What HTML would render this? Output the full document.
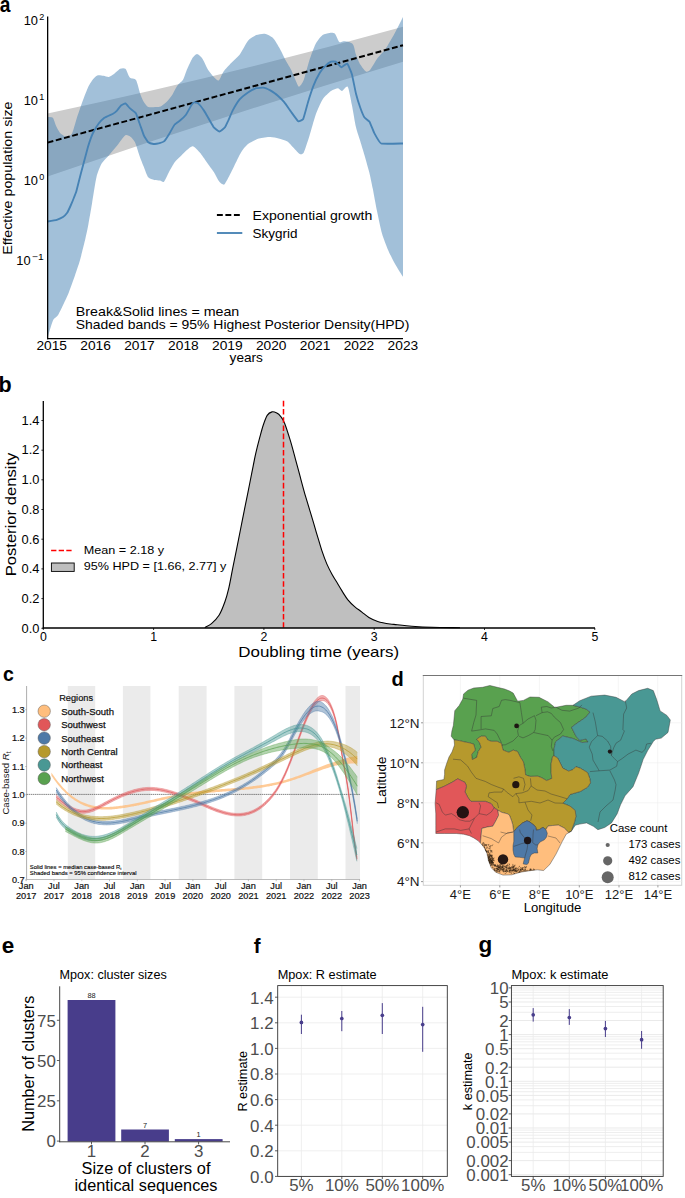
<!DOCTYPE html>
<html><head><meta charset="utf-8"><style>
html,body{margin:0;padding:0;background:#fff;}
svg{display:block;}
text{font-family:"Liberation Sans",sans-serif;}
</style></head><body>
<svg width="685" height="1198" viewBox="0 0 685 1198">
<rect width="685" height="1198" fill="#fff"/>
<g>
<path d="M47.6,113.4 Q225.25,76.1 403,26.8 L403,61.7 Q225.25,115.3 47.6,176.5 Z" fill="#cccccc"/>
<path d="M47.5,116.9 C48.1,117.0 51.8,116.7 52.8,117.8 C53.8,118.9 55.4,124.7 56.3,126.5 C57.2,128.3 59.4,132.4 60.6,133.6 C61.8,134.8 65.5,137.0 66.8,137.0 C68.1,137.0 70.9,135.6 72.0,133.6 C73.1,131.6 75.3,123.0 76.4,119.5 C77.5,116.0 80.4,107.5 81.7,103.8 C83.0,100.1 86.5,90.9 87.8,88.0 C89.1,85.1 91.9,80.8 93.0,79.3 C94.1,77.8 96.2,75.8 97.4,75.4 C98.6,75.0 102.2,75.6 103.5,75.8 C104.8,76.0 107.6,77.2 108.8,77.0 C110.0,76.8 112.7,75.0 114.0,74.0 C115.3,73.0 118.9,69.4 120.2,68.8 C121.5,68.2 124.3,67.8 125.4,68.8 C126.5,69.8 128.6,76.2 129.8,77.5 C131.0,78.8 134.8,78.2 136.0,80.1 C137.2,82.0 139.4,91.6 140.3,94.2 C141.2,96.8 142.9,100.5 143.8,102.0 C144.7,103.5 146.8,106.4 148.2,107.0 C149.6,107.6 154.5,107.1 156.0,107.0 C157.5,106.9 159.5,107.0 160.7,106.4 C161.9,105.8 165.0,103.5 166.3,102.2 C167.6,100.9 170.7,97.2 172.0,95.2 C173.3,93.2 176.2,87.2 177.5,85.4 C178.8,83.6 181.9,81.7 183.0,79.8 C184.1,77.9 186.2,71.1 187.3,68.7 C188.4,66.3 190.9,60.6 192.0,58.9 C193.1,57.2 195.8,54.1 197.0,54.1 C198.2,54.1 201.3,57.0 202.6,58.9 C203.9,60.8 206.9,67.9 208.2,70.0 C209.5,72.1 212.6,75.8 213.8,77.0 C215.0,78.2 217.7,81.1 218.8,80.5 C219.9,79.9 222.2,73.5 223.6,71.5 C225.0,69.5 229.3,65.0 231.2,63.0 C233.1,61.0 237.6,57.3 239.6,54.7 C241.6,52.1 246.1,43.0 248.0,40.7 C249.9,38.4 254.4,35.9 256.3,35.1 C258.2,34.3 262.8,33.4 264.7,33.7 C266.6,34.0 271.2,36.2 273.0,38.0 C274.8,39.8 278.5,46.4 280.0,49.0 C281.5,51.6 284.3,57.8 285.6,60.3 C286.9,62.8 290.1,67.7 291.2,70.0 C292.3,72.3 294.5,77.8 295.4,79.8 C296.3,81.8 298.0,86.8 299.0,86.8 C300.0,86.8 302.6,82.9 303.8,79.8 C305.0,76.7 308.0,64.5 309.4,60.3 C310.8,56.1 314.1,46.9 315.6,44.0 C317.1,41.1 321.0,36.4 322.6,35.1 C324.2,33.8 328.2,33.1 329.6,32.9 C331.0,32.7 333.9,32.6 335.0,33.7 C336.1,34.8 338.3,41.2 339.3,42.1 C340.3,43.0 342.4,41.3 343.5,41.3 C344.6,41.3 347.9,41.7 349.0,42.1 C350.1,42.5 352.5,43.5 353.3,45.0 C354.1,46.5 355.2,52.4 356.0,54.7 C356.8,57.0 359.1,62.5 360.3,64.5 C361.5,66.5 364.8,70.9 365.9,71.5 C367.0,72.1 368.7,71.5 370.0,70.0 C371.3,68.5 375.2,61.3 377.0,58.9 C378.8,56.5 383.4,51.9 385.4,49.1 C387.4,46.3 391.7,38.8 393.8,35.1 C395.9,31.4 401.9,19.1 403.0,17.0 L403.0,276.8 C402.1,275.3 396.9,267.3 395.2,264.2 C393.5,261.1 389.7,253.8 388.2,250.2 C386.7,246.6 383.3,238.1 382.0,233.5 C380.7,228.9 378.1,216.2 377.0,211.0 C375.9,205.8 373.7,193.4 372.8,188.8 C371.9,184.2 370.2,175.9 369.2,172.0 C368.2,168.1 365.5,158.9 364.5,155.3 C363.5,151.7 361.3,144.6 360.3,141.3 C359.3,138.0 357.0,131.5 356.0,127.3 C355.0,123.1 352.9,109.7 351.9,105.0 C350.9,100.3 348.9,88.4 347.7,86.8 C346.5,85.2 343.1,90.8 342.0,91.0 C340.9,91.2 339.3,88.2 338.0,88.2 C336.7,88.2 332.8,89.7 331.0,91.0 C329.2,92.3 324.4,96.6 322.6,99.4 C320.8,102.2 317.1,110.7 315.6,115.0 C314.1,119.3 310.8,131.6 309.4,136.0 C308.0,140.4 304.9,150.4 303.8,152.5 C302.7,154.6 300.7,154.4 299.6,153.9 C298.5,153.4 295.5,149.8 294.0,148.3 C292.5,146.8 288.8,142.4 287.0,141.3 C285.2,140.2 280.6,139.0 278.7,138.5 C276.8,138.0 272.6,137.0 270.3,137.0 C268.0,137.0 261.6,137.7 259.0,138.5 C256.4,139.3 250.1,142.4 248.0,144.0 C245.9,145.6 242.6,149.9 241.0,152.5 C239.4,155.1 235.5,163.5 234.0,166.4 C232.5,169.3 229.5,175.5 228.4,177.6 C227.3,179.7 225.2,184.1 224.2,184.6 C223.1,185.1 220.6,183.3 219.4,181.8 C218.2,180.3 215.3,174.3 213.8,172.0 C212.3,169.7 208.4,164.5 206.8,162.2 C205.2,159.9 201.4,154.4 199.8,152.5 C198.2,150.6 194.3,146.6 192.8,146.3 C191.3,146.0 188.8,148.5 187.3,149.7 C185.8,150.9 181.8,155.1 180.3,156.6 C178.8,158.1 176.0,160.4 174.7,162.2 C173.4,164.0 170.2,169.7 169.0,172.0 C167.8,174.3 165.1,180.7 164.0,181.7 C162.9,182.7 161.1,180.7 160.0,180.5 C158.9,180.3 155.7,180.4 154.3,180.0 C152.9,179.6 149.4,178.8 148.2,177.3 C147.0,175.8 144.8,169.4 143.8,166.8 C142.8,164.2 140.4,158.3 139.4,155.4 C138.4,152.5 136.0,144.4 135.0,142.3 C134.0,140.2 131.8,137.8 130.7,137.0 C129.6,136.2 126.9,134.4 125.4,135.3 C123.9,136.2 119.5,142.7 117.6,145.0 C115.7,147.3 110.6,153.3 108.8,155.4 C107.0,157.5 103.2,160.8 101.8,163.3 C100.4,165.8 97.6,172.3 96.5,177.0 C95.4,181.7 92.9,198.1 92.0,203.6 C91.1,209.1 89.2,219.8 88.4,224.2 C87.6,228.6 85.8,236.9 84.8,241.1 C83.8,245.3 81.0,256.5 79.9,260.5 C78.8,264.5 76.4,271.3 75.1,275.0 C73.8,278.7 70.4,288.4 69.0,291.9 C67.6,295.4 64.3,302.5 63.0,305.2 C61.7,307.9 59.2,313.2 58.1,314.9 C57.0,316.6 54.3,318.0 53.3,319.8 C52.3,321.6 50.4,328.4 49.7,330.6 C49.0,332.8 47.8,337.6 47.6,338.5 Z" fill="#4682b4" fill-opacity="0.5"/>
<line x1="47.6" y1="142.6" x2="403" y2="45.3" stroke="#000" stroke-width="2.0" stroke-dasharray="5.9,2.6"/>
<path d="M47.6,221.5 C48.2,221.4 55.9,220.1 56.8,219.8 C57.7,219.5 62.4,217.4 63.0,217.0 C63.6,216.6 66.5,213.7 67.0,213.0 C67.5,212.3 70.3,206.4 70.7,205.5 C71.1,204.6 73.5,198.8 73.8,198.0 C74.1,197.2 75.9,193.1 76.3,191.6 C76.7,190.1 80.1,176.4 80.8,173.8 C81.5,171.2 87.1,150.0 87.8,147.6 C88.5,145.2 92.3,134.4 93.0,133.0 C93.7,131.6 98.0,124.4 98.7,123.5 C99.4,122.6 103.6,118.4 104.4,117.8 C105.2,117.2 111.8,114.4 112.6,114.0 C113.4,113.6 116.5,111.1 117.0,110.6 C117.5,110.1 120.5,105.9 121.0,105.5 C121.5,105.1 124.9,103.2 125.4,103.4 C125.9,103.6 129.2,107.6 129.8,108.2 C130.4,108.8 135.4,112.5 136.0,113.4 C136.6,114.3 138.9,121.7 139.4,123.0 C139.9,124.3 143.3,134.1 143.8,135.3 C144.3,136.5 147.6,141.8 148.2,142.3 C148.8,142.8 152.8,143.9 153.5,144.0 C154.2,144.1 159.0,143.4 159.6,143.2 C160.2,143.0 163.4,141.9 164.0,141.4 C164.6,140.9 168.4,135.3 169.0,134.3 C169.6,133.3 174.0,125.3 174.7,124.5 C175.4,123.7 179.6,120.9 180.3,120.3 C181.0,119.7 185.3,115.6 186.0,114.7 C186.7,113.8 191.0,105.8 191.5,105.0 C192.0,104.2 194.4,102.3 194.8,102.2 C195.2,102.1 197.8,103.1 198.4,103.6 C199.0,104.1 203.3,109.6 204.0,110.6 C204.7,111.6 209.0,119.3 209.6,120.3 C210.2,121.3 213.2,126.6 213.8,127.3 C214.4,128.0 218.7,131.5 219.4,131.5 C220.1,131.5 224.5,128.0 225.0,127.3 C225.5,126.6 227.9,121.3 228.4,120.3 C228.9,119.3 231.9,111.9 232.6,110.6 C233.3,109.3 238.7,100.5 239.6,99.4 C240.5,98.3 247.0,93.1 248.0,92.4 C249.0,91.7 255.4,88.5 256.3,88.2 C257.2,87.9 262.5,87.6 263.3,87.7 C264.1,87.8 269.5,90.0 270.3,90.4 C271.1,90.9 276.5,94.5 277.3,95.2 C278.1,95.9 283.4,101.2 284.2,102.2 C285.0,103.2 290.4,110.9 291.2,112.0 C292.0,113.1 297.5,120.8 298.2,121.2 C298.9,121.6 302.6,120.1 303.2,119.0 C303.8,117.9 307.4,104.2 308.0,102.2 C308.6,100.2 312.9,87.2 313.6,85.4 C314.3,83.6 319.1,74.0 319.8,72.8 C320.5,71.6 324.7,66.6 325.4,65.9 C326.1,65.2 330.4,62.0 331.0,61.7 C331.6,61.4 335.1,61.4 335.7,61.7 C336.3,62.0 340.6,67.2 341.3,67.3 C342.0,67.4 346.6,63.2 347.2,63.6 C347.8,64.0 351.4,72.4 351.9,74.2 C352.4,76.0 355.5,91.8 356.0,93.8 C356.5,95.8 359.8,106.4 360.3,107.8 C360.8,109.2 363.9,116.7 364.5,117.5 C365.1,118.3 368.9,120.8 369.5,121.7 C370.1,122.6 373.5,131.6 374.2,132.9 C374.9,134.2 379.5,142.9 381.2,143.5 C382.9,144.1 401.7,143.5 403.0,143.5" fill="none" stroke="#4682b4" stroke-width="1.85" stroke-linejoin="round"/>
<line x1="47.65" y1="16.5" x2="47.65" y2="339.3" stroke="#000" stroke-width="1.3"/>
<line x1="47" y1="338.7" x2="403" y2="338.7" stroke="#000" stroke-width="1.3"/>
<text x="23.7" y="24.8" font-size="12.9" textLength="14.3" lengthAdjust="spacingAndGlyphs">10</text>
<text x="39.3" y="19.8" font-size="9.1">2</text>
<text x="23.7" y="104.8" font-size="12.9" textLength="14.3" lengthAdjust="spacingAndGlyphs">10</text>
<text x="39.3" y="99.8" font-size="9.1">1</text>
<text x="23.7" y="184.8" font-size="12.9" textLength="14.3" lengthAdjust="spacingAndGlyphs">10</text>
<text x="39.3" y="179.8" font-size="9.1">0</text>
<text x="16.3" y="264.9" font-size="12.9" textLength="14.3" lengthAdjust="spacingAndGlyphs">10</text>
<text x="32.1" y="259.9" font-size="9.1" textLength="11.7" lengthAdjust="spacingAndGlyphs">−1</text>
<text transform="translate(11.8,178.2) rotate(-90)" x="0" y="0" font-size="13.3" text-anchor="middle" textLength="153.3" lengthAdjust="spacingAndGlyphs">Effective population size</text>
<text x="51.7" y="350.3" font-size="12.6" text-anchor="middle" textLength="30.6" lengthAdjust="spacingAndGlyphs">2015</text>
<text x="95.6" y="350.3" font-size="12.6" text-anchor="middle" textLength="30.6" lengthAdjust="spacingAndGlyphs">2016</text>
<text x="139.5" y="350.3" font-size="12.6" text-anchor="middle" textLength="30.6" lengthAdjust="spacingAndGlyphs">2017</text>
<text x="183.4" y="350.3" font-size="12.6" text-anchor="middle" textLength="30.6" lengthAdjust="spacingAndGlyphs">2018</text>
<text x="227.3" y="350.3" font-size="12.6" text-anchor="middle" textLength="30.6" lengthAdjust="spacingAndGlyphs">2019</text>
<text x="271.2" y="350.3" font-size="12.6" text-anchor="middle" textLength="30.6" lengthAdjust="spacingAndGlyphs">2020</text>
<text x="315.1" y="350.3" font-size="12.6" text-anchor="middle" textLength="30.6" lengthAdjust="spacingAndGlyphs">2021</text>
<text x="359.0" y="350.3" font-size="12.6" text-anchor="middle" textLength="30.6" lengthAdjust="spacingAndGlyphs">2022</text>
<text x="402.9" y="350.3" font-size="12.6" text-anchor="middle" textLength="30.6" lengthAdjust="spacingAndGlyphs">2023</text>
<text x="246.25" y="362.1" font-size="13.3" text-anchor="middle" textLength="33.3" lengthAdjust="spacingAndGlyphs">years</text>
<line x1="216.9" y1="214.9" x2="242.3" y2="214.9" stroke="#000" stroke-width="2.0" stroke-dasharray="5.9,2.6"/>
<line x1="216.9" y1="233" x2="242.3" y2="233" stroke="#4682b4" stroke-width="1.85"/>
<text x="252.6" y="219.8" font-size="13.3" text-anchor="start" fill="#000" font-weight="normal" textLength="119.7" lengthAdjust="spacingAndGlyphs" >Exponential growth</text>
<text x="252.6" y="237.8" font-size="13.3" text-anchor="start" fill="#000" font-weight="normal" textLength="45" lengthAdjust="spacingAndGlyphs" >Skygrid</text>
<text x="75.8" y="315.8" font-size="13.3" text-anchor="start" fill="#000" font-weight="normal" textLength="163.5" lengthAdjust="spacingAndGlyphs" >Break&amp;Solid lines = mean</text>
<text x="75.8" y="329.2" font-size="13.3" text-anchor="start" fill="#000" font-weight="normal" textLength="333.5" lengthAdjust="spacingAndGlyphs" >Shaded bands = 95% Highest Posterior Density(HPD)</text>
<text transform="translate(-0.2,11.7) scale(0.84,1)" font-size="22.8" font-weight="bold">a</text>
</g>
<g>
<path d="M204.8,627.6 C205.9,626.9 209.1,625.7 211.5,623.6 C213.9,621.5 216.9,618.7 219.2,615.0 C221.4,611.3 223.4,606.0 225.0,601.5 C226.6,597.0 227.5,593.5 228.8,588.1 C230.1,582.7 231.3,575.3 232.6,568.9 C233.9,562.5 235.2,556.1 236.5,549.7 C237.8,543.3 239.0,536.9 240.3,530.5 C241.6,524.1 242.8,517.7 244.1,511.3 C245.4,504.9 246.7,498.5 248.0,492.1 C249.3,485.7 250.5,479.3 251.8,472.9 C253.1,466.5 254.4,459.4 255.7,453.7 C257.0,447.9 258.2,443.2 259.5,438.4 C260.8,433.6 262.0,428.8 263.3,425.0 C264.6,421.2 265.8,417.6 267.2,415.4 C268.6,413.2 270.4,412.3 272.0,411.9 C273.6,411.5 275.4,412.4 276.8,413.1 C278.2,413.8 279.3,414.7 280.6,416.3 C281.9,417.9 282.9,419.0 284.5,423.0 C286.1,427.0 288.4,434.3 290.2,440.2 C292.0,446.1 293.6,452.3 295.3,458.6 C297.0,464.9 298.8,471.5 300.5,477.9 C302.2,484.3 304.0,491.1 305.8,497.2 C307.6,503.3 309.4,508.9 311.1,514.7 C312.9,520.6 314.6,526.4 316.3,532.3 C318.1,538.1 319.9,544.5 321.6,549.8 C323.4,555.1 325.1,559.8 326.8,563.9 C328.6,568.0 330.3,571.2 332.1,574.4 C333.9,577.6 335.6,580.3 337.4,583.2 C339.1,586.1 340.9,589.1 342.6,591.9 C344.4,594.7 345.8,597.3 347.9,599.8 C349.9,602.3 352.6,604.8 354.9,606.8 C357.2,608.8 359.6,610.3 361.9,612.1 C364.2,613.9 366.3,615.9 368.9,617.4 C371.5,618.9 374.2,620.3 377.7,621.4 C381.2,622.5 386.8,623.5 390.0,624.0 C393.2,624.5 393.6,624.3 397.2,624.7 C400.8,625.1 406.0,625.8 411.8,626.2 C417.6,626.6 424.0,627.0 432.0,627.2 C440.0,627.5 455.3,627.6 460.0,627.7 L460,627.9 L204.8,627.9 Z" fill="#bfbfbf" stroke="none"/>
<path d="M204.8,627.6 C205.9,626.9 209.1,625.7 211.5,623.6 C213.9,621.5 216.9,618.7 219.2,615.0 C221.4,611.3 223.4,606.0 225.0,601.5 C226.6,597.0 227.5,593.5 228.8,588.1 C230.1,582.7 231.3,575.3 232.6,568.9 C233.9,562.5 235.2,556.1 236.5,549.7 C237.8,543.3 239.0,536.9 240.3,530.5 C241.6,524.1 242.8,517.7 244.1,511.3 C245.4,504.9 246.7,498.5 248.0,492.1 C249.3,485.7 250.5,479.3 251.8,472.9 C253.1,466.5 254.4,459.4 255.7,453.7 C257.0,447.9 258.2,443.2 259.5,438.4 C260.8,433.6 262.0,428.8 263.3,425.0 C264.6,421.2 265.8,417.6 267.2,415.4 C268.6,413.2 270.4,412.3 272.0,411.9 C273.6,411.5 275.4,412.4 276.8,413.1 C278.2,413.8 279.3,414.7 280.6,416.3 C281.9,417.9 282.9,419.0 284.5,423.0 C286.1,427.0 288.4,434.3 290.2,440.2 C292.0,446.1 293.6,452.3 295.3,458.6 C297.0,464.9 298.8,471.5 300.5,477.9 C302.2,484.3 304.0,491.1 305.8,497.2 C307.6,503.3 309.4,508.9 311.1,514.7 C312.9,520.6 314.6,526.4 316.3,532.3 C318.1,538.1 319.9,544.5 321.6,549.8 C323.4,555.1 325.1,559.8 326.8,563.9 C328.6,568.0 330.3,571.2 332.1,574.4 C333.9,577.6 335.6,580.3 337.4,583.2 C339.1,586.1 340.9,589.1 342.6,591.9 C344.4,594.7 345.8,597.3 347.9,599.8 C349.9,602.3 352.6,604.8 354.9,606.8 C357.2,608.8 359.6,610.3 361.9,612.1 C364.2,613.9 366.3,615.9 368.9,617.4 C371.5,618.9 374.2,620.3 377.7,621.4 C381.2,622.5 386.8,623.5 390.0,624.0 C393.2,624.5 393.6,624.3 397.2,624.7 C400.8,625.1 406.0,625.8 411.8,626.2 C417.6,626.6 424.0,627.0 432.0,627.2 C440.0,627.5 455.3,627.6 460.0,627.7" fill="none" stroke="#000" stroke-width="1.1"/>
<line x1="283.5" y1="400.8" x2="283.5" y2="627.5" stroke="#f00" stroke-width="1.5" stroke-dasharray="5.6,2.6"/>
<line x1="43.3" y1="400.9" x2="43.3" y2="628.6" stroke="#000" stroke-width="1.3"/>
<line x1="42.7" y1="627.95" x2="595" y2="627.95" stroke="#000" stroke-width="1.4"/>
<line x1="41.4" y1="628.3" x2="43.3" y2="628.3" stroke="#000" stroke-width="0.8"/>
<text x="39.4" y="632.5999999999999" font-size="12.3" text-anchor="end" fill="#000" font-weight="normal" textLength="17.9" lengthAdjust="spacingAndGlyphs" >0.0</text>
<line x1="41.4" y1="598.6" x2="43.3" y2="598.6" stroke="#000" stroke-width="0.8"/>
<text x="39.4" y="602.9099999999999" font-size="12.3" text-anchor="end" fill="#000" font-weight="normal" textLength="17.9" lengthAdjust="spacingAndGlyphs" >0.2</text>
<line x1="41.4" y1="568.9" x2="43.3" y2="568.9" stroke="#000" stroke-width="0.8"/>
<text x="39.4" y="573.2199999999999" font-size="12.3" text-anchor="end" fill="#000" font-weight="normal" textLength="17.9" lengthAdjust="spacingAndGlyphs" >0.4</text>
<line x1="41.4" y1="539.2" x2="43.3" y2="539.2" stroke="#000" stroke-width="0.8"/>
<text x="39.4" y="543.5299999999999" font-size="12.3" text-anchor="end" fill="#000" font-weight="normal" textLength="17.9" lengthAdjust="spacingAndGlyphs" >0.6</text>
<line x1="41.4" y1="509.5" x2="43.3" y2="509.5" stroke="#000" stroke-width="0.8"/>
<text x="39.4" y="513.8399999999999" font-size="12.3" text-anchor="end" fill="#000" font-weight="normal" textLength="17.9" lengthAdjust="spacingAndGlyphs" >0.8</text>
<line x1="41.4" y1="479.8" x2="43.3" y2="479.8" stroke="#000" stroke-width="0.8"/>
<text x="39.4" y="484.1499999999999" font-size="12.3" text-anchor="end" fill="#000" font-weight="normal" textLength="17.9" lengthAdjust="spacingAndGlyphs" >1.0</text>
<line x1="41.4" y1="450.2" x2="43.3" y2="450.2" stroke="#000" stroke-width="0.8"/>
<text x="39.4" y="454.46" font-size="12.3" text-anchor="end" fill="#000" font-weight="normal" textLength="17.9" lengthAdjust="spacingAndGlyphs" >1.2</text>
<line x1="41.4" y1="420.5" x2="43.3" y2="420.5" stroke="#000" stroke-width="0.8"/>
<text x="39.4" y="424.7699999999999" font-size="12.3" text-anchor="end" fill="#000" font-weight="normal" textLength="17.9" lengthAdjust="spacingAndGlyphs" >1.4</text>
<line x1="43.3" y1="628" x2="43.3" y2="630" stroke="#000" stroke-width="0.8"/>
<text x="43.3" y="641.3" font-size="12.3" text-anchor="middle" fill="#000" font-weight="normal" >0</text>
<line x1="153.6" y1="628" x2="153.6" y2="630" stroke="#000" stroke-width="0.8"/>
<text x="153.6" y="641.3" font-size="12.3" text-anchor="middle" fill="#000" font-weight="normal" >1</text>
<line x1="263.9" y1="628" x2="263.9" y2="630" stroke="#000" stroke-width="0.8"/>
<text x="263.9" y="641.3" font-size="12.3" text-anchor="middle" fill="#000" font-weight="normal" >2</text>
<line x1="374.2" y1="628" x2="374.2" y2="630" stroke="#000" stroke-width="0.8"/>
<text x="374.2" y="641.3" font-size="12.3" text-anchor="middle" fill="#000" font-weight="normal" >3</text>
<line x1="484.5" y1="628" x2="484.5" y2="630" stroke="#000" stroke-width="0.8"/>
<text x="484.5" y="641.3" font-size="12.3" text-anchor="middle" fill="#000" font-weight="normal" >4</text>
<line x1="594.8" y1="628" x2="594.8" y2="630" stroke="#000" stroke-width="0.8"/>
<text x="594.8" y="641.3" font-size="12.3" text-anchor="middle" fill="#000" font-weight="normal" >5</text>
<text transform="translate(15.8,514.5) rotate(-90)" font-size="14.6" text-anchor="middle" textLength="123.7" lengthAdjust="spacingAndGlyphs">Posterior density</text>
<text x="318.75" y="656.5" font-size="14.6" text-anchor="middle" fill="#000" font-weight="normal" textLength="161" lengthAdjust="spacingAndGlyphs" >Doubling time (years)</text>
<line x1="51.1" y1="550.4" x2="73" y2="550.4" stroke="#f00" stroke-width="1.5" stroke-dasharray="5.3,2.3"/>
<rect x="51.4" y="563" width="22.8" height="8.4" fill="#bfbfbf" stroke="#000" stroke-width="0.9"/>
<text x="83.8" y="553.6" font-size="11.2" text-anchor="start" fill="#000" font-weight="normal" textLength="80.3" lengthAdjust="spacingAndGlyphs" >Mean = 2.18 y</text>
<text x="83.8" y="570.2" font-size="11.2" text-anchor="start" fill="#000" font-weight="normal" textLength="142.5" lengthAdjust="spacingAndGlyphs" >95% HPD = [1.66, 2.77] y</text>
<text x="-1.5" y="391.7" font-size="21.5" font-weight="bold">b</text>
</g>
<g>
<rect x="67.8" y="686" width="27.4" height="193.4" fill="#ebebeb"/>
<rect x="122.9" y="686" width="27.5" height="193.4" fill="#ebebeb"/>
<rect x="178.7" y="686" width="27.9" height="193.4" fill="#ebebeb"/>
<rect x="234.4" y="686" width="27.8" height="193.4" fill="#ebebeb"/>
<rect x="290" y="686" width="27.8" height="193.4" fill="#ebebeb"/>
<rect x="345.5" y="686" width="14.5" height="193.4" fill="#ebebeb"/>
<line x1="26.6" y1="879.5" x2="360" y2="879.5" stroke="#a0a0a0" stroke-width="0.7"/>
<line x1="26.6" y1="686" x2="26.6" y2="879.5" stroke="#8a8a8a" stroke-width="0.7"/>
<line x1="26.6" y1="794.4" x2="360" y2="794.4" stroke="#333" stroke-width="0.6" stroke-dasharray="1.5,0.6"/>
<path d="M51.4,772.5 L52.7,774.4 L54.0,776.3 L55.2,778.1 L56.5,779.8 L57.8,781.5 L59.1,783.1 L60.4,784.6 L61.6,786.1 L62.9,787.5 L64.2,788.8 L65.5,790.1 L66.8,791.4 L68.0,792.6 L69.3,793.7 L70.6,794.8 L71.9,795.8 L73.2,796.7 L74.4,797.6 L75.7,798.4 L77.0,799.2 L78.3,800.0 L79.6,800.7 L80.8,801.4 L82.1,802.0 L83.4,802.6 L84.7,803.1 L86.0,803.6 L87.2,804.0 L88.5,804.5 L89.8,804.8 L91.1,805.2 L92.4,805.5 L93.6,805.8 L94.9,806.0 L96.2,806.2 L97.5,806.4 L98.8,806.6 L100.0,806.7 L101.3,806.8 L102.6,806.9 L103.9,806.9 L105.2,806.9 L106.4,806.9 L107.7,806.9 L109.0,806.9 L110.3,806.8 L111.6,806.8 L112.8,806.7 L114.1,806.6 L115.4,806.4 L116.7,806.3 L118.0,806.2 L119.2,806.0 L120.5,805.8 L121.8,805.7 L123.1,805.5 L124.4,805.3 L125.6,805.1 L126.9,804.9 L128.2,804.7 L129.5,804.5 L130.8,804.2 L132.0,804.0 L133.3,803.8 L134.6,803.5 L135.9,803.3 L137.2,803.0 L138.4,802.8 L139.7,802.5 L141.0,802.2 L142.3,801.9 L143.6,801.7 L144.8,801.4 L146.1,801.1 L147.4,800.8 L148.7,800.5 L150.0,800.2 L151.2,800.0 L152.5,799.7 L153.8,799.4 L155.1,799.1 L156.4,798.8 L157.6,798.5 L158.9,798.2 L160.2,797.9 L161.5,797.6 L162.8,797.3 L164.0,797.1 L165.3,796.8 L166.6,796.5 L167.9,796.2 L169.2,796.0 L170.4,795.7 L171.7,795.4 L173.0,795.2 L174.3,794.9 L175.6,794.7 L176.8,794.4 L178.1,794.2 L179.4,793.9 L180.7,793.7 L182.0,793.5 L183.2,793.3 L184.5,793.1 L185.8,792.9 L187.1,792.7 L188.4,792.5 L189.6,792.3 L190.9,792.1 L192.2,792.0 L193.5,791.8 L194.8,791.7 L196.0,791.5 L197.3,791.4 L198.6,791.2 L199.9,791.1 L201.2,790.9 L202.4,790.8 L203.7,790.7 L205.0,790.6 L206.3,790.4 L207.5,790.3 L208.8,790.2 L210.1,790.1 L211.4,790.0 L212.7,789.9 L213.9,789.8 L215.2,789.7 L216.5,789.5 L217.8,789.4 L219.1,789.3 L220.3,789.2 L221.6,789.1 L222.9,789.0 L224.2,788.9 L225.5,788.8 L226.7,788.7 L228.0,788.6 L229.3,788.5 L230.6,788.4 L231.9,788.3 L233.1,788.2 L234.4,788.1 L235.7,788.0 L237.0,787.9 L238.3,787.8 L239.5,787.7 L240.8,787.5 L242.1,787.4 L243.4,787.3 L244.7,787.2 L245.9,787.0 L247.2,786.9 L248.5,786.8 L249.8,786.6 L251.1,786.5 L252.3,786.3 L253.6,786.1 L254.9,786.0 L256.2,785.8 L257.5,785.6 L258.7,785.5 L260.0,785.3 L261.3,785.1 L262.6,784.9 L263.9,784.7 L265.1,784.4 L266.4,784.2 L267.7,784.0 L269.0,783.8 L270.3,783.5 L271.5,783.3 L272.8,783.0 L274.1,782.7 L275.4,782.5 L276.7,782.2 L277.9,781.9 L279.2,781.6 L280.5,781.2 L281.8,780.9 L283.1,780.6 L284.3,780.2 L285.6,779.9 L286.9,779.5 L288.2,779.1 L289.5,778.7 L290.7,778.3 L292.0,777.9 L293.3,777.5 L294.6,777.1 L295.9,776.6 L297.1,776.2 L298.4,775.7 L299.7,775.3 L301.0,774.8 L302.3,774.3 L303.5,773.8 L304.8,773.3 L306.1,772.7 L307.4,772.2 L308.7,771.7 L309.9,771.2 L311.2,770.7 L312.5,770.1 L313.8,769.6 L315.1,769.1 L316.3,768.6 L317.6,768.1 L318.9,767.6 L320.2,767.1 L321.5,766.6 L322.7,766.1 L324.0,765.6 L325.3,765.1 L326.6,764.6 L327.9,764.1 L329.1,763.7 L330.4,763.2 L331.7,762.8 L333.0,762.4 L334.3,762.0 L335.5,761.5 L336.8,761.1 L338.1,760.6 L339.4,760.2 L340.7,759.8 L341.9,759.4 L343.2,759.0 L344.5,758.6 L345.8,758.2 L347.1,757.9 L348.3,757.6 L349.6,757.3 L350.9,757.0 L352.2,756.8 L353.5,756.6 L354.7,756.4 L356.0,756.2 L357.3,756.0 L357.3,763.6 L356.0,763.6 L354.7,763.6 L353.5,763.6 L352.2,763.6 L350.9,763.6 L349.6,763.7 L348.3,763.8 L347.1,763.9 L345.8,764.0 L344.5,764.2 L343.2,764.3 L341.9,764.5 L340.7,764.7 L339.4,764.9 L338.1,765.1 L336.8,765.4 L335.5,765.6 L334.3,765.9 L333.0,766.3 L331.7,766.7 L330.4,767.1 L329.1,767.5 L327.9,767.9 L326.6,768.3 L325.3,768.7 L324.0,769.1 L322.7,769.6 L321.5,770.0 L320.2,770.5 L318.9,770.9 L317.6,771.4 L316.3,771.8 L315.1,772.3 L313.8,772.8 L312.5,773.2 L311.2,773.7 L309.9,774.2 L308.7,774.7 L307.4,775.1 L306.1,775.6 L304.8,776.0 L303.5,776.5 L302.3,777.0 L301.0,777.4 L299.7,777.9 L298.4,778.3 L297.1,778.8 L295.9,779.2 L294.6,779.7 L293.3,780.1 L292.0,780.5 L290.7,780.9 L289.5,781.3 L288.2,781.7 L286.9,782.1 L285.6,782.5 L284.3,782.8 L283.1,783.2 L281.8,783.5 L280.5,783.8 L279.2,784.2 L277.9,784.5 L276.7,784.8 L275.4,785.1 L274.1,785.3 L272.8,785.6 L271.5,785.9 L270.3,786.1 L269.0,786.4 L267.7,786.6 L266.4,786.8 L265.1,787.0 L263.9,787.3 L262.6,787.5 L261.3,787.7 L260.0,787.9 L258.7,788.1 L257.5,788.2 L256.2,788.4 L254.9,788.6 L253.6,788.7 L252.3,788.9 L251.1,789.1 L249.8,789.2 L248.5,789.4 L247.2,789.5 L245.9,789.6 L244.7,789.8 L243.4,789.9 L242.1,790.0 L240.8,790.1 L239.5,790.3 L238.3,790.4 L237.0,790.5 L235.7,790.6 L234.4,790.7 L233.1,790.8 L231.9,790.9 L230.6,791.0 L229.3,791.1 L228.0,791.2 L226.7,791.3 L225.5,791.4 L224.2,791.5 L222.9,791.6 L221.6,791.7 L220.3,791.8 L219.1,791.9 L217.8,792.0 L216.5,792.1 L215.2,792.3 L213.9,792.4 L212.7,792.5 L211.4,792.6 L210.1,792.7 L208.8,792.8 L207.5,792.9 L206.3,793.0 L205.0,793.2 L203.7,793.3 L202.4,793.4 L201.2,793.5 L199.9,793.7 L198.6,793.8 L197.3,794.0 L196.0,794.1 L194.8,794.3 L193.5,794.4 L192.2,794.6 L190.9,794.7 L189.6,794.9 L188.4,795.1 L187.1,795.3 L185.8,795.5 L184.5,795.7 L183.2,795.9 L182.0,796.1 L180.7,796.3 L179.4,796.5 L178.1,796.8 L176.8,797.0 L175.6,797.3 L174.3,797.5 L173.0,797.8 L171.7,798.0 L170.4,798.3 L169.2,798.6 L167.9,798.8 L166.6,799.1 L165.3,799.4 L164.0,799.7 L162.8,799.9 L161.5,800.2 L160.2,800.5 L158.9,800.8 L157.6,801.1 L156.4,801.4 L155.1,801.7 L153.8,802.0 L152.5,802.3 L151.2,802.6 L150.0,802.8 L148.7,803.1 L147.4,803.4 L146.1,803.7 L144.8,804.0 L143.6,804.3 L142.3,804.5 L141.0,804.8 L139.7,805.1 L138.4,805.4 L137.2,805.6 L135.9,805.9 L134.6,806.1 L133.3,806.4 L132.0,806.6 L130.8,806.8 L129.5,807.1 L128.2,807.3 L126.9,807.5 L125.6,807.7 L124.4,807.9 L123.1,808.1 L121.8,808.3 L120.5,808.4 L119.2,808.6 L118.0,808.8 L116.7,808.9 L115.4,809.0 L114.1,809.2 L112.8,809.3 L111.6,809.4 L110.3,809.4 L109.0,809.5 L107.7,809.5 L106.4,809.5 L105.2,809.5 L103.9,809.5 L102.6,809.5 L101.3,809.4 L100.0,809.3 L98.8,809.2 L97.5,809.0 L96.2,808.8 L94.9,808.6 L93.6,808.4 L92.4,808.1 L91.1,807.8 L89.8,807.4 L88.5,807.1 L87.2,806.6 L86.0,806.2 L84.7,805.7 L83.4,805.2 L82.1,804.6 L80.8,804.0 L79.6,803.3 L78.3,802.6 L77.0,801.8 L75.7,801.0 L74.4,800.2 L73.2,799.3 L71.9,798.4 L70.6,797.4 L69.3,796.3 L68.0,795.2 L66.8,794.1 L65.5,792.9 L64.2,791.6 L62.9,790.3 L61.6,788.9 L60.4,787.5 L59.1,786.0 L57.8,784.5 L56.5,782.8 L55.2,781.1 L54.0,779.4 L52.7,777.6 L51.4,775.7 Z" fill="#FFBE7D" fill-opacity="0.8" stroke="none"/>
<path d="M56.2,794.7 L57.5,795.9 L58.7,797.1 L60.0,798.2 L61.2,799.3 L62.5,800.4 L63.8,801.5 L65.0,802.5 L66.3,803.4 L67.5,804.4 L68.8,805.2 L70.0,806.0 L71.3,806.7 L72.6,807.4 L73.8,808.0 L75.1,808.5 L76.3,808.9 L77.6,809.3 L78.9,809.6 L80.1,809.9 L81.4,810.0 L82.6,810.1 L83.9,810.1 L85.1,810.0 L86.4,809.9 L87.7,809.7 L88.9,809.4 L90.2,809.0 L91.4,808.7 L92.7,808.2 L94.0,807.7 L95.2,807.2 L96.5,806.7 L97.7,806.1 L99.0,805.5 L100.3,804.8 L101.5,804.2 L102.8,803.5 L104.0,802.8 L105.3,802.1 L106.5,801.5 L107.8,800.8 L109.1,800.1 L110.3,799.5 L111.6,798.8 L112.8,798.2 L114.1,797.6 L115.4,796.9 L116.6,796.3 L117.9,795.8 L119.1,795.2 L120.4,794.6 L121.6,794.1 L122.9,793.5 L124.2,793.0 L125.4,792.5 L126.7,792.1 L127.9,791.6 L129.2,791.2 L130.5,790.8 L131.7,790.4 L133.0,790.0 L134.2,789.6 L135.5,789.3 L136.7,789.0 L138.0,788.7 L139.3,788.5 L140.5,788.2 L141.8,788.0 L143.0,787.8 L144.3,787.7 L145.6,787.6 L146.8,787.5 L148.1,787.4 L149.3,787.4 L150.6,787.4 L151.9,787.4 L153.1,787.5 L154.4,787.6 L155.6,787.7 L156.9,787.8 L158.1,788.0 L159.4,788.2 L160.7,788.4 L161.9,788.6 L163.2,788.8 L164.4,789.1 L165.7,789.4 L167.0,789.7 L168.2,790.0 L169.5,790.4 L170.7,790.7 L172.0,791.1 L173.2,791.5 L174.5,791.9 L175.8,792.3 L177.0,792.7 L178.3,793.1 L179.5,793.6 L180.8,794.0 L182.1,794.5 L183.3,794.9 L184.6,795.4 L185.8,795.9 L187.1,796.4 L188.4,796.9 L189.6,797.4 L190.9,797.9 L192.1,798.5 L193.4,799.0 L194.6,799.5 L195.9,800.1 L197.2,800.6 L198.4,801.2 L199.7,801.7 L200.9,802.3 L202.2,802.8 L203.5,803.4 L204.7,804.0 L206.0,804.5 L207.2,805.1 L208.5,805.6 L209.7,806.2 L211.0,806.7 L212.3,807.2 L213.5,807.7 L214.8,808.2 L216.0,808.7 L217.3,809.1 L218.6,809.6 L219.8,810.0 L221.1,810.4 L222.3,810.8 L223.6,811.2 L224.8,811.5 L226.1,811.9 L227.4,812.1 L228.6,812.4 L229.9,812.7 L231.1,812.9 L232.4,813.0 L233.7,813.2 L234.9,813.3 L236.2,813.4 L237.4,813.4 L238.7,813.4 L240.0,813.4 L241.2,813.3 L242.5,813.1 L243.7,813.0 L245.0,812.8 L246.2,812.5 L247.5,812.2 L248.8,811.9 L250.0,811.4 L251.3,811.0 L252.5,810.4 L253.8,809.9 L255.1,809.2 L256.3,808.5 L257.6,807.8 L258.8,807.0 L260.1,806.1 L261.3,805.2 L262.6,804.2 L263.9,803.1 L265.1,802.0 L266.4,800.8 L267.6,799.5 L268.9,798.2 L270.2,796.8 L271.4,795.3 L272.7,793.8 L273.9,792.1 L275.2,790.4 L276.5,788.5 L277.7,786.5 L279.0,784.5 L280.2,782.2 L281.5,779.9 L282.7,777.4 L284.0,774.8 L285.3,772.1 L286.5,769.2 L287.8,766.2 L289.0,763.1 L290.3,760.0 L291.6,756.7 L292.8,753.3 L294.1,749.8 L295.3,746.3 L296.6,742.8 L297.8,739.2 L299.1,735.7 L300.4,732.2 L301.6,728.8 L302.9,725.4 L304.1,722.2 L305.4,719.0 L306.7,716.0 L307.9,713.2 L309.2,710.5 L310.4,708.0 L311.7,705.7 L312.9,703.5 L314.2,701.6 L315.5,699.9 L316.7,698.5 L318.0,697.3 L319.2,696.4 L320.5,695.8 L321.8,695.5 L323.0,695.6 L324.3,696.0 L325.5,696.8 L326.8,697.9 L328.1,699.5 L329.3,701.4 L330.6,703.7 L331.8,706.6 L333.1,709.8 L334.3,713.7 L335.6,718.3 L336.9,723.7 L338.1,730.1 L339.4,737.3 L340.6,744.9 L341.9,752.6 L343.2,760.0 L344.4,767.0 L345.7,773.6 L346.9,780.5 L348.2,788.5 L349.4,797.9 L350.7,808.3 L352.0,819.3 L353.2,830.2 L354.5,840.5 L355.7,849.7 L357.0,857.3 L357.0,860.3 L355.7,852.7 L354.5,843.5 L353.2,833.2 L352.0,822.3 L350.7,811.3 L349.4,800.9 L348.2,791.5 L346.9,783.5 L345.7,776.6 L344.4,770.0 L343.2,763.0 L341.9,755.6 L340.6,747.9 L339.4,740.3 L338.1,733.3 L336.9,727.1 L335.6,721.8 L334.3,717.4 L333.1,713.7 L331.8,710.6 L330.6,707.9 L329.3,705.7 L328.1,703.9 L326.8,702.6 L325.5,701.6 L324.3,700.9 L323.0,700.6 L321.8,700.7 L320.5,700.9 L319.2,701.4 L318.0,702.2 L316.7,703.3 L315.5,704.7 L314.2,706.3 L312.9,708.1 L311.7,710.1 L310.4,712.3 L309.2,714.8 L307.9,717.4 L306.7,720.1 L305.4,723.0 L304.1,726.1 L302.9,729.2 L301.6,732.5 L300.4,735.8 L299.1,739.3 L297.8,742.8 L296.6,746.3 L295.3,749.8 L294.1,753.3 L292.8,756.7 L291.6,760.1 L290.3,763.4 L289.0,766.5 L287.8,769.6 L286.5,772.5 L285.3,775.4 L284.0,778.1 L282.7,780.7 L281.5,783.1 L280.2,785.4 L279.0,787.6 L277.7,789.7 L276.5,791.6 L275.2,793.5 L273.9,795.2 L272.7,796.8 L271.4,798.3 L270.2,799.8 L268.9,801.2 L267.6,802.5 L266.4,803.7 L265.1,804.9 L263.9,806.0 L262.6,807.0 L261.3,808.0 L260.1,808.9 L258.8,809.8 L257.6,810.5 L256.3,811.3 L255.1,811.9 L253.8,812.5 L252.5,813.1 L251.3,813.6 L250.0,814.0 L248.8,814.5 L247.5,814.8 L246.2,815.1 L245.0,815.4 L243.7,815.6 L242.5,815.8 L241.2,815.9 L240.0,816.0 L238.7,816.0 L237.4,816.0 L236.2,816.0 L234.9,815.9 L233.7,815.8 L232.4,815.7 L231.1,815.5 L229.9,815.3 L228.6,815.1 L227.4,814.8 L226.1,814.5 L224.8,814.2 L223.6,813.9 L222.3,813.5 L221.1,813.1 L219.8,812.7 L218.6,812.3 L217.3,811.9 L216.0,811.4 L214.8,810.9 L213.5,810.5 L212.3,809.9 L211.0,809.4 L209.7,808.9 L208.5,808.4 L207.2,807.8 L206.0,807.3 L204.7,806.7 L203.5,806.2 L202.2,805.6 L200.9,805.1 L199.7,804.5 L198.4,804.0 L197.2,803.4 L195.9,802.9 L194.6,802.3 L193.4,801.8 L192.1,801.3 L190.9,800.8 L189.6,800.3 L188.4,799.8 L187.1,799.3 L185.8,798.8 L184.6,798.3 L183.3,797.8 L182.1,797.3 L180.8,796.9 L179.5,796.4 L178.3,796.0 L177.0,795.6 L175.8,795.2 L174.5,794.8 L173.2,794.4 L172.0,794.0 L170.7,793.6 L169.5,793.3 L168.2,793.0 L167.0,792.6 L165.7,792.3 L164.4,792.1 L163.2,791.8 L161.9,791.5 L160.7,791.3 L159.4,791.1 L158.1,790.9 L156.9,790.8 L155.6,790.7 L154.4,790.5 L153.1,790.5 L151.9,790.4 L150.6,790.4 L149.3,790.4 L148.1,790.4 L146.8,790.5 L145.6,790.6 L144.3,790.7 L143.0,790.9 L141.8,791.0 L140.5,791.3 L139.3,791.5 L138.0,791.7 L136.7,792.0 L135.5,792.3 L134.2,792.7 L133.0,793.0 L131.7,793.4 L130.5,793.8 L129.2,794.2 L127.9,794.7 L126.7,795.1 L125.4,795.6 L124.2,796.1 L122.9,796.6 L121.6,797.1 L120.4,797.7 L119.1,798.3 L117.9,798.8 L116.6,799.4 L115.4,800.0 L114.1,800.6 L112.8,801.3 L111.6,801.9 L110.3,802.6 L109.1,803.2 L107.8,803.9 L106.5,804.6 L105.3,805.3 L104.0,805.9 L102.8,806.6 L101.5,807.3 L100.3,807.9 L99.0,808.6 L97.7,809.2 L96.5,809.8 L95.2,810.3 L94.0,810.9 L92.7,811.4 L91.4,811.8 L90.2,812.2 L88.9,812.5 L87.7,812.8 L86.4,813.0 L85.1,813.2 L83.9,813.3 L82.6,813.3 L81.4,813.2 L80.1,813.0 L78.9,812.8 L77.6,812.5 L76.3,812.1 L75.1,811.7 L73.8,811.2 L72.6,810.6 L71.3,809.9 L70.0,809.2 L68.8,808.5 L67.5,807.8 L66.3,807.0 L65.0,806.1 L63.8,805.2 L62.5,804.3 L61.2,803.3 L60.0,802.3 L58.7,801.2 L57.5,800.2 L56.2,799.1 Z" fill="#E15759" fill-opacity="0.45" stroke="none"/>
<path d="M56.2,794.7 L57.5,795.9 L58.7,797.1 L60.0,798.2 L61.2,799.3 L62.5,800.4 L63.8,801.5 L65.0,802.5 L66.3,803.4 L67.5,804.4 L68.8,805.2 L70.0,806.0 L71.3,806.7 L72.6,807.4 L73.8,808.0 L75.1,808.5 L76.3,808.9 L77.6,809.3 L78.9,809.6 L80.1,809.9 L81.4,810.0 L82.6,810.1 L83.9,810.1 L85.1,810.0 L86.4,809.9 L87.7,809.7 L88.9,809.4 L90.2,809.0 L91.4,808.7 L92.7,808.2 L94.0,807.7 L95.2,807.2 L96.5,806.7 L97.7,806.1 L99.0,805.5 L100.3,804.8 L101.5,804.2 L102.8,803.5 L104.0,802.8 L105.3,802.1 L106.5,801.5 L107.8,800.8 L109.1,800.1 L110.3,799.5 L111.6,798.8 L112.8,798.2 L114.1,797.6 L115.4,796.9 L116.6,796.3 L117.9,795.8 L119.1,795.2 L120.4,794.6 L121.6,794.1 L122.9,793.5 L124.2,793.0 L125.4,792.5 L126.7,792.1 L127.9,791.6 L129.2,791.2 L130.5,790.8 L131.7,790.4 L133.0,790.0 L134.2,789.6 L135.5,789.3 L136.7,789.0 L138.0,788.7 L139.3,788.5 L140.5,788.2 L141.8,788.0 L143.0,787.8 L144.3,787.7 L145.6,787.6 L146.8,787.5 L148.1,787.4 L149.3,787.4 L150.6,787.4 L151.9,787.4 L153.1,787.5 L154.4,787.6 L155.6,787.7 L156.9,787.8 L158.1,788.0 L159.4,788.2 L160.7,788.4 L161.9,788.6 L163.2,788.8 L164.4,789.1 L165.7,789.4 L167.0,789.7 L168.2,790.0 L169.5,790.4 L170.7,790.7 L172.0,791.1 L173.2,791.5 L174.5,791.9 L175.8,792.3 L177.0,792.7 L178.3,793.1 L179.5,793.6 L180.8,794.0 L182.1,794.5 L183.3,794.9 L184.6,795.4 L185.8,795.9 L187.1,796.4 L188.4,796.9 L189.6,797.4 L190.9,797.9 L192.1,798.5 L193.4,799.0 L194.6,799.5 L195.9,800.1 L197.2,800.6 L198.4,801.2 L199.7,801.7 L200.9,802.3 L202.2,802.8 L203.5,803.4 L204.7,804.0 L206.0,804.5 L207.2,805.1 L208.5,805.6 L209.7,806.2 L211.0,806.7 L212.3,807.2 L213.5,807.7 L214.8,808.2 L216.0,808.7 L217.3,809.1 L218.6,809.6 L219.8,810.0 L221.1,810.4 L222.3,810.8 L223.6,811.2 L224.8,811.5 L226.1,811.9 L227.4,812.1 L228.6,812.4 L229.9,812.7 L231.1,812.9 L232.4,813.0 L233.7,813.2 L234.9,813.3 L236.2,813.4 L237.4,813.4 L238.7,813.4 L240.0,813.4 L241.2,813.3 L242.5,813.1 L243.7,813.0 L245.0,812.8 L246.2,812.5 L247.5,812.2 L248.8,811.9 L250.0,811.4 L251.3,811.0 L252.5,810.4 L253.8,809.9 L255.1,809.2 L256.3,808.5 L257.6,807.8 L258.8,807.0 L260.1,806.1 L261.3,805.2 L262.6,804.2 L263.9,803.1 L265.1,802.0 L266.4,800.8 L267.6,799.5 L268.9,798.2 L270.2,796.8 L271.4,795.3 L272.7,793.8 L273.9,792.1 L275.2,790.4 L276.5,788.5 L277.7,786.5 L279.0,784.5 L280.2,782.2 L281.5,779.9 L282.7,777.4 L284.0,774.8 L285.3,772.1 L286.5,769.2 L287.8,766.2 L289.0,763.1 L290.3,760.0 L291.6,756.7 L292.8,753.3 L294.1,749.8 L295.3,746.3 L296.6,742.8 L297.8,739.2 L299.1,735.7 L300.4,732.2 L301.6,728.8 L302.9,725.4 L304.1,722.2 L305.4,719.0 L306.7,716.0 L307.9,713.2 L309.2,710.5 L310.4,708.0 L311.7,705.7 L312.9,703.5 L314.2,701.6 L315.5,699.9 L316.7,698.5 L318.0,697.3 L319.2,696.4 L320.5,695.8 L321.8,695.5 L323.0,695.6 L324.3,696.0 L325.5,696.8 L326.8,697.9 L328.1,699.5 L329.3,701.4 L330.6,703.7 L331.8,706.6 L333.1,709.8 L334.3,713.7 L335.6,718.3 L336.9,723.7 L338.1,730.1 L339.4,737.3 L340.6,744.9 L341.9,752.6 L343.2,760.0 L344.4,767.0 L345.7,773.6 L346.9,780.5 L348.2,788.5 L349.4,797.9 L350.7,808.3 L352.0,819.3 L353.2,830.2 L354.5,840.5 L355.7,849.7 L357.0,857.3 M56.2,799.1 L57.5,800.2 L58.7,801.2 L60.0,802.3 L61.2,803.3 L62.5,804.3 L63.8,805.2 L65.0,806.1 L66.3,807.0 L67.5,807.8 L68.8,808.5 L70.0,809.2 L71.3,809.9 L72.6,810.6 L73.8,811.2 L75.1,811.7 L76.3,812.1 L77.6,812.5 L78.9,812.8 L80.1,813.0 L81.4,813.2 L82.6,813.3 L83.9,813.3 L85.1,813.2 L86.4,813.0 L87.7,812.8 L88.9,812.5 L90.2,812.2 L91.4,811.8 L92.7,811.4 L94.0,810.9 L95.2,810.3 L96.5,809.8 L97.7,809.2 L99.0,808.6 L100.3,807.9 L101.5,807.3 L102.8,806.6 L104.0,805.9 L105.3,805.3 L106.5,804.6 L107.8,803.9 L109.1,803.2 L110.3,802.6 L111.6,801.9 L112.8,801.3 L114.1,800.6 L115.4,800.0 L116.6,799.4 L117.9,798.8 L119.1,798.3 L120.4,797.7 L121.6,797.1 L122.9,796.6 L124.2,796.1 L125.4,795.6 L126.7,795.1 L127.9,794.7 L129.2,794.2 L130.5,793.8 L131.7,793.4 L133.0,793.0 L134.2,792.7 L135.5,792.3 L136.7,792.0 L138.0,791.7 L139.3,791.5 L140.5,791.3 L141.8,791.0 L143.0,790.9 L144.3,790.7 L145.6,790.6 L146.8,790.5 L148.1,790.4 L149.3,790.4 L150.6,790.4 L151.9,790.4 L153.1,790.5 L154.4,790.5 L155.6,790.7 L156.9,790.8 L158.1,790.9 L159.4,791.1 L160.7,791.3 L161.9,791.5 L163.2,791.8 L164.4,792.1 L165.7,792.3 L167.0,792.6 L168.2,793.0 L169.5,793.3 L170.7,793.6 L172.0,794.0 L173.2,794.4 L174.5,794.8 L175.8,795.2 L177.0,795.6 L178.3,796.0 L179.5,796.4 L180.8,796.9 L182.1,797.3 L183.3,797.8 L184.6,798.3 L185.8,798.8 L187.1,799.3 L188.4,799.8 L189.6,800.3 L190.9,800.8 L192.1,801.3 L193.4,801.8 L194.6,802.3 L195.9,802.9 L197.2,803.4 L198.4,804.0 L199.7,804.5 L200.9,805.1 L202.2,805.6 L203.5,806.2 L204.7,806.7 L206.0,807.3 L207.2,807.8 L208.5,808.4 L209.7,808.9 L211.0,809.4 L212.3,809.9 L213.5,810.5 L214.8,810.9 L216.0,811.4 L217.3,811.9 L218.6,812.3 L219.8,812.7 L221.1,813.1 L222.3,813.5 L223.6,813.9 L224.8,814.2 L226.1,814.5 L227.4,814.8 L228.6,815.1 L229.9,815.3 L231.1,815.5 L232.4,815.7 L233.7,815.8 L234.9,815.9 L236.2,816.0 L237.4,816.0 L238.7,816.0 L240.0,816.0 L241.2,815.9 L242.5,815.8 L243.7,815.6 L245.0,815.4 L246.2,815.1 L247.5,814.8 L248.8,814.5 L250.0,814.0 L251.3,813.6 L252.5,813.1 L253.8,812.5 L255.1,811.9 L256.3,811.3 L257.6,810.5 L258.8,809.8 L260.1,808.9 L261.3,808.0 L262.6,807.0 L263.9,806.0 L265.1,804.9 L266.4,803.7 L267.6,802.5 L268.9,801.2 L270.2,799.8 L271.4,798.3 L272.7,796.8 L273.9,795.2 L275.2,793.5 L276.5,791.6 L277.7,789.7 L279.0,787.6 L280.2,785.4 L281.5,783.1 L282.7,780.7 L284.0,778.1 L285.3,775.4 L286.5,772.5 L287.8,769.6 L289.0,766.5 L290.3,763.4 L291.6,760.1 L292.8,756.7 L294.1,753.3 L295.3,749.8 L296.6,746.3 L297.8,742.8 L299.1,739.3 L300.4,735.8 L301.6,732.5 L302.9,729.2 L304.1,726.1 L305.4,723.0 L306.7,720.1 L307.9,717.4 L309.2,714.8 L310.4,712.3 L311.7,710.1 L312.9,708.1 L314.2,706.3 L315.5,704.7 L316.7,703.3 L318.0,702.2 L319.2,701.4 L320.5,700.9 L321.8,700.7 L323.0,700.6 L324.3,700.9 L325.5,701.6 L326.8,702.6 L328.1,703.9 L329.3,705.7 L330.6,707.9 L331.8,710.6 L333.1,713.7 L334.3,717.4 L335.6,721.8 L336.9,727.1 L338.1,733.3 L339.4,740.3 L340.6,747.9 L341.9,755.6 L343.2,763.0 L344.4,770.0 L345.7,776.6 L346.9,783.5 L348.2,791.5 L349.4,800.9 L350.7,811.3 L352.0,822.3 L353.2,833.2 L354.5,843.5 L355.7,852.7 L357.0,860.3" fill="none" stroke="#E15759" stroke-width="0.45" stroke-opacity="0.85"/>
<path d="M56.2,796.9 L57.5,798.0 L58.7,799.2 L60.0,800.3 L61.2,801.3 L62.5,802.4 L63.8,803.3 L65.0,804.3 L66.3,805.2 L67.5,806.1 L68.8,806.9 L70.0,807.6 L71.3,808.3 L72.6,809.0 L73.8,809.6 L75.1,810.1 L76.3,810.5 L77.6,810.9 L78.9,811.2 L80.1,811.5 L81.4,811.6 L82.6,811.7 L83.9,811.7 L85.1,811.6 L86.4,811.4 L87.7,811.2 L88.9,811.0 L90.2,810.6 L91.4,810.2 L92.7,809.8 L94.0,809.3 L95.2,808.8 L96.5,808.2 L97.7,807.6 L99.0,807.0 L100.3,806.4 L101.5,805.7 L102.8,805.1 L104.0,804.4 L105.3,803.7 L106.5,803.0 L107.8,802.3 L109.1,801.7 L110.3,801.0 L111.6,800.4 L112.8,799.7 L114.1,799.1 L115.4,798.5 L116.6,797.9 L117.9,797.3 L119.1,796.7 L120.4,796.2 L121.6,795.6 L122.9,795.1 L124.2,794.6 L125.4,794.1 L126.7,793.6 L127.9,793.1 L129.2,792.7 L130.5,792.3 L131.7,791.9 L133.0,791.5 L134.2,791.2 L135.5,790.8 L136.7,790.5 L138.0,790.2 L139.3,790.0 L140.5,789.7 L141.8,789.5 L143.0,789.4 L144.3,789.2 L145.6,789.1 L146.8,789.0 L148.1,788.9 L149.3,788.9 L150.6,788.9 L151.9,788.9 L153.1,789.0 L154.4,789.1 L155.6,789.2 L156.9,789.3 L158.1,789.5 L159.4,789.6 L160.7,789.8 L161.9,790.1 L163.2,790.3 L164.4,790.6 L165.7,790.9 L167.0,791.2 L168.2,791.5 L169.5,791.8 L170.7,792.2 L172.0,792.6 L173.2,792.9 L174.5,793.3 L175.8,793.7 L177.0,794.1 L178.3,794.6 L179.5,795.0 L180.8,795.5 L182.1,795.9 L183.3,796.4 L184.6,796.9 L185.8,797.3 L187.1,797.8 L188.4,798.3 L189.6,798.8 L190.9,799.4 L192.1,799.9 L193.4,800.4 L194.6,800.9 L195.9,801.5 L197.2,802.0 L198.4,802.6 L199.7,803.1 L200.9,803.7 L202.2,804.2 L203.5,804.8 L204.7,805.4 L206.0,805.9 L207.2,806.5 L208.5,807.0 L209.7,807.5 L211.0,808.1 L212.3,808.6 L213.5,809.1 L214.8,809.6 L216.0,810.0 L217.3,810.5 L218.6,811.0 L219.8,811.4 L221.1,811.8 L222.3,812.2 L223.6,812.5 L224.8,812.9 L226.1,813.2 L227.4,813.5 L228.6,813.8 L229.9,814.0 L231.1,814.2 L232.4,814.4 L233.7,814.5 L234.9,814.6 L236.2,814.7 L237.4,814.7 L238.7,814.7 L240.0,814.7 L241.2,814.6 L242.5,814.5 L243.7,814.3 L245.0,814.1 L246.2,813.8 L247.5,813.5 L248.8,813.2 L250.0,812.7 L251.3,812.3 L252.5,811.8 L253.8,811.2 L255.1,810.6 L256.3,809.9 L257.6,809.2 L258.8,808.4 L260.1,807.5 L261.3,806.6 L262.6,805.6 L263.9,804.6 L265.1,803.4 L266.4,802.3 L267.6,801.0 L268.9,799.7 L270.2,798.3 L271.4,796.8 L272.7,795.3 L273.9,793.6 L275.2,791.9 L276.5,790.1 L277.7,788.1 L279.0,786.0 L280.2,783.8 L281.5,781.5 L282.7,779.0 L284.0,776.4 L285.3,773.7 L286.5,770.9 L287.8,767.9 L289.0,764.8 L290.3,761.7 L291.6,758.4 L292.8,755.0 L294.1,751.6 L295.3,748.1 L296.6,744.5 L297.8,741.0 L299.1,737.5 L300.4,734.0 L301.6,730.6 L302.9,727.3 L304.1,724.1 L305.4,721.0 L306.7,718.1 L307.9,715.3 L309.2,712.6 L310.4,710.2 L311.7,707.9 L312.9,705.8 L314.2,703.9 L315.5,702.3 L316.7,700.9 L318.0,699.8 L319.2,698.9 L320.5,698.3 L321.8,698.1 L323.0,698.1 L324.3,698.5 L325.5,699.2 L326.8,700.2 L328.1,701.7 L329.3,703.5 L330.6,705.8 L331.8,708.6 L333.1,711.8 L334.3,715.5 L335.6,720.0 L336.9,725.4 L338.1,731.7 L339.4,738.8 L340.6,746.4 L341.9,754.1 L343.2,761.5 L344.4,768.5 L345.7,775.1 L346.9,782.0 L348.2,790.0 L349.4,799.4 L350.7,809.8 L352.0,820.8 L353.2,831.7 L354.5,842.0 L355.7,851.2 L357.0,858.8" fill="none" stroke="#E15759" stroke-width="0.75" stroke-opacity="1"/>
<path d="M56.2,787.6 L57.5,789.6 L58.7,791.5 L60.0,793.3 L61.2,795.1 L62.5,796.8 L63.8,798.4 L65.0,800.0 L66.3,801.5 L67.5,802.9 L68.8,804.3 L70.1,805.6 L71.3,806.9 L72.6,808.0 L73.8,809.1 L75.1,810.1 L76.4,811.1 L77.6,812.1 L78.9,812.9 L80.1,813.8 L81.4,814.5 L82.7,815.3 L83.9,816.0 L85.2,816.6 L86.4,817.2 L87.7,817.7 L89.0,818.2 L90.2,818.7 L91.5,819.1 L92.7,819.5 L94.0,819.8 L95.3,820.1 L96.5,820.4 L97.8,820.6 L99.0,820.8 L100.3,821.0 L101.6,821.1 L102.8,821.2 L104.1,821.3 L105.3,821.3 L106.6,821.3 L107.9,821.3 L109.1,821.3 L110.4,821.2 L111.6,821.1 L112.9,821.0 L114.2,820.9 L115.4,820.7 L116.7,820.6 L117.9,820.4 L119.2,820.2 L120.5,820.0 L121.7,819.7 L123.0,819.5 L124.2,819.2 L125.5,819.0 L126.8,818.7 L128.0,818.4 L129.3,818.1 L130.5,817.8 L131.8,817.5 L133.0,817.2 L134.3,816.9 L135.6,816.6 L136.8,816.2 L138.1,815.9 L139.3,815.6 L140.6,815.3 L141.9,815.0 L143.1,814.7 L144.4,814.4 L145.6,814.1 L146.9,813.8 L148.2,813.5 L149.4,813.2 L150.7,812.9 L151.9,812.7 L153.2,812.4 L154.5,812.1 L155.7,811.9 L157.0,811.6 L158.2,811.3 L159.5,811.1 L160.8,810.8 L162.0,810.6 L163.3,810.3 L164.5,810.1 L165.8,809.8 L167.1,809.5 L168.3,809.3 L169.6,809.0 L170.8,808.8 L172.1,808.5 L173.4,808.3 L174.6,808.0 L175.9,807.8 L177.1,807.5 L178.4,807.2 L179.7,807.0 L180.9,806.7 L182.2,806.4 L183.4,806.2 L184.7,805.9 L186.0,805.6 L187.2,805.3 L188.5,805.0 L189.7,804.7 L191.0,804.4 L192.3,804.1 L193.5,803.8 L194.8,803.5 L196.0,803.2 L197.3,802.9 L198.6,802.5 L199.8,802.2 L201.1,801.8 L202.3,801.5 L203.6,801.1 L204.9,800.7 L206.1,800.4 L207.4,800.0 L208.6,799.6 L209.9,799.2 L211.2,798.8 L212.4,798.4 L213.7,797.9 L214.9,797.5 L216.2,797.0 L217.5,796.6 L218.7,796.1 L220.0,795.6 L221.2,795.1 L222.5,794.6 L223.8,794.1 L225.0,793.6 L226.3,793.0 L227.5,792.5 L228.8,791.9 L230.1,791.3 L231.3,790.8 L232.6,790.1 L233.8,789.5 L235.1,788.9 L236.4,788.2 L237.6,787.6 L238.9,786.9 L240.1,786.2 L241.4,785.5 L242.7,784.8 L243.9,784.0 L245.2,783.3 L246.4,782.5 L247.7,781.7 L249.0,780.9 L250.2,780.1 L251.5,779.2 L252.7,778.3 L254.0,777.4 L255.3,776.5 L256.5,775.5 L257.8,774.5 L259.0,773.6 L260.3,772.5 L261.6,771.5 L262.8,770.5 L264.1,769.4 L265.3,768.4 L266.6,767.3 L267.9,766.2 L269.1,765.1 L270.4,764.0 L271.6,762.9 L272.9,761.8 L274.2,760.6 L275.4,759.4 L276.7,758.1 L277.9,756.8 L279.2,755.3 L280.5,753.8 L281.7,752.1 L283.0,750.3 L284.2,748.4 L285.5,746.3 L286.7,744.1 L288.0,741.9 L289.3,739.5 L290.5,737.1 L291.8,734.7 L293.0,732.3 L294.3,729.8 L295.6,727.4 L296.8,725.1 L298.1,722.8 L299.3,720.6 L300.6,718.5 L301.9,716.4 L303.1,714.4 L304.4,712.6 L305.6,710.8 L306.9,709.2 L308.2,707.7 L309.4,706.3 L310.7,705.1 L311.9,704.1 L313.2,703.2 L314.5,702.4 L315.7,701.9 L317.0,701.5 L318.2,701.3 L319.5,701.3 L320.8,701.7 L322.0,702.4 L323.3,703.3 L324.5,704.4 L325.8,705.7 L327.1,707.3 L328.3,709.1 L329.6,711.2 L330.8,713.5 L332.1,716.0 L333.4,718.8 L334.6,721.9 L335.9,725.1 L337.1,728.6 L338.4,732.3 L339.7,736.3 L340.9,740.6 L342.2,745.0 L343.4,749.7 L344.7,754.6 L346.0,759.6 L347.2,764.9 L348.5,770.4 L349.7,776.2 L351.0,782.3 L352.3,788.7 L353.5,795.6 L354.8,802.8 L356.0,810.6 L357.3,818.8 L357.3,823.8 L356.0,815.6 L354.8,807.9 L353.5,800.7 L352.3,793.9 L351.0,787.5 L349.7,781.5 L348.5,775.8 L347.2,770.3 L346.0,765.1 L344.7,760.1 L343.4,755.3 L342.2,750.7 L340.9,746.3 L339.7,742.1 L338.4,738.2 L337.1,734.5 L335.9,731.1 L334.6,728.0 L333.4,725.3 L332.1,722.8 L330.8,720.6 L329.6,718.6 L328.3,716.9 L327.1,715.4 L325.8,714.2 L324.5,713.2 L323.3,712.4 L322.0,711.8 L320.8,711.5 L319.5,711.2 L318.2,710.9 L317.0,710.9 L315.7,711.0 L314.5,711.3 L313.2,711.8 L311.9,712.5 L310.7,713.3 L309.4,714.2 L308.2,715.3 L306.9,716.6 L305.6,717.9 L304.4,719.4 L303.1,721.1 L301.9,722.8 L300.6,724.6 L299.3,726.6 L298.1,728.7 L296.8,730.9 L295.6,733.2 L294.3,735.5 L293.0,737.9 L291.8,740.2 L290.5,742.6 L289.3,744.9 L288.0,747.2 L286.7,749.4 L285.5,751.5 L284.2,753.5 L283.0,755.4 L281.7,757.1 L280.5,758.7 L279.2,760.2 L277.9,761.5 L276.7,762.8 L275.4,764.0 L274.2,765.2 L272.9,766.3 L271.6,767.3 L270.4,768.4 L269.1,769.4 L267.9,770.4 L266.6,771.4 L265.3,772.4 L264.1,773.4 L262.8,774.4 L261.6,775.4 L260.3,776.3 L259.0,777.3 L257.8,778.2 L256.5,779.1 L255.3,780.0 L254.0,780.8 L252.7,781.7 L251.5,782.5 L250.2,783.3 L249.0,784.1 L247.7,784.9 L246.4,785.7 L245.2,786.5 L243.9,787.3 L242.7,788.0 L241.4,788.7 L240.1,789.4 L238.9,790.1 L237.6,790.8 L236.4,791.5 L235.1,792.1 L233.8,792.8 L232.6,793.4 L231.3,794.0 L230.1,794.6 L228.8,795.2 L227.5,795.7 L226.3,796.3 L225.0,796.8 L223.8,797.4 L222.5,797.9 L221.2,798.4 L220.0,798.9 L218.7,799.4 L217.5,799.9 L216.2,800.3 L214.9,800.8 L213.7,801.2 L212.4,801.6 L211.2,802.1 L209.9,802.5 L208.6,802.9 L207.4,803.3 L206.1,803.7 L204.9,804.0 L203.6,804.4 L202.3,804.8 L201.1,805.1 L199.8,805.5 L198.6,805.8 L197.3,806.2 L196.0,806.5 L194.8,806.8 L193.5,807.1 L192.3,807.4 L191.0,807.8 L189.7,808.1 L188.5,808.4 L187.2,808.6 L186.0,808.9 L184.7,809.2 L183.4,809.5 L182.2,809.8 L180.9,810.0 L179.7,810.3 L178.4,810.6 L177.1,810.9 L175.9,811.1 L174.6,811.4 L173.4,811.6 L172.1,811.9 L170.8,812.2 L169.6,812.4 L168.3,812.7 L167.1,812.9 L165.8,813.2 L164.5,813.4 L163.3,813.7 L162.0,814.0 L160.8,814.2 L159.5,814.5 L158.2,814.7 L157.0,815.0 L155.7,815.3 L154.5,815.5 L153.2,815.8 L151.9,816.1 L150.7,816.4 L149.4,816.6 L148.2,816.9 L146.9,817.2 L145.6,817.5 L144.4,817.8 L143.1,818.1 L141.9,818.4 L140.6,818.7 L139.3,819.1 L138.1,819.4 L136.8,819.7 L135.6,820.0 L134.3,820.3 L133.0,820.7 L131.8,821.0 L130.5,821.3 L129.3,821.6 L128.0,821.9 L126.8,822.2 L125.5,822.4 L124.2,822.7 L123.0,823.0 L121.7,823.2 L120.5,823.5 L119.2,823.7 L117.9,823.9 L116.7,824.1 L115.4,824.2 L114.2,824.4 L112.9,824.5 L111.6,824.6 L110.4,824.7 L109.1,824.8 L107.9,824.8 L106.6,824.9 L105.3,824.8 L104.1,824.8 L102.8,824.7 L101.6,824.6 L100.3,824.5 L99.0,824.4 L97.8,824.2 L96.5,823.9 L95.3,823.7 L94.0,823.4 L92.7,823.0 L91.5,822.7 L90.2,822.2 L89.0,821.8 L87.7,821.3 L86.4,820.7 L85.2,820.2 L83.9,819.5 L82.7,818.8 L81.4,818.1 L80.1,817.3 L78.9,816.5 L77.6,815.6 L76.4,814.7 L75.1,813.7 L73.8,812.7 L72.6,811.6 L71.3,810.5 L70.1,809.2 L68.8,808.0 L67.5,806.8 L66.3,805.4 L65.0,804.0 L63.8,802.6 L62.5,801.0 L61.2,799.5 L60.0,797.8 L58.7,796.1 L57.5,794.3 L56.2,792.4 Z" fill="#4E79A7" fill-opacity="0.45" stroke="none"/>
<path d="M56.2,787.6 L57.5,789.6 L58.7,791.5 L60.0,793.3 L61.2,795.1 L62.5,796.8 L63.8,798.4 L65.0,800.0 L66.3,801.5 L67.5,802.9 L68.8,804.3 L70.1,805.6 L71.3,806.9 L72.6,808.0 L73.8,809.1 L75.1,810.1 L76.4,811.1 L77.6,812.1 L78.9,812.9 L80.1,813.8 L81.4,814.5 L82.7,815.3 L83.9,816.0 L85.2,816.6 L86.4,817.2 L87.7,817.7 L89.0,818.2 L90.2,818.7 L91.5,819.1 L92.7,819.5 L94.0,819.8 L95.3,820.1 L96.5,820.4 L97.8,820.6 L99.0,820.8 L100.3,821.0 L101.6,821.1 L102.8,821.2 L104.1,821.3 L105.3,821.3 L106.6,821.3 L107.9,821.3 L109.1,821.3 L110.4,821.2 L111.6,821.1 L112.9,821.0 L114.2,820.9 L115.4,820.7 L116.7,820.6 L117.9,820.4 L119.2,820.2 L120.5,820.0 L121.7,819.7 L123.0,819.5 L124.2,819.2 L125.5,819.0 L126.8,818.7 L128.0,818.4 L129.3,818.1 L130.5,817.8 L131.8,817.5 L133.0,817.2 L134.3,816.9 L135.6,816.6 L136.8,816.2 L138.1,815.9 L139.3,815.6 L140.6,815.3 L141.9,815.0 L143.1,814.7 L144.4,814.4 L145.6,814.1 L146.9,813.8 L148.2,813.5 L149.4,813.2 L150.7,812.9 L151.9,812.7 L153.2,812.4 L154.5,812.1 L155.7,811.9 L157.0,811.6 L158.2,811.3 L159.5,811.1 L160.8,810.8 L162.0,810.6 L163.3,810.3 L164.5,810.1 L165.8,809.8 L167.1,809.5 L168.3,809.3 L169.6,809.0 L170.8,808.8 L172.1,808.5 L173.4,808.3 L174.6,808.0 L175.9,807.8 L177.1,807.5 L178.4,807.2 L179.7,807.0 L180.9,806.7 L182.2,806.4 L183.4,806.2 L184.7,805.9 L186.0,805.6 L187.2,805.3 L188.5,805.0 L189.7,804.7 L191.0,804.4 L192.3,804.1 L193.5,803.8 L194.8,803.5 L196.0,803.2 L197.3,802.9 L198.6,802.5 L199.8,802.2 L201.1,801.8 L202.3,801.5 L203.6,801.1 L204.9,800.7 L206.1,800.4 L207.4,800.0 L208.6,799.6 L209.9,799.2 L211.2,798.8 L212.4,798.4 L213.7,797.9 L214.9,797.5 L216.2,797.0 L217.5,796.6 L218.7,796.1 L220.0,795.6 L221.2,795.1 L222.5,794.6 L223.8,794.1 L225.0,793.6 L226.3,793.0 L227.5,792.5 L228.8,791.9 L230.1,791.3 L231.3,790.8 L232.6,790.1 L233.8,789.5 L235.1,788.9 L236.4,788.2 L237.6,787.6 L238.9,786.9 L240.1,786.2 L241.4,785.5 L242.7,784.8 L243.9,784.0 L245.2,783.3 L246.4,782.5 L247.7,781.7 L249.0,780.9 L250.2,780.1 L251.5,779.2 L252.7,778.3 L254.0,777.4 L255.3,776.5 L256.5,775.5 L257.8,774.5 L259.0,773.6 L260.3,772.5 L261.6,771.5 L262.8,770.5 L264.1,769.4 L265.3,768.4 L266.6,767.3 L267.9,766.2 L269.1,765.1 L270.4,764.0 L271.6,762.9 L272.9,761.8 L274.2,760.6 L275.4,759.4 L276.7,758.1 L277.9,756.8 L279.2,755.3 L280.5,753.8 L281.7,752.1 L283.0,750.3 L284.2,748.4 L285.5,746.3 L286.7,744.1 L288.0,741.9 L289.3,739.5 L290.5,737.1 L291.8,734.7 L293.0,732.3 L294.3,729.8 L295.6,727.4 L296.8,725.1 L298.1,722.8 L299.3,720.6 L300.6,718.5 L301.9,716.4 L303.1,714.4 L304.4,712.6 L305.6,710.8 L306.9,709.2 L308.2,707.7 L309.4,706.3 L310.7,705.1 L311.9,704.1 L313.2,703.2 L314.5,702.4 L315.7,701.9 L317.0,701.5 L318.2,701.3 L319.5,701.3 L320.8,701.7 L322.0,702.4 L323.3,703.3 L324.5,704.4 L325.8,705.7 L327.1,707.3 L328.3,709.1 L329.6,711.2 L330.8,713.5 L332.1,716.0 L333.4,718.8 L334.6,721.9 L335.9,725.1 L337.1,728.6 L338.4,732.3 L339.7,736.3 L340.9,740.6 L342.2,745.0 L343.4,749.7 L344.7,754.6 L346.0,759.6 L347.2,764.9 L348.5,770.4 L349.7,776.2 L351.0,782.3 L352.3,788.7 L353.5,795.6 L354.8,802.8 L356.0,810.6 L357.3,818.8 M56.2,792.4 L57.5,794.3 L58.7,796.1 L60.0,797.8 L61.2,799.5 L62.5,801.0 L63.8,802.6 L65.0,804.0 L66.3,805.4 L67.5,806.8 L68.8,808.0 L70.1,809.2 L71.3,810.5 L72.6,811.6 L73.8,812.7 L75.1,813.7 L76.4,814.7 L77.6,815.6 L78.9,816.5 L80.1,817.3 L81.4,818.1 L82.7,818.8 L83.9,819.5 L85.2,820.2 L86.4,820.7 L87.7,821.3 L89.0,821.8 L90.2,822.2 L91.5,822.7 L92.7,823.0 L94.0,823.4 L95.3,823.7 L96.5,823.9 L97.8,824.2 L99.0,824.4 L100.3,824.5 L101.6,824.6 L102.8,824.7 L104.1,824.8 L105.3,824.8 L106.6,824.9 L107.9,824.8 L109.1,824.8 L110.4,824.7 L111.6,824.6 L112.9,824.5 L114.2,824.4 L115.4,824.2 L116.7,824.1 L117.9,823.9 L119.2,823.7 L120.5,823.5 L121.7,823.2 L123.0,823.0 L124.2,822.7 L125.5,822.4 L126.8,822.2 L128.0,821.9 L129.3,821.6 L130.5,821.3 L131.8,821.0 L133.0,820.7 L134.3,820.3 L135.6,820.0 L136.8,819.7 L138.1,819.4 L139.3,819.1 L140.6,818.7 L141.9,818.4 L143.1,818.1 L144.4,817.8 L145.6,817.5 L146.9,817.2 L148.2,816.9 L149.4,816.6 L150.7,816.4 L151.9,816.1 L153.2,815.8 L154.5,815.5 L155.7,815.3 L157.0,815.0 L158.2,814.7 L159.5,814.5 L160.8,814.2 L162.0,814.0 L163.3,813.7 L164.5,813.4 L165.8,813.2 L167.1,812.9 L168.3,812.7 L169.6,812.4 L170.8,812.2 L172.1,811.9 L173.4,811.6 L174.6,811.4 L175.9,811.1 L177.1,810.9 L178.4,810.6 L179.7,810.3 L180.9,810.0 L182.2,809.8 L183.4,809.5 L184.7,809.2 L186.0,808.9 L187.2,808.6 L188.5,808.4 L189.7,808.1 L191.0,807.8 L192.3,807.4 L193.5,807.1 L194.8,806.8 L196.0,806.5 L197.3,806.2 L198.6,805.8 L199.8,805.5 L201.1,805.1 L202.3,804.8 L203.6,804.4 L204.9,804.0 L206.1,803.7 L207.4,803.3 L208.6,802.9 L209.9,802.5 L211.2,802.1 L212.4,801.6 L213.7,801.2 L214.9,800.8 L216.2,800.3 L217.5,799.9 L218.7,799.4 L220.0,798.9 L221.2,798.4 L222.5,797.9 L223.8,797.4 L225.0,796.8 L226.3,796.3 L227.5,795.7 L228.8,795.2 L230.1,794.6 L231.3,794.0 L232.6,793.4 L233.8,792.8 L235.1,792.1 L236.4,791.5 L237.6,790.8 L238.9,790.1 L240.1,789.4 L241.4,788.7 L242.7,788.0 L243.9,787.3 L245.2,786.5 L246.4,785.7 L247.7,784.9 L249.0,784.1 L250.2,783.3 L251.5,782.5 L252.7,781.7 L254.0,780.8 L255.3,780.0 L256.5,779.1 L257.8,778.2 L259.0,777.3 L260.3,776.3 L261.6,775.4 L262.8,774.4 L264.1,773.4 L265.3,772.4 L266.6,771.4 L267.9,770.4 L269.1,769.4 L270.4,768.4 L271.6,767.3 L272.9,766.3 L274.2,765.2 L275.4,764.0 L276.7,762.8 L277.9,761.5 L279.2,760.2 L280.5,758.7 L281.7,757.1 L283.0,755.4 L284.2,753.5 L285.5,751.5 L286.7,749.4 L288.0,747.2 L289.3,744.9 L290.5,742.6 L291.8,740.2 L293.0,737.9 L294.3,735.5 L295.6,733.2 L296.8,730.9 L298.1,728.7 L299.3,726.6 L300.6,724.6 L301.9,722.8 L303.1,721.1 L304.4,719.4 L305.6,717.9 L306.9,716.6 L308.2,715.3 L309.4,714.2 L310.7,713.3 L311.9,712.5 L313.2,711.8 L314.5,711.3 L315.7,711.0 L317.0,710.9 L318.2,710.9 L319.5,711.2 L320.8,711.5 L322.0,711.8 L323.3,712.4 L324.5,713.2 L325.8,714.2 L327.1,715.4 L328.3,716.9 L329.6,718.6 L330.8,720.6 L332.1,722.8 L333.4,725.3 L334.6,728.0 L335.9,731.1 L337.1,734.5 L338.4,738.2 L339.7,742.1 L340.9,746.3 L342.2,750.7 L343.4,755.3 L344.7,760.1 L346.0,765.1 L347.2,770.3 L348.5,775.8 L349.7,781.5 L351.0,787.5 L352.3,793.9 L353.5,800.7 L354.8,807.9 L356.0,815.6 L357.3,823.8" fill="none" stroke="#4E79A7" stroke-width="0.45" stroke-opacity="0.85"/>
<path d="M56.2,790.0 L57.5,792.0 L58.7,793.8 L60.0,795.6 L61.2,797.3 L62.5,798.9 L63.8,800.5 L65.0,802.0 L66.3,803.5 L67.5,804.9 L68.8,806.2 L70.1,807.4 L71.3,808.7 L72.6,809.8 L73.8,810.9 L75.1,811.9 L76.4,812.9 L77.6,813.8 L78.9,814.7 L80.1,815.6 L81.4,816.3 L82.7,817.1 L83.9,817.7 L85.2,818.4 L86.4,819.0 L87.7,819.5 L89.0,820.0 L90.2,820.5 L91.5,820.9 L92.7,821.3 L94.0,821.6 L95.3,821.9 L96.5,822.2 L97.8,822.4 L99.0,822.6 L100.3,822.7 L101.6,822.9 L102.8,823.0 L104.1,823.0 L105.3,823.1 L106.6,823.1 L107.9,823.1 L109.1,823.0 L110.4,823.0 L111.6,822.9 L112.9,822.8 L114.2,822.6 L115.4,822.5 L116.7,822.3 L117.9,822.1 L119.2,821.9 L120.5,821.7 L121.7,821.5 L123.0,821.2 L124.2,821.0 L125.5,820.7 L126.8,820.4 L128.0,820.1 L129.3,819.8 L130.5,819.5 L131.8,819.2 L133.0,818.9 L134.3,818.6 L135.6,818.3 L136.8,818.0 L138.1,817.7 L139.3,817.3 L140.6,817.0 L141.9,816.7 L143.1,816.4 L144.4,816.1 L145.6,815.8 L146.9,815.5 L148.2,815.2 L149.4,814.9 L150.7,814.7 L151.9,814.4 L153.2,814.1 L154.5,813.8 L155.7,813.6 L157.0,813.3 L158.2,813.0 L159.5,812.8 L160.8,812.5 L162.0,812.3 L163.3,812.0 L164.5,811.7 L165.8,811.5 L167.1,811.2 L168.3,811.0 L169.6,810.7 L170.8,810.5 L172.1,810.2 L173.4,810.0 L174.6,809.7 L175.9,809.4 L177.1,809.2 L178.4,808.9 L179.7,808.6 L180.9,808.4 L182.2,808.1 L183.4,807.8 L184.7,807.5 L186.0,807.3 L187.2,807.0 L188.5,806.7 L189.7,806.4 L191.0,806.1 L192.3,805.8 L193.5,805.5 L194.8,805.2 L196.0,804.8 L197.3,804.5 L198.6,804.2 L199.8,803.8 L201.1,803.5 L202.3,803.1 L203.6,802.8 L204.9,802.4 L206.1,802.0 L207.4,801.6 L208.6,801.2 L209.9,800.8 L211.2,800.4 L212.4,800.0 L213.7,799.6 L214.9,799.1 L216.2,798.7 L217.5,798.2 L218.7,797.7 L220.0,797.3 L221.2,796.8 L222.5,796.3 L223.8,795.7 L225.0,795.2 L226.3,794.7 L227.5,794.1 L228.8,793.5 L230.1,793.0 L231.3,792.4 L232.6,791.8 L233.8,791.1 L235.1,790.5 L236.4,789.9 L237.6,789.2 L238.9,788.5 L240.1,787.8 L241.4,787.1 L242.7,786.4 L243.9,785.6 L245.2,784.9 L246.4,784.1 L247.7,783.3 L249.0,782.5 L250.2,781.7 L251.5,780.9 L252.7,780.0 L254.0,779.1 L255.3,778.2 L256.5,777.3 L257.8,776.4 L259.0,775.4 L260.3,774.4 L261.6,773.4 L262.8,772.4 L264.1,771.4 L265.3,770.4 L266.6,769.4 L267.9,768.3 L269.1,767.2 L270.4,766.2 L271.6,765.1 L272.9,764.0 L274.2,762.9 L275.4,761.7 L276.7,760.5 L277.9,759.1 L279.2,757.7 L280.5,756.2 L281.7,754.6 L283.0,752.8 L284.2,751.0 L285.5,748.9 L286.7,746.8 L288.0,744.5 L289.3,742.2 L290.5,739.9 L291.8,737.5 L293.0,735.1 L294.3,732.7 L295.6,730.3 L296.8,728.0 L298.1,725.8 L299.3,723.6 L300.6,721.6 L301.9,719.6 L303.1,717.8 L304.4,716.0 L305.6,714.4 L306.9,712.9 L308.2,711.5 L309.4,710.3 L310.7,709.2 L311.9,708.3 L313.2,707.5 L314.5,706.9 L315.7,706.4 L317.0,706.2 L318.2,706.1 L319.5,706.2 L320.8,706.6 L322.0,707.1 L323.3,707.8 L324.5,708.8 L325.8,710.0 L327.1,711.4 L328.3,713.0 L329.6,714.9 L330.8,717.0 L332.1,719.4 L333.4,722.1 L334.6,725.0 L335.9,728.1 L337.1,731.6 L338.4,735.3 L339.7,739.2 L340.9,743.4 L342.2,747.9 L343.4,752.5 L344.7,757.4 L346.0,762.4 L347.2,767.6 L348.5,773.1 L349.7,778.8 L351.0,784.9 L352.3,791.3 L353.5,798.1 L354.8,805.4 L356.0,813.1 L357.3,821.3" fill="none" stroke="#4E79A7" stroke-width="0.75" stroke-opacity="1"/>
<path d="M56.2,799.7 L57.5,800.8 L58.7,801.8 L60.0,802.8 L61.2,803.8 L62.5,804.8 L63.8,805.6 L65.0,806.5 L66.3,807.3 L67.5,808.1 L68.8,808.8 L70.1,809.5 L71.3,810.2 L72.6,810.8 L73.8,811.4 L75.1,811.9 L76.4,812.4 L77.6,812.9 L78.9,813.3 L80.1,813.7 L81.4,814.1 L82.7,814.5 L83.9,814.8 L85.2,815.1 L86.4,815.3 L87.7,815.6 L89.0,815.8 L90.2,816.0 L91.5,816.2 L92.7,816.3 L94.0,816.4 L95.3,816.5 L96.5,816.6 L97.8,816.6 L99.0,816.7 L100.3,816.7 L101.6,816.7 L102.8,816.7 L104.1,816.6 L105.3,816.6 L106.6,816.5 L107.9,816.4 L109.1,816.3 L110.4,816.2 L111.6,816.0 L112.9,815.9 L114.2,815.7 L115.4,815.5 L116.7,815.4 L117.9,815.2 L119.2,815.0 L120.5,814.7 L121.7,814.5 L123.0,814.3 L124.2,814.0 L125.5,813.8 L126.8,813.5 L128.0,813.3 L129.3,813.0 L130.5,812.7 L131.8,812.5 L133.0,812.2 L134.3,811.9 L135.6,811.6 L136.8,811.3 L138.1,811.0 L139.3,810.7 L140.6,810.4 L141.9,810.0 L143.1,809.7 L144.4,809.4 L145.6,809.1 L146.9,808.7 L148.2,808.4 L149.4,808.0 L150.7,807.7 L151.9,807.3 L153.2,806.9 L154.5,806.6 L155.7,806.2 L157.0,805.8 L158.2,805.5 L159.5,805.1 L160.8,804.7 L162.0,804.3 L163.3,803.9 L164.5,803.5 L165.8,803.1 L167.1,802.7 L168.3,802.3 L169.6,801.9 L170.8,801.5 L172.1,801.1 L173.4,800.7 L174.6,800.3 L175.9,799.9 L177.1,799.4 L178.4,799.0 L179.7,798.6 L180.9,798.2 L182.2,797.8 L183.4,797.3 L184.7,796.9 L186.0,796.5 L187.2,796.0 L188.5,795.6 L189.7,795.2 L191.0,794.7 L192.3,794.3 L193.5,793.9 L194.8,793.4 L196.0,793.0 L197.3,792.6 L198.6,792.1 L199.8,791.7 L201.1,791.2 L202.3,790.8 L203.6,790.3 L204.9,789.9 L206.1,789.4 L207.4,789.0 L208.6,788.5 L209.9,788.1 L211.2,787.6 L212.4,787.2 L213.7,786.7 L214.9,786.2 L216.2,785.8 L217.5,785.3 L218.7,784.8 L220.0,784.3 L221.2,783.9 L222.5,783.4 L223.8,782.9 L225.0,782.4 L226.3,781.9 L227.5,781.4 L228.8,780.9 L230.1,780.4 L231.3,779.9 L232.6,779.4 L233.8,778.9 L235.1,778.4 L236.4,777.9 L237.6,777.4 L238.9,776.9 L240.1,776.4 L241.4,775.8 L242.7,775.3 L243.9,774.8 L245.2,774.2 L246.4,773.7 L247.7,773.1 L249.0,772.6 L250.2,772.0 L251.5,771.5 L252.7,770.9 L254.0,770.3 L255.3,769.8 L256.5,769.2 L257.8,768.6 L259.0,768.0 L260.3,767.4 L261.6,766.8 L262.8,766.3 L264.1,765.7 L265.3,765.1 L266.6,764.5 L267.9,763.9 L269.1,763.3 L270.4,762.7 L271.6,762.1 L272.9,761.5 L274.2,760.9 L275.4,760.3 L276.7,759.6 L277.9,759.0 L279.2,758.4 L280.5,757.8 L281.7,757.2 L283.0,756.6 L284.2,756.0 L285.5,755.4 L286.7,754.7 L288.0,754.1 L289.3,753.5 L290.5,752.9 L291.8,752.3 L293.0,751.7 L294.3,751.1 L295.6,750.5 L296.8,749.9 L298.1,749.3 L299.3,748.7 L300.6,748.1 L301.9,747.6 L303.1,747.0 L304.4,746.5 L305.6,746.0 L306.9,745.5 L308.2,745.0 L309.4,744.6 L310.7,744.2 L311.9,743.8 L313.2,743.4 L314.5,743.1 L315.7,742.8 L317.0,742.5 L318.2,742.2 L319.5,742.0 L320.8,741.8 L322.0,741.6 L323.3,741.4 L324.5,741.3 L325.8,741.2 L327.1,741.1 L328.3,741.1 L329.6,741.2 L330.8,741.3 L332.1,741.4 L333.4,741.6 L334.6,741.8 L335.9,742.0 L337.1,742.4 L338.4,742.7 L339.7,743.1 L340.9,743.5 L342.2,743.8 L343.4,744.3 L344.7,744.7 L346.0,745.2 L347.2,745.8 L348.5,746.4 L349.7,747.1 L351.0,747.8 L352.3,748.6 L353.5,749.4 L354.8,750.3 L356.0,751.3 L357.3,752.4 L357.3,765.8 L356.0,764.3 L354.8,762.9 L353.5,761.5 L352.3,760.2 L351.0,759.0 L349.7,757.8 L348.5,756.6 L347.2,755.5 L346.0,754.5 L344.7,753.5 L343.4,752.6 L342.2,751.7 L340.9,750.8 L339.7,750.1 L338.4,749.5 L337.1,749.0 L335.9,748.5 L334.6,748.1 L333.4,747.7 L332.1,747.4 L330.8,747.1 L329.6,746.8 L328.3,746.6 L327.1,746.5 L325.8,746.3 L324.5,746.3 L323.3,746.2 L322.0,746.2 L320.8,746.3 L319.5,746.4 L318.2,746.6 L317.0,746.8 L315.7,747.1 L314.5,747.4 L313.2,747.7 L311.9,748.1 L310.7,748.5 L309.4,748.9 L308.2,749.3 L306.9,749.8 L305.6,750.2 L304.4,750.7 L303.1,751.2 L301.9,751.8 L300.6,752.3 L299.3,752.9 L298.1,753.4 L296.8,754.0 L295.6,754.6 L294.3,755.2 L293.0,755.8 L291.8,756.4 L290.5,757.0 L289.3,757.6 L288.0,758.2 L286.7,758.8 L285.5,759.4 L284.2,760.0 L283.0,760.6 L281.7,761.2 L280.5,761.8 L279.2,762.4 L277.9,763.0 L276.7,763.6 L275.4,764.1 L274.2,764.7 L272.9,765.3 L271.6,765.9 L270.4,766.5 L269.1,767.1 L267.9,767.7 L266.6,768.3 L265.3,768.8 L264.1,769.4 L262.8,770.0 L261.6,770.6 L260.3,771.2 L259.0,771.7 L257.8,772.3 L256.5,772.9 L255.3,773.4 L254.0,774.0 L252.7,774.5 L251.5,775.1 L250.2,775.6 L249.0,776.2 L247.7,776.7 L246.4,777.3 L245.2,777.8 L243.9,778.4 L242.7,778.9 L241.4,779.4 L240.1,780.0 L238.9,780.5 L237.6,781.0 L236.4,781.5 L235.1,782.0 L233.8,782.5 L232.6,783.0 L231.3,783.5 L230.1,784.0 L228.8,784.5 L227.5,785.0 L226.3,785.5 L225.0,786.0 L223.8,786.5 L222.5,787.0 L221.2,787.5 L220.0,787.9 L218.7,788.4 L217.5,788.9 L216.2,789.4 L214.9,789.8 L213.7,790.3 L212.4,790.8 L211.2,791.2 L209.9,791.7 L208.6,792.1 L207.4,792.6 L206.1,793.0 L204.9,793.5 L203.6,793.9 L202.3,794.4 L201.1,794.8 L199.8,795.3 L198.6,795.7 L197.3,796.2 L196.0,796.6 L194.8,797.0 L193.5,797.5 L192.3,797.9 L191.0,798.3 L189.7,798.8 L188.5,799.2 L187.2,799.6 L186.0,800.1 L184.7,800.5 L183.4,800.9 L182.2,801.4 L180.9,801.8 L179.7,802.2 L178.4,802.6 L177.1,803.0 L175.9,803.5 L174.6,803.9 L173.4,804.3 L172.1,804.7 L170.8,805.1 L169.6,805.5 L168.3,805.9 L167.1,806.3 L165.8,806.7 L164.5,807.1 L163.3,807.5 L162.0,807.9 L160.8,808.3 L159.5,808.7 L158.2,809.1 L157.0,809.4 L155.7,809.8 L154.5,810.2 L153.2,810.5 L151.9,810.9 L150.7,811.3 L149.4,811.6 L148.2,812.0 L146.9,812.3 L145.6,812.7 L144.4,813.0 L143.1,813.3 L141.9,813.6 L140.6,814.0 L139.3,814.3 L138.1,814.6 L136.8,814.9 L135.6,815.2 L134.3,815.5 L133.0,815.8 L131.8,816.1 L130.5,816.3 L129.3,816.6 L128.0,816.9 L126.8,817.1 L125.5,817.4 L124.2,817.6 L123.0,817.9 L121.7,818.1 L120.5,818.3 L119.2,818.6 L117.9,818.8 L116.7,819.0 L115.4,819.1 L114.2,819.3 L112.9,819.5 L111.6,819.6 L110.4,819.8 L109.1,819.9 L107.9,820.0 L106.6,820.1 L105.3,820.2 L104.1,820.2 L102.8,820.3 L101.6,820.3 L100.3,820.3 L99.0,820.3 L97.8,820.2 L96.5,820.2 L95.3,820.1 L94.0,820.0 L92.7,819.9 L91.5,819.8 L90.2,819.6 L89.0,819.4 L87.7,819.2 L86.4,818.9 L85.2,818.7 L83.9,818.4 L82.7,818.1 L81.4,817.7 L80.1,817.3 L78.9,816.9 L77.6,816.5 L76.4,816.0 L75.1,815.5 L73.8,815.0 L72.6,814.4 L71.3,813.8 L70.1,813.1 L68.8,812.5 L67.5,811.8 L66.3,811.1 L65.0,810.4 L63.8,809.6 L62.5,808.8 L61.2,807.9 L60.0,807.0 L58.7,806.1 L57.5,805.1 L56.2,804.1 Z" fill="#B6992D" fill-opacity="0.45" stroke="none"/>
<path d="M56.2,799.7 L57.5,800.8 L58.7,801.8 L60.0,802.8 L61.2,803.8 L62.5,804.8 L63.8,805.6 L65.0,806.5 L66.3,807.3 L67.5,808.1 L68.8,808.8 L70.1,809.5 L71.3,810.2 L72.6,810.8 L73.8,811.4 L75.1,811.9 L76.4,812.4 L77.6,812.9 L78.9,813.3 L80.1,813.7 L81.4,814.1 L82.7,814.5 L83.9,814.8 L85.2,815.1 L86.4,815.3 L87.7,815.6 L89.0,815.8 L90.2,816.0 L91.5,816.2 L92.7,816.3 L94.0,816.4 L95.3,816.5 L96.5,816.6 L97.8,816.6 L99.0,816.7 L100.3,816.7 L101.6,816.7 L102.8,816.7 L104.1,816.6 L105.3,816.6 L106.6,816.5 L107.9,816.4 L109.1,816.3 L110.4,816.2 L111.6,816.0 L112.9,815.9 L114.2,815.7 L115.4,815.5 L116.7,815.4 L117.9,815.2 L119.2,815.0 L120.5,814.7 L121.7,814.5 L123.0,814.3 L124.2,814.0 L125.5,813.8 L126.8,813.5 L128.0,813.3 L129.3,813.0 L130.5,812.7 L131.8,812.5 L133.0,812.2 L134.3,811.9 L135.6,811.6 L136.8,811.3 L138.1,811.0 L139.3,810.7 L140.6,810.4 L141.9,810.0 L143.1,809.7 L144.4,809.4 L145.6,809.1 L146.9,808.7 L148.2,808.4 L149.4,808.0 L150.7,807.7 L151.9,807.3 L153.2,806.9 L154.5,806.6 L155.7,806.2 L157.0,805.8 L158.2,805.5 L159.5,805.1 L160.8,804.7 L162.0,804.3 L163.3,803.9 L164.5,803.5 L165.8,803.1 L167.1,802.7 L168.3,802.3 L169.6,801.9 L170.8,801.5 L172.1,801.1 L173.4,800.7 L174.6,800.3 L175.9,799.9 L177.1,799.4 L178.4,799.0 L179.7,798.6 L180.9,798.2 L182.2,797.8 L183.4,797.3 L184.7,796.9 L186.0,796.5 L187.2,796.0 L188.5,795.6 L189.7,795.2 L191.0,794.7 L192.3,794.3 L193.5,793.9 L194.8,793.4 L196.0,793.0 L197.3,792.6 L198.6,792.1 L199.8,791.7 L201.1,791.2 L202.3,790.8 L203.6,790.3 L204.9,789.9 L206.1,789.4 L207.4,789.0 L208.6,788.5 L209.9,788.1 L211.2,787.6 L212.4,787.2 L213.7,786.7 L214.9,786.2 L216.2,785.8 L217.5,785.3 L218.7,784.8 L220.0,784.3 L221.2,783.9 L222.5,783.4 L223.8,782.9 L225.0,782.4 L226.3,781.9 L227.5,781.4 L228.8,780.9 L230.1,780.4 L231.3,779.9 L232.6,779.4 L233.8,778.9 L235.1,778.4 L236.4,777.9 L237.6,777.4 L238.9,776.9 L240.1,776.4 L241.4,775.8 L242.7,775.3 L243.9,774.8 L245.2,774.2 L246.4,773.7 L247.7,773.1 L249.0,772.6 L250.2,772.0 L251.5,771.5 L252.7,770.9 L254.0,770.3 L255.3,769.8 L256.5,769.2 L257.8,768.6 L259.0,768.0 L260.3,767.4 L261.6,766.8 L262.8,766.3 L264.1,765.7 L265.3,765.1 L266.6,764.5 L267.9,763.9 L269.1,763.3 L270.4,762.7 L271.6,762.1 L272.9,761.5 L274.2,760.9 L275.4,760.3 L276.7,759.6 L277.9,759.0 L279.2,758.4 L280.5,757.8 L281.7,757.2 L283.0,756.6 L284.2,756.0 L285.5,755.4 L286.7,754.7 L288.0,754.1 L289.3,753.5 L290.5,752.9 L291.8,752.3 L293.0,751.7 L294.3,751.1 L295.6,750.5 L296.8,749.9 L298.1,749.3 L299.3,748.7 L300.6,748.1 L301.9,747.6 L303.1,747.0 L304.4,746.5 L305.6,746.0 L306.9,745.5 L308.2,745.0 L309.4,744.6 L310.7,744.2 L311.9,743.8 L313.2,743.4 L314.5,743.1 L315.7,742.8 L317.0,742.5 L318.2,742.2 L319.5,742.0 L320.8,741.8 L322.0,741.6 L323.3,741.4 L324.5,741.3 L325.8,741.2 L327.1,741.1 L328.3,741.1 L329.6,741.2 L330.8,741.3 L332.1,741.4 L333.4,741.6 L334.6,741.8 L335.9,742.0 L337.1,742.4 L338.4,742.7 L339.7,743.1 L340.9,743.5 L342.2,743.8 L343.4,744.3 L344.7,744.7 L346.0,745.2 L347.2,745.8 L348.5,746.4 L349.7,747.1 L351.0,747.8 L352.3,748.6 L353.5,749.4 L354.8,750.3 L356.0,751.3 L357.3,752.4 M56.2,804.1 L57.5,805.1 L58.7,806.1 L60.0,807.0 L61.2,807.9 L62.5,808.8 L63.8,809.6 L65.0,810.4 L66.3,811.1 L67.5,811.8 L68.8,812.5 L70.1,813.1 L71.3,813.8 L72.6,814.4 L73.8,815.0 L75.1,815.5 L76.4,816.0 L77.6,816.5 L78.9,816.9 L80.1,817.3 L81.4,817.7 L82.7,818.1 L83.9,818.4 L85.2,818.7 L86.4,818.9 L87.7,819.2 L89.0,819.4 L90.2,819.6 L91.5,819.8 L92.7,819.9 L94.0,820.0 L95.3,820.1 L96.5,820.2 L97.8,820.2 L99.0,820.3 L100.3,820.3 L101.6,820.3 L102.8,820.3 L104.1,820.2 L105.3,820.2 L106.6,820.1 L107.9,820.0 L109.1,819.9 L110.4,819.8 L111.6,819.6 L112.9,819.5 L114.2,819.3 L115.4,819.1 L116.7,819.0 L117.9,818.8 L119.2,818.6 L120.5,818.3 L121.7,818.1 L123.0,817.9 L124.2,817.6 L125.5,817.4 L126.8,817.1 L128.0,816.9 L129.3,816.6 L130.5,816.3 L131.8,816.1 L133.0,815.8 L134.3,815.5 L135.6,815.2 L136.8,814.9 L138.1,814.6 L139.3,814.3 L140.6,814.0 L141.9,813.6 L143.1,813.3 L144.4,813.0 L145.6,812.7 L146.9,812.3 L148.2,812.0 L149.4,811.6 L150.7,811.3 L151.9,810.9 L153.2,810.5 L154.5,810.2 L155.7,809.8 L157.0,809.4 L158.2,809.1 L159.5,808.7 L160.8,808.3 L162.0,807.9 L163.3,807.5 L164.5,807.1 L165.8,806.7 L167.1,806.3 L168.3,805.9 L169.6,805.5 L170.8,805.1 L172.1,804.7 L173.4,804.3 L174.6,803.9 L175.9,803.5 L177.1,803.0 L178.4,802.6 L179.7,802.2 L180.9,801.8 L182.2,801.4 L183.4,800.9 L184.7,800.5 L186.0,800.1 L187.2,799.6 L188.5,799.2 L189.7,798.8 L191.0,798.3 L192.3,797.9 L193.5,797.5 L194.8,797.0 L196.0,796.6 L197.3,796.2 L198.6,795.7 L199.8,795.3 L201.1,794.8 L202.3,794.4 L203.6,793.9 L204.9,793.5 L206.1,793.0 L207.4,792.6 L208.6,792.1 L209.9,791.7 L211.2,791.2 L212.4,790.8 L213.7,790.3 L214.9,789.8 L216.2,789.4 L217.5,788.9 L218.7,788.4 L220.0,787.9 L221.2,787.5 L222.5,787.0 L223.8,786.5 L225.0,786.0 L226.3,785.5 L227.5,785.0 L228.8,784.5 L230.1,784.0 L231.3,783.5 L232.6,783.0 L233.8,782.5 L235.1,782.0 L236.4,781.5 L237.6,781.0 L238.9,780.5 L240.1,780.0 L241.4,779.4 L242.7,778.9 L243.9,778.4 L245.2,777.8 L246.4,777.3 L247.7,776.7 L249.0,776.2 L250.2,775.6 L251.5,775.1 L252.7,774.5 L254.0,774.0 L255.3,773.4 L256.5,772.9 L257.8,772.3 L259.0,771.7 L260.3,771.2 L261.6,770.6 L262.8,770.0 L264.1,769.4 L265.3,768.8 L266.6,768.3 L267.9,767.7 L269.1,767.1 L270.4,766.5 L271.6,765.9 L272.9,765.3 L274.2,764.7 L275.4,764.1 L276.7,763.6 L277.9,763.0 L279.2,762.4 L280.5,761.8 L281.7,761.2 L283.0,760.6 L284.2,760.0 L285.5,759.4 L286.7,758.8 L288.0,758.2 L289.3,757.6 L290.5,757.0 L291.8,756.4 L293.0,755.8 L294.3,755.2 L295.6,754.6 L296.8,754.0 L298.1,753.4 L299.3,752.9 L300.6,752.3 L301.9,751.8 L303.1,751.2 L304.4,750.7 L305.6,750.2 L306.9,749.8 L308.2,749.3 L309.4,748.9 L310.7,748.5 L311.9,748.1 L313.2,747.7 L314.5,747.4 L315.7,747.1 L317.0,746.8 L318.2,746.6 L319.5,746.4 L320.8,746.3 L322.0,746.2 L323.3,746.2 L324.5,746.3 L325.8,746.3 L327.1,746.5 L328.3,746.6 L329.6,746.8 L330.8,747.1 L332.1,747.4 L333.4,747.7 L334.6,748.1 L335.9,748.5 L337.1,749.0 L338.4,749.5 L339.7,750.1 L340.9,750.8 L342.2,751.7 L343.4,752.6 L344.7,753.5 L346.0,754.5 L347.2,755.5 L348.5,756.6 L349.7,757.8 L351.0,759.0 L352.3,760.2 L353.5,761.5 L354.8,762.9 L356.0,764.3 L357.3,765.8" fill="none" stroke="#B6992D" stroke-width="0.45" stroke-opacity="0.85"/>
<path d="M56.2,801.9 L57.5,802.9 L58.7,804.0 L60.0,804.9 L61.2,805.9 L62.5,806.8 L63.8,807.6 L65.0,808.4 L66.3,809.2 L67.5,810.0 L68.8,810.7 L70.1,811.3 L71.3,812.0 L72.6,812.6 L73.8,813.2 L75.1,813.7 L76.4,814.2 L77.6,814.7 L78.9,815.1 L80.1,815.5 L81.4,815.9 L82.7,816.3 L83.9,816.6 L85.2,816.9 L86.4,817.1 L87.7,817.4 L89.0,817.6 L90.2,817.8 L91.5,818.0 L92.7,818.1 L94.0,818.2 L95.3,818.3 L96.5,818.4 L97.8,818.4 L99.0,818.5 L100.3,818.5 L101.6,818.5 L102.8,818.5 L104.1,818.4 L105.3,818.4 L106.6,818.3 L107.9,818.2 L109.1,818.1 L110.4,818.0 L111.6,817.8 L112.9,817.7 L114.2,817.5 L115.4,817.3 L116.7,817.2 L117.9,817.0 L119.2,816.8 L120.5,816.5 L121.7,816.3 L123.0,816.1 L124.2,815.8 L125.5,815.6 L126.8,815.3 L128.0,815.1 L129.3,814.8 L130.5,814.5 L131.8,814.3 L133.0,814.0 L134.3,813.7 L135.6,813.4 L136.8,813.1 L138.1,812.8 L139.3,812.5 L140.6,812.2 L141.9,811.8 L143.1,811.5 L144.4,811.2 L145.6,810.9 L146.9,810.5 L148.2,810.2 L149.4,809.8 L150.7,809.5 L151.9,809.1 L153.2,808.7 L154.5,808.4 L155.7,808.0 L157.0,807.6 L158.2,807.3 L159.5,806.9 L160.8,806.5 L162.0,806.1 L163.3,805.7 L164.5,805.3 L165.8,804.9 L167.1,804.5 L168.3,804.1 L169.6,803.7 L170.8,803.3 L172.1,802.9 L173.4,802.5 L174.6,802.1 L175.9,801.7 L177.1,801.2 L178.4,800.8 L179.7,800.4 L180.9,800.0 L182.2,799.6 L183.4,799.1 L184.7,798.7 L186.0,798.3 L187.2,797.8 L188.5,797.4 L189.7,797.0 L191.0,796.5 L192.3,796.1 L193.5,795.7 L194.8,795.2 L196.0,794.8 L197.3,794.4 L198.6,793.9 L199.8,793.5 L201.1,793.0 L202.3,792.6 L203.6,792.1 L204.9,791.7 L206.1,791.2 L207.4,790.8 L208.6,790.3 L209.9,789.9 L211.2,789.4 L212.4,789.0 L213.7,788.5 L214.9,788.0 L216.2,787.6 L217.5,787.1 L218.7,786.6 L220.0,786.1 L221.2,785.7 L222.5,785.2 L223.8,784.7 L225.0,784.2 L226.3,783.7 L227.5,783.2 L228.8,782.7 L230.1,782.2 L231.3,781.7 L232.6,781.2 L233.8,780.7 L235.1,780.2 L236.4,779.7 L237.6,779.2 L238.9,778.7 L240.1,778.2 L241.4,777.6 L242.7,777.1 L243.9,776.6 L245.2,776.0 L246.4,775.5 L247.7,774.9 L249.0,774.4 L250.2,773.8 L251.5,773.3 L252.7,772.7 L254.0,772.2 L255.3,771.6 L256.5,771.0 L257.8,770.4 L259.0,769.9 L260.3,769.3 L261.6,768.7 L262.8,768.1 L264.1,767.5 L265.3,767.0 L266.6,766.4 L267.9,765.8 L269.1,765.2 L270.4,764.6 L271.6,764.0 L272.9,763.4 L274.2,762.8 L275.4,762.2 L276.7,761.6 L277.9,761.0 L279.2,760.4 L280.5,759.8 L281.7,759.2 L283.0,758.6 L284.2,758.0 L285.5,757.4 L286.7,756.8 L288.0,756.1 L289.3,755.5 L290.5,754.9 L291.8,754.3 L293.0,753.7 L294.3,753.1 L295.6,752.5 L296.8,751.9 L298.1,751.3 L299.3,750.8 L300.6,750.2 L301.9,749.7 L303.1,749.1 L304.4,748.6 L305.6,748.1 L306.9,747.6 L308.2,747.2 L309.4,746.7 L310.7,746.3 L311.9,745.9 L313.2,745.6 L314.5,745.2 L315.7,744.9 L317.0,744.7 L318.2,744.4 L319.5,744.2 L320.8,744.0 L322.0,743.9 L323.3,743.8 L324.5,743.8 L325.8,743.8 L327.1,743.8 L328.3,743.9 L329.6,744.0 L330.8,744.2 L332.1,744.4 L333.4,744.6 L334.6,744.9 L335.9,745.3 L337.1,745.7 L338.4,746.1 L339.7,746.6 L340.9,747.2 L342.2,747.8 L343.4,748.4 L344.7,749.1 L346.0,749.9 L347.2,750.7 L348.5,751.5 L349.7,752.4 L351.0,753.4 L352.3,754.4 L353.5,755.5 L354.8,756.6 L356.0,757.8 L357.3,759.1" fill="none" stroke="#B6992D" stroke-width="0.75" stroke-opacity="1"/>
<path d="M56.2,812.0 L57.5,814.3 L58.7,816.4 L60.0,818.2 L61.2,819.9 L62.5,821.4 L63.7,822.7 L65.0,823.9 L66.3,825.1 L67.5,826.1 L68.8,827.0 L70.0,827.9 L71.3,828.7 L72.6,829.5 L73.8,830.3 L75.1,831.0 L76.3,831.7 L77.6,832.3 L78.8,832.9 L80.1,833.4 L81.4,834.0 L82.6,834.4 L83.9,834.8 L85.1,835.2 L86.4,835.5 L87.7,835.8 L88.9,836.0 L90.2,836.2 L91.4,836.3 L92.7,836.4 L93.9,836.4 L95.2,836.4 L96.5,836.3 L97.7,836.2 L99.0,836.0 L100.2,835.8 L101.5,835.6 L102.8,835.3 L104.0,834.9 L105.3,834.6 L106.5,834.2 L107.8,833.8 L109.0,833.3 L110.3,832.8 L111.6,832.3 L112.8,831.7 L114.1,831.2 L115.3,830.6 L116.6,830.0 L117.8,829.3 L119.1,828.7 L120.4,828.0 L121.6,827.3 L122.9,826.6 L124.1,825.9 L125.4,825.1 L126.7,824.4 L127.9,823.6 L129.2,822.8 L130.4,822.1 L131.7,821.3 L132.9,820.5 L134.2,819.7 L135.5,819.0 L136.7,818.2 L138.0,817.4 L139.2,816.6 L140.5,815.8 L141.8,815.1 L143.0,814.3 L144.3,813.5 L145.5,812.7 L146.8,812.0 L148.0,811.2 L149.3,810.4 L150.6,809.7 L151.8,808.9 L153.1,808.1 L154.3,807.4 L155.6,806.6 L156.9,805.8 L158.1,805.1 L159.4,804.3 L160.6,803.6 L161.9,802.8 L163.1,802.0 L164.4,801.2 L165.7,800.5 L166.9,799.7 L168.2,798.9 L169.4,798.2 L170.7,797.4 L172.0,796.6 L173.2,795.8 L174.5,795.1 L175.7,794.3 L177.0,793.5 L178.2,792.7 L179.5,791.9 L180.8,791.1 L182.0,790.3 L183.3,789.5 L184.5,788.7 L185.8,787.9 L187.0,787.1 L188.3,786.3 L189.6,785.5 L190.8,784.7 L192.1,783.8 L193.3,783.0 L194.6,782.2 L195.9,781.4 L197.1,780.6 L198.4,779.7 L199.6,778.9 L200.9,778.1 L202.1,777.3 L203.4,776.5 L204.7,775.7 L205.9,774.9 L207.2,774.1 L208.4,773.2 L209.7,772.4 L211.0,771.6 L212.2,770.8 L213.5,770.0 L214.7,769.3 L216.0,768.5 L217.2,767.7 L218.5,766.9 L219.8,766.1 L221.0,765.4 L222.3,764.6 L223.5,763.9 L224.8,763.1 L226.1,762.4 L227.3,761.6 L228.6,760.9 L229.8,760.2 L231.1,759.4 L232.3,758.7 L233.6,758.0 L234.9,757.3 L236.1,756.6 L237.4,755.9 L238.6,755.3 L239.9,754.6 L241.1,753.9 L242.4,753.2 L243.7,752.6 L244.9,751.9 L246.2,751.2 L247.4,750.6 L248.7,749.9 L250.0,749.2 L251.2,748.5 L252.5,747.9 L253.7,747.2 L255.0,746.5 L256.2,745.8 L257.5,745.1 L258.8,744.4 L260.0,743.7 L261.3,743.0 L262.5,742.3 L263.8,741.6 L265.1,740.8 L266.3,740.1 L267.6,739.4 L268.8,738.7 L270.1,737.9 L271.3,737.2 L272.6,736.5 L273.9,735.7 L275.1,735.0 L276.4,734.2 L277.6,733.4 L278.9,732.7 L280.2,732.0 L281.4,731.2 L282.7,730.5 L283.9,729.9 L285.2,729.2 L286.4,728.6 L287.7,728.0 L289.0,727.4 L290.2,726.9 L291.5,726.4 L292.7,726.0 L294.0,725.6 L295.3,725.2 L296.5,725.0 L297.8,724.7 L299.0,724.6 L300.3,724.5 L301.5,724.5 L302.8,724.6 L304.1,724.8 L305.3,725.1 L306.6,725.4 L307.8,725.8 L309.1,726.4 L310.3,727.0 L311.6,727.8 L312.9,728.7 L314.1,729.7 L315.4,730.8 L316.6,732.1 L317.9,733.6 L319.2,735.2 L320.4,736.9 L321.7,738.9 L322.9,741.1 L324.2,743.4 L325.4,745.9 L326.7,748.6 L328.0,751.4 L329.2,754.4 L330.5,757.6 L331.7,760.9 L333.0,764.4 L334.3,768.0 L335.5,771.7 L336.8,775.6 L338.0,779.7 L339.3,783.8 L340.5,787.9 L341.8,792.0 L343.1,796.2 L344.3,800.5 L345.6,804.9 L346.8,809.4 L348.1,814.0 L349.4,818.7 L350.6,823.5 L351.9,828.3 L353.1,833.3 L354.4,838.3 L355.6,843.3 L356.9,848.5 L356.9,861.4 L355.6,855.8 L354.4,850.1 L353.1,844.6 L351.9,839.1 L350.6,833.7 L349.4,828.4 L348.1,823.1 L346.8,818.0 L345.6,812.9 L344.3,808.0 L343.1,803.1 L341.8,798.4 L340.5,793.8 L339.3,789.5 L338.0,785.4 L336.8,781.5 L335.5,777.6 L334.3,774.0 L333.0,770.5 L331.7,767.1 L330.5,763.8 L329.2,760.8 L328.0,757.8 L326.7,755.1 L325.4,752.5 L324.2,750.1 L322.9,747.9 L321.7,745.8 L320.4,743.9 L319.2,742.2 L317.9,740.6 L316.6,739.1 L315.4,737.8 L314.1,736.7 L312.9,735.7 L311.6,734.8 L310.3,734.0 L309.1,733.4 L307.8,732.8 L306.6,732.4 L305.3,732.1 L304.1,731.8 L302.8,731.6 L301.5,731.5 L300.3,731.5 L299.0,731.5 L297.8,731.6 L296.5,731.8 L295.3,732.0 L294.0,732.3 L292.7,732.6 L291.5,732.9 L290.2,733.4 L289.0,733.8 L287.7,734.3 L286.4,734.9 L285.2,735.4 L283.9,736.0 L282.7,736.6 L281.4,737.3 L280.2,737.9 L278.9,738.6 L277.6,739.3 L276.4,740.0 L275.1,740.7 L273.9,741.4 L272.6,742.0 L271.3,742.7 L270.1,743.4 L268.8,744.1 L267.6,744.7 L266.3,745.4 L265.1,746.0 L263.8,746.7 L262.5,747.3 L261.3,748.0 L260.0,748.6 L258.8,749.2 L257.5,749.9 L256.2,750.5 L255.0,751.1 L253.7,751.8 L252.5,752.4 L251.2,753.0 L250.0,753.6 L248.7,754.3 L247.4,755.0 L246.2,755.6 L244.9,756.3 L243.7,757.0 L242.4,757.6 L241.1,758.3 L239.9,759.0 L238.6,759.7 L237.4,760.3 L236.1,761.0 L234.9,761.7 L233.6,762.4 L232.3,763.1 L231.1,763.8 L229.8,764.6 L228.6,765.3 L227.3,766.0 L226.1,766.8 L224.8,767.5 L223.5,768.3 L222.3,769.0 L221.0,769.8 L219.8,770.5 L218.5,771.3 L217.2,772.1 L216.0,772.9 L214.7,773.7 L213.5,774.4 L212.2,775.2 L211.0,776.0 L209.7,776.8 L208.4,777.6 L207.2,778.5 L205.9,779.3 L204.7,780.1 L203.4,780.9 L202.1,781.7 L200.9,782.5 L199.6,783.3 L198.4,784.1 L197.1,785.0 L195.9,785.8 L194.6,786.6 L193.3,787.4 L192.1,788.2 L190.8,789.1 L189.6,789.9 L188.3,790.7 L187.0,791.5 L185.8,792.3 L184.5,793.1 L183.3,793.9 L182.0,794.7 L180.8,795.5 L179.5,796.3 L178.2,797.1 L177.0,797.9 L175.7,798.7 L174.5,799.5 L173.2,800.2 L172.0,801.0 L170.7,801.8 L169.4,802.6 L168.2,803.3 L166.9,804.1 L165.7,804.9 L164.4,805.6 L163.1,806.4 L161.9,807.2 L160.6,808.0 L159.4,808.7 L158.1,809.5 L156.9,810.2 L155.6,811.0 L154.3,811.8 L153.1,812.5 L151.8,813.3 L150.6,814.1 L149.3,814.8 L148.0,815.6 L146.8,816.4 L145.5,817.1 L144.3,817.9 L143.0,818.7 L141.8,819.5 L140.5,820.2 L139.2,821.0 L138.0,821.8 L136.7,822.6 L135.5,823.4 L134.2,824.1 L132.9,824.9 L131.7,825.7 L130.4,826.5 L129.2,827.2 L127.9,828.0 L126.7,828.8 L125.4,829.5 L124.1,830.3 L122.9,831.0 L121.6,831.7 L120.4,832.4 L119.1,833.1 L117.8,833.7 L116.6,834.4 L115.3,835.0 L114.1,835.6 L112.8,836.1 L111.6,836.7 L110.3,837.2 L109.0,837.7 L107.8,838.2 L106.5,838.6 L105.3,839.0 L104.0,839.3 L102.8,839.7 L101.5,840.0 L100.2,840.2 L99.0,840.4 L97.7,840.6 L96.5,840.7 L95.2,840.8 L93.9,840.8 L92.7,840.8 L91.4,840.7 L90.2,840.6 L88.9,840.4 L87.7,840.2 L86.4,839.9 L85.1,839.6 L83.9,839.2 L82.6,838.8 L81.4,838.4 L80.1,837.8 L78.8,837.3 L77.6,836.7 L76.3,836.1 L75.1,835.4 L73.8,834.7 L72.6,833.9 L71.3,833.1 L70.0,832.3 L68.8,831.5 L67.5,830.6 L66.3,829.7 L65.0,828.6 L63.7,827.5 L62.5,826.2 L61.2,824.8 L60.0,823.2 L58.7,821.4 L57.5,819.4 L56.2,817.2 Z" fill="#499894" fill-opacity="0.45" stroke="none"/>
<path d="M56.2,812.0 L57.5,814.3 L58.7,816.4 L60.0,818.2 L61.2,819.9 L62.5,821.4 L63.7,822.7 L65.0,823.9 L66.3,825.1 L67.5,826.1 L68.8,827.0 L70.0,827.9 L71.3,828.7 L72.6,829.5 L73.8,830.3 L75.1,831.0 L76.3,831.7 L77.6,832.3 L78.8,832.9 L80.1,833.4 L81.4,834.0 L82.6,834.4 L83.9,834.8 L85.1,835.2 L86.4,835.5 L87.7,835.8 L88.9,836.0 L90.2,836.2 L91.4,836.3 L92.7,836.4 L93.9,836.4 L95.2,836.4 L96.5,836.3 L97.7,836.2 L99.0,836.0 L100.2,835.8 L101.5,835.6 L102.8,835.3 L104.0,834.9 L105.3,834.6 L106.5,834.2 L107.8,833.8 L109.0,833.3 L110.3,832.8 L111.6,832.3 L112.8,831.7 L114.1,831.2 L115.3,830.6 L116.6,830.0 L117.8,829.3 L119.1,828.7 L120.4,828.0 L121.6,827.3 L122.9,826.6 L124.1,825.9 L125.4,825.1 L126.7,824.4 L127.9,823.6 L129.2,822.8 L130.4,822.1 L131.7,821.3 L132.9,820.5 L134.2,819.7 L135.5,819.0 L136.7,818.2 L138.0,817.4 L139.2,816.6 L140.5,815.8 L141.8,815.1 L143.0,814.3 L144.3,813.5 L145.5,812.7 L146.8,812.0 L148.0,811.2 L149.3,810.4 L150.6,809.7 L151.8,808.9 L153.1,808.1 L154.3,807.4 L155.6,806.6 L156.9,805.8 L158.1,805.1 L159.4,804.3 L160.6,803.6 L161.9,802.8 L163.1,802.0 L164.4,801.2 L165.7,800.5 L166.9,799.7 L168.2,798.9 L169.4,798.2 L170.7,797.4 L172.0,796.6 L173.2,795.8 L174.5,795.1 L175.7,794.3 L177.0,793.5 L178.2,792.7 L179.5,791.9 L180.8,791.1 L182.0,790.3 L183.3,789.5 L184.5,788.7 L185.8,787.9 L187.0,787.1 L188.3,786.3 L189.6,785.5 L190.8,784.7 L192.1,783.8 L193.3,783.0 L194.6,782.2 L195.9,781.4 L197.1,780.6 L198.4,779.7 L199.6,778.9 L200.9,778.1 L202.1,777.3 L203.4,776.5 L204.7,775.7 L205.9,774.9 L207.2,774.1 L208.4,773.2 L209.7,772.4 L211.0,771.6 L212.2,770.8 L213.5,770.0 L214.7,769.3 L216.0,768.5 L217.2,767.7 L218.5,766.9 L219.8,766.1 L221.0,765.4 L222.3,764.6 L223.5,763.9 L224.8,763.1 L226.1,762.4 L227.3,761.6 L228.6,760.9 L229.8,760.2 L231.1,759.4 L232.3,758.7 L233.6,758.0 L234.9,757.3 L236.1,756.6 L237.4,755.9 L238.6,755.3 L239.9,754.6 L241.1,753.9 L242.4,753.2 L243.7,752.6 L244.9,751.9 L246.2,751.2 L247.4,750.6 L248.7,749.9 L250.0,749.2 L251.2,748.5 L252.5,747.9 L253.7,747.2 L255.0,746.5 L256.2,745.8 L257.5,745.1 L258.8,744.4 L260.0,743.7 L261.3,743.0 L262.5,742.3 L263.8,741.6 L265.1,740.8 L266.3,740.1 L267.6,739.4 L268.8,738.7 L270.1,737.9 L271.3,737.2 L272.6,736.5 L273.9,735.7 L275.1,735.0 L276.4,734.2 L277.6,733.4 L278.9,732.7 L280.2,732.0 L281.4,731.2 L282.7,730.5 L283.9,729.9 L285.2,729.2 L286.4,728.6 L287.7,728.0 L289.0,727.4 L290.2,726.9 L291.5,726.4 L292.7,726.0 L294.0,725.6 L295.3,725.2 L296.5,725.0 L297.8,724.7 L299.0,724.6 L300.3,724.5 L301.5,724.5 L302.8,724.6 L304.1,724.8 L305.3,725.1 L306.6,725.4 L307.8,725.8 L309.1,726.4 L310.3,727.0 L311.6,727.8 L312.9,728.7 L314.1,729.7 L315.4,730.8 L316.6,732.1 L317.9,733.6 L319.2,735.2 L320.4,736.9 L321.7,738.9 L322.9,741.1 L324.2,743.4 L325.4,745.9 L326.7,748.6 L328.0,751.4 L329.2,754.4 L330.5,757.6 L331.7,760.9 L333.0,764.4 L334.3,768.0 L335.5,771.7 L336.8,775.6 L338.0,779.7 L339.3,783.8 L340.5,787.9 L341.8,792.0 L343.1,796.2 L344.3,800.5 L345.6,804.9 L346.8,809.4 L348.1,814.0 L349.4,818.7 L350.6,823.5 L351.9,828.3 L353.1,833.3 L354.4,838.3 L355.6,843.3 L356.9,848.5 M56.2,817.2 L57.5,819.4 L58.7,821.4 L60.0,823.2 L61.2,824.8 L62.5,826.2 L63.7,827.5 L65.0,828.6 L66.3,829.7 L67.5,830.6 L68.8,831.5 L70.0,832.3 L71.3,833.1 L72.6,833.9 L73.8,834.7 L75.1,835.4 L76.3,836.1 L77.6,836.7 L78.8,837.3 L80.1,837.8 L81.4,838.4 L82.6,838.8 L83.9,839.2 L85.1,839.6 L86.4,839.9 L87.7,840.2 L88.9,840.4 L90.2,840.6 L91.4,840.7 L92.7,840.8 L93.9,840.8 L95.2,840.8 L96.5,840.7 L97.7,840.6 L99.0,840.4 L100.2,840.2 L101.5,840.0 L102.8,839.7 L104.0,839.3 L105.3,839.0 L106.5,838.6 L107.8,838.2 L109.0,837.7 L110.3,837.2 L111.6,836.7 L112.8,836.1 L114.1,835.6 L115.3,835.0 L116.6,834.4 L117.8,833.7 L119.1,833.1 L120.4,832.4 L121.6,831.7 L122.9,831.0 L124.1,830.3 L125.4,829.5 L126.7,828.8 L127.9,828.0 L129.2,827.2 L130.4,826.5 L131.7,825.7 L132.9,824.9 L134.2,824.1 L135.5,823.4 L136.7,822.6 L138.0,821.8 L139.2,821.0 L140.5,820.2 L141.8,819.5 L143.0,818.7 L144.3,817.9 L145.5,817.1 L146.8,816.4 L148.0,815.6 L149.3,814.8 L150.6,814.1 L151.8,813.3 L153.1,812.5 L154.3,811.8 L155.6,811.0 L156.9,810.2 L158.1,809.5 L159.4,808.7 L160.6,808.0 L161.9,807.2 L163.1,806.4 L164.4,805.6 L165.7,804.9 L166.9,804.1 L168.2,803.3 L169.4,802.6 L170.7,801.8 L172.0,801.0 L173.2,800.2 L174.5,799.5 L175.7,798.7 L177.0,797.9 L178.2,797.1 L179.5,796.3 L180.8,795.5 L182.0,794.7 L183.3,793.9 L184.5,793.1 L185.8,792.3 L187.0,791.5 L188.3,790.7 L189.6,789.9 L190.8,789.1 L192.1,788.2 L193.3,787.4 L194.6,786.6 L195.9,785.8 L197.1,785.0 L198.4,784.1 L199.6,783.3 L200.9,782.5 L202.1,781.7 L203.4,780.9 L204.7,780.1 L205.9,779.3 L207.2,778.5 L208.4,777.6 L209.7,776.8 L211.0,776.0 L212.2,775.2 L213.5,774.4 L214.7,773.7 L216.0,772.9 L217.2,772.1 L218.5,771.3 L219.8,770.5 L221.0,769.8 L222.3,769.0 L223.5,768.3 L224.8,767.5 L226.1,766.8 L227.3,766.0 L228.6,765.3 L229.8,764.6 L231.1,763.8 L232.3,763.1 L233.6,762.4 L234.9,761.7 L236.1,761.0 L237.4,760.3 L238.6,759.7 L239.9,759.0 L241.1,758.3 L242.4,757.6 L243.7,757.0 L244.9,756.3 L246.2,755.6 L247.4,755.0 L248.7,754.3 L250.0,753.6 L251.2,753.0 L252.5,752.4 L253.7,751.8 L255.0,751.1 L256.2,750.5 L257.5,749.9 L258.8,749.2 L260.0,748.6 L261.3,748.0 L262.5,747.3 L263.8,746.7 L265.1,746.0 L266.3,745.4 L267.6,744.7 L268.8,744.1 L270.1,743.4 L271.3,742.7 L272.6,742.0 L273.9,741.4 L275.1,740.7 L276.4,740.0 L277.6,739.3 L278.9,738.6 L280.2,737.9 L281.4,737.3 L282.7,736.6 L283.9,736.0 L285.2,735.4 L286.4,734.9 L287.7,734.3 L289.0,733.8 L290.2,733.4 L291.5,732.9 L292.7,732.6 L294.0,732.3 L295.3,732.0 L296.5,731.8 L297.8,731.6 L299.0,731.5 L300.3,731.5 L301.5,731.5 L302.8,731.6 L304.1,731.8 L305.3,732.1 L306.6,732.4 L307.8,732.8 L309.1,733.4 L310.3,734.0 L311.6,734.8 L312.9,735.7 L314.1,736.7 L315.4,737.8 L316.6,739.1 L317.9,740.6 L319.2,742.2 L320.4,743.9 L321.7,745.8 L322.9,747.9 L324.2,750.1 L325.4,752.5 L326.7,755.1 L328.0,757.8 L329.2,760.8 L330.5,763.8 L331.7,767.1 L333.0,770.5 L334.3,774.0 L335.5,777.6 L336.8,781.5 L338.0,785.4 L339.3,789.5 L340.5,793.8 L341.8,798.4 L343.1,803.1 L344.3,808.0 L345.6,812.9 L346.8,818.0 L348.1,823.1 L349.4,828.4 L350.6,833.7 L351.9,839.1 L353.1,844.6 L354.4,850.1 L355.6,855.8 L356.9,861.4" fill="none" stroke="#499894" stroke-width="0.45" stroke-opacity="0.85"/>
<path d="M56.2,814.6 L57.5,816.9 L58.7,818.9 L60.0,820.7 L61.2,822.3 L62.5,823.8 L63.7,825.1 L65.0,826.3 L66.3,827.4 L67.5,828.3 L68.8,829.3 L70.0,830.1 L71.3,830.9 L72.6,831.7 L73.8,832.5 L75.1,833.2 L76.3,833.9 L77.6,834.5 L78.8,835.1 L80.1,835.6 L81.4,836.2 L82.6,836.6 L83.9,837.0 L85.1,837.4 L86.4,837.7 L87.7,838.0 L88.9,838.2 L90.2,838.4 L91.4,838.5 L92.7,838.6 L93.9,838.6 L95.2,838.6 L96.5,838.5 L97.7,838.4 L99.0,838.2 L100.2,838.0 L101.5,837.8 L102.8,837.5 L104.0,837.1 L105.3,836.8 L106.5,836.4 L107.8,836.0 L109.0,835.5 L110.3,835.0 L111.6,834.5 L112.8,833.9 L114.1,833.4 L115.3,832.8 L116.6,832.2 L117.8,831.5 L119.1,830.9 L120.4,830.2 L121.6,829.5 L122.9,828.8 L124.1,828.1 L125.4,827.3 L126.7,826.6 L127.9,825.8 L129.2,825.0 L130.4,824.3 L131.7,823.5 L132.9,822.7 L134.2,821.9 L135.5,821.2 L136.7,820.4 L138.0,819.6 L139.2,818.8 L140.5,818.0 L141.8,817.3 L143.0,816.5 L144.3,815.7 L145.5,814.9 L146.8,814.2 L148.0,813.4 L149.3,812.6 L150.6,811.9 L151.8,811.1 L153.1,810.3 L154.3,809.6 L155.6,808.8 L156.9,808.0 L158.1,807.3 L159.4,806.5 L160.6,805.8 L161.9,805.0 L163.1,804.2 L164.4,803.4 L165.7,802.7 L166.9,801.9 L168.2,801.1 L169.4,800.4 L170.7,799.6 L172.0,798.8 L173.2,798.0 L174.5,797.3 L175.7,796.5 L177.0,795.7 L178.2,794.9 L179.5,794.1 L180.8,793.3 L182.0,792.5 L183.3,791.7 L184.5,790.9 L185.8,790.1 L187.0,789.3 L188.3,788.5 L189.6,787.7 L190.8,786.9 L192.1,786.0 L193.3,785.2 L194.6,784.4 L195.9,783.6 L197.1,782.8 L198.4,781.9 L199.6,781.1 L200.9,780.3 L202.1,779.5 L203.4,778.7 L204.7,777.9 L205.9,777.1 L207.2,776.3 L208.4,775.4 L209.7,774.6 L211.0,773.8 L212.2,773.0 L213.5,772.2 L214.7,771.5 L216.0,770.7 L217.2,769.9 L218.5,769.1 L219.8,768.3 L221.0,767.6 L222.3,766.8 L223.5,766.1 L224.8,765.3 L226.1,764.6 L227.3,763.8 L228.6,763.1 L229.8,762.4 L231.1,761.6 L232.3,760.9 L233.6,760.2 L234.9,759.5 L236.1,758.8 L237.4,758.1 L238.6,757.5 L239.9,756.8 L241.1,756.1 L242.4,755.4 L243.7,754.8 L244.9,754.1 L246.2,753.4 L247.4,752.8 L248.7,752.1 L250.0,751.4 L251.2,750.8 L252.5,750.1 L253.7,749.5 L255.0,748.8 L256.2,748.1 L257.5,747.5 L258.8,746.8 L260.0,746.1 L261.3,745.5 L262.5,744.8 L263.8,744.1 L265.1,743.4 L266.3,742.8 L267.6,742.1 L268.8,741.4 L270.1,740.7 L271.3,740.0 L272.6,739.3 L273.9,738.5 L275.1,737.8 L276.4,737.1 L277.6,736.4 L278.9,735.7 L280.2,735.0 L281.4,734.3 L282.7,733.6 L283.9,732.9 L285.2,732.3 L286.4,731.7 L287.7,731.1 L289.0,730.6 L290.2,730.1 L291.5,729.7 L292.7,729.3 L294.0,728.9 L295.3,728.6 L296.5,728.4 L297.8,728.2 L299.0,728.1 L300.3,728.0 L301.5,728.0 L302.8,728.1 L304.1,728.3 L305.3,728.6 L306.6,728.9 L307.8,729.3 L309.1,729.9 L310.3,730.5 L311.6,731.3 L312.9,732.2 L314.1,733.2 L315.4,734.3 L316.6,735.6 L317.9,737.1 L319.2,738.7 L320.4,740.4 L321.7,742.4 L322.9,744.5 L324.2,746.7 L325.4,749.2 L326.7,751.8 L328.0,754.6 L329.2,757.6 L330.5,760.7 L331.7,764.0 L333.0,767.4 L334.3,771.0 L335.5,774.7 L336.8,778.5 L338.0,782.5 L339.3,786.6 L340.5,790.9 L341.8,795.2 L343.1,799.7 L344.3,804.2 L345.6,808.9 L346.8,813.7 L348.1,818.6 L349.4,823.5 L350.6,828.6 L351.9,833.7 L353.1,838.9 L354.4,844.2 L355.6,849.6 L356.9,855.0" fill="none" stroke="#499894" stroke-width="0.75" stroke-opacity="1"/>
<path d="M65.4,826.7 L66.6,827.3 L67.8,827.9 L69.1,828.6 L70.3,829.2 L71.5,829.9 L72.7,830.5 L73.9,831.2 L75.2,831.8 L76.4,832.4 L77.6,833.0 L78.8,833.6 L80.1,834.1 L81.3,834.7 L82.5,835.2 L83.7,835.7 L84.9,836.1 L86.2,836.5 L87.4,836.9 L88.6,837.3 L89.8,837.5 L91.0,837.8 L92.3,838.0 L93.5,838.1 L94.7,838.2 L95.9,838.2 L97.2,838.2 L98.4,838.1 L99.6,838.0 L100.8,837.8 L102.0,837.5 L103.3,837.2 L104.5,836.9 L105.7,836.5 L106.9,836.0 L108.1,835.6 L109.4,835.1 L110.6,834.5 L111.8,834.0 L113.0,833.4 L114.3,832.8 L115.5,832.1 L116.7,831.5 L117.9,830.8 L119.1,830.1 L120.4,829.4 L121.6,828.7 L122.8,828.0 L124.0,827.2 L125.2,826.5 L126.5,825.8 L127.7,825.1 L128.9,824.3 L130.1,823.6 L131.4,822.9 L132.6,822.2 L133.8,821.5 L135.0,820.7 L136.2,820.0 L137.5,819.3 L138.7,818.6 L139.9,817.8 L141.1,817.1 L142.3,816.4 L143.6,815.7 L144.8,814.9 L146.0,814.2 L147.2,813.5 L148.5,812.8 L149.7,812.1 L150.9,811.3 L152.1,810.6 L153.3,809.9 L154.6,809.2 L155.8,808.4 L157.0,807.7 L158.2,807.0 L159.4,806.2 L160.7,805.5 L161.9,804.8 L163.1,804.1 L164.3,803.3 L165.5,802.6 L166.8,801.9 L168.0,801.1 L169.2,800.4 L170.4,799.7 L171.7,798.9 L172.9,798.2 L174.1,797.4 L175.3,796.7 L176.5,796.0 L177.8,795.2 L179.0,794.5 L180.2,793.7 L181.4,793.0 L182.6,792.3 L183.9,791.5 L185.1,790.8 L186.3,790.0 L187.5,789.3 L188.8,788.5 L190.0,787.7 L191.2,787.0 L192.4,786.2 L193.6,785.5 L194.9,784.7 L196.1,784.0 L197.3,783.2 L198.5,782.4 L199.7,781.7 L201.0,780.9 L202.2,780.2 L203.4,779.4 L204.6,778.7 L205.9,777.9 L207.1,777.2 L208.3,776.4 L209.5,775.7 L210.7,774.9 L212.0,774.2 L213.2,773.4 L214.4,772.7 L215.6,772.0 L216.8,771.3 L218.1,770.5 L219.3,769.8 L220.5,769.1 L221.7,768.4 L223.0,767.7 L224.2,767.0 L225.4,766.3 L226.6,765.6 L227.8,764.9 L229.1,764.3 L230.3,763.6 L231.5,763.0 L232.7,762.3 L233.9,761.7 L235.2,761.0 L236.4,760.4 L237.6,759.8 L238.8,759.2 L240.1,758.6 L241.3,758.0 L242.5,757.4 L243.7,756.8 L244.9,756.3 L246.2,755.7 L247.4,755.2 L248.6,754.7 L249.8,754.1 L251.0,753.6 L252.3,753.0 L253.5,752.5 L254.7,751.9 L255.9,751.4 L257.2,750.9 L258.4,750.4 L259.6,749.9 L260.8,749.4 L262.0,749.0 L263.3,748.5 L264.5,748.0 L265.7,747.6 L266.9,747.1 L268.1,746.7 L269.4,746.3 L270.6,745.9 L271.8,745.5 L273.0,745.1 L274.2,744.7 L275.5,744.4 L276.7,744.0 L277.9,743.7 L279.1,743.3 L280.4,743.0 L281.6,742.7 L282.8,742.4 L284.0,742.1 L285.2,741.8 L286.5,741.5 L287.7,741.2 L288.9,740.9 L290.1,740.7 L291.3,740.4 L292.6,740.2 L293.8,740.0 L295.0,739.8 L296.2,739.6 L297.5,739.4 L298.7,739.2 L299.9,739.1 L301.1,739.0 L302.3,739.0 L303.6,739.0 L304.8,739.0 L306.0,739.0 L307.2,739.1 L308.4,739.2 L309.7,739.3 L310.9,739.5 L312.1,739.7 L313.3,739.9 L314.6,740.2 L315.8,740.5 L317.0,740.8 L318.2,741.2 L319.4,741.6 L320.7,742.1 L321.9,742.7 L323.1,743.3 L324.3,744.0 L325.5,744.7 L326.8,745.5 L328.0,746.4 L329.2,747.3 L330.4,748.2 L331.7,749.0 L332.9,749.9 L334.1,750.8 L335.3,751.7 L336.5,752.8 L337.8,753.8 L339.0,755.0 L340.2,756.1 L341.4,757.3 L342.6,758.6 L343.9,759.9 L345.1,761.3 L346.3,762.7 L347.5,764.1 L348.8,765.6 L350.0,767.1 L351.2,768.7 L352.4,770.3 L353.6,772.0 L354.9,773.6 L356.1,775.3 L357.3,777.2 L357.3,795.2 L356.1,793.0 L354.9,790.8 L353.6,788.7 L352.4,786.6 L351.2,784.6 L350.0,782.5 L348.8,780.6 L347.5,778.6 L346.3,776.7 L345.1,774.9 L343.9,773.1 L342.6,771.3 L341.4,769.6 L340.2,767.9 L339.0,766.3 L337.8,764.7 L336.5,763.2 L335.3,761.7 L334.1,760.3 L332.9,758.9 L331.7,757.6 L330.4,756.4 L329.2,755.4 L328.0,754.5 L326.8,753.6 L325.5,752.9 L324.3,752.2 L323.1,751.5 L321.9,751.0 L320.7,750.5 L319.4,750.0 L318.2,749.6 L317.0,749.2 L315.8,748.9 L314.6,748.7 L313.3,748.4 L312.1,748.3 L310.9,748.1 L309.7,748.0 L308.4,747.9 L307.2,747.9 L306.0,747.8 L304.8,747.8 L303.6,747.9 L302.3,747.9 L301.1,748.0 L299.9,748.1 L298.7,748.1 L297.5,748.2 L296.2,748.3 L295.0,748.3 L293.8,748.5 L292.6,748.6 L291.3,748.7 L290.1,748.9 L288.9,749.0 L287.7,749.2 L286.5,749.3 L285.2,749.5 L284.0,749.7 L282.8,749.9 L281.6,750.1 L280.4,750.3 L279.1,750.6 L277.9,750.8 L276.7,751.1 L275.5,751.3 L274.2,751.6 L273.0,751.8 L271.8,752.1 L270.6,752.4 L269.4,752.7 L268.1,753.0 L266.9,753.4 L265.7,753.7 L264.5,754.0 L263.3,754.4 L262.0,754.8 L260.8,755.1 L259.6,755.5 L258.4,755.9 L257.2,756.3 L255.9,756.7 L254.7,757.1 L253.5,757.6 L252.3,758.0 L251.0,758.5 L249.8,758.9 L248.6,759.5 L247.4,760.0 L246.2,760.5 L244.9,761.1 L243.7,761.6 L242.5,762.2 L241.3,762.8 L240.1,763.4 L238.8,764.0 L237.6,764.6 L236.4,765.2 L235.2,765.8 L233.9,766.5 L232.7,767.1 L231.5,767.8 L230.3,768.4 L229.1,769.1 L227.8,769.7 L226.6,770.4 L225.4,771.1 L224.2,771.8 L223.0,772.5 L221.7,773.2 L220.5,773.9 L219.3,774.6 L218.1,775.3 L216.8,776.1 L215.6,776.8 L214.4,777.5 L213.2,778.2 L212.0,779.0 L210.7,779.7 L209.5,780.5 L208.3,781.2 L207.1,782.0 L205.9,782.7 L204.6,783.5 L203.4,784.2 L202.2,785.0 L201.0,785.7 L199.7,786.5 L198.5,787.2 L197.3,788.0 L196.1,788.8 L194.9,789.5 L193.6,790.3 L192.4,791.0 L191.2,791.8 L190.0,792.5 L188.8,793.3 L187.5,794.1 L186.3,794.8 L185.1,795.6 L183.9,796.3 L182.6,797.1 L181.4,797.8 L180.2,798.5 L179.0,799.3 L177.8,800.0 L176.5,800.8 L175.3,801.5 L174.1,802.2 L172.9,803.0 L171.7,803.7 L170.4,804.5 L169.2,805.2 L168.0,805.9 L166.8,806.7 L165.5,807.4 L164.3,808.1 L163.1,808.9 L161.9,809.6 L160.7,810.3 L159.4,811.0 L158.2,811.8 L157.0,812.5 L155.8,813.2 L154.6,814.0 L153.3,814.7 L152.1,815.4 L150.9,816.1 L149.7,816.9 L148.5,817.6 L147.2,818.3 L146.0,819.0 L144.8,819.7 L143.6,820.5 L142.3,821.2 L141.1,821.9 L139.9,822.6 L138.7,823.4 L137.5,824.1 L136.2,824.8 L135.0,825.5 L133.8,826.3 L132.6,827.0 L131.4,827.7 L130.1,828.4 L128.9,829.1 L127.7,829.9 L126.5,830.6 L125.2,831.3 L124.0,832.0 L122.8,832.8 L121.6,833.5 L120.4,834.2 L119.1,834.9 L117.9,835.6 L116.7,836.3 L115.5,836.9 L114.3,837.6 L113.0,838.2 L111.8,838.8 L110.6,839.3 L109.4,839.9 L108.1,840.4 L106.9,840.8 L105.7,841.3 L104.5,841.7 L103.3,842.0 L102.0,842.3 L100.8,842.6 L99.6,842.8 L98.4,842.9 L97.2,843.0 L95.9,843.0 L94.7,843.0 L93.5,842.9 L92.3,842.8 L91.0,842.6 L89.8,842.3 L88.6,842.1 L87.4,841.7 L86.2,841.3 L84.9,840.9 L83.7,840.5 L82.5,840.0 L81.3,839.5 L80.1,838.9 L78.8,838.4 L77.6,837.8 L76.4,837.2 L75.2,836.6 L73.9,836.0 L72.7,835.3 L71.5,834.7 L70.3,834.0 L69.1,833.4 L67.8,832.7 L66.6,832.1 L65.4,831.5 Z" fill="#59A14F" fill-opacity="0.45" stroke="none"/>
<path d="M65.4,826.7 L66.6,827.3 L67.8,827.9 L69.1,828.6 L70.3,829.2 L71.5,829.9 L72.7,830.5 L73.9,831.2 L75.2,831.8 L76.4,832.4 L77.6,833.0 L78.8,833.6 L80.1,834.1 L81.3,834.7 L82.5,835.2 L83.7,835.7 L84.9,836.1 L86.2,836.5 L87.4,836.9 L88.6,837.3 L89.8,837.5 L91.0,837.8 L92.3,838.0 L93.5,838.1 L94.7,838.2 L95.9,838.2 L97.2,838.2 L98.4,838.1 L99.6,838.0 L100.8,837.8 L102.0,837.5 L103.3,837.2 L104.5,836.9 L105.7,836.5 L106.9,836.0 L108.1,835.6 L109.4,835.1 L110.6,834.5 L111.8,834.0 L113.0,833.4 L114.3,832.8 L115.5,832.1 L116.7,831.5 L117.9,830.8 L119.1,830.1 L120.4,829.4 L121.6,828.7 L122.8,828.0 L124.0,827.2 L125.2,826.5 L126.5,825.8 L127.7,825.1 L128.9,824.3 L130.1,823.6 L131.4,822.9 L132.6,822.2 L133.8,821.5 L135.0,820.7 L136.2,820.0 L137.5,819.3 L138.7,818.6 L139.9,817.8 L141.1,817.1 L142.3,816.4 L143.6,815.7 L144.8,814.9 L146.0,814.2 L147.2,813.5 L148.5,812.8 L149.7,812.1 L150.9,811.3 L152.1,810.6 L153.3,809.9 L154.6,809.2 L155.8,808.4 L157.0,807.7 L158.2,807.0 L159.4,806.2 L160.7,805.5 L161.9,804.8 L163.1,804.1 L164.3,803.3 L165.5,802.6 L166.8,801.9 L168.0,801.1 L169.2,800.4 L170.4,799.7 L171.7,798.9 L172.9,798.2 L174.1,797.4 L175.3,796.7 L176.5,796.0 L177.8,795.2 L179.0,794.5 L180.2,793.7 L181.4,793.0 L182.6,792.3 L183.9,791.5 L185.1,790.8 L186.3,790.0 L187.5,789.3 L188.8,788.5 L190.0,787.7 L191.2,787.0 L192.4,786.2 L193.6,785.5 L194.9,784.7 L196.1,784.0 L197.3,783.2 L198.5,782.4 L199.7,781.7 L201.0,780.9 L202.2,780.2 L203.4,779.4 L204.6,778.7 L205.9,777.9 L207.1,777.2 L208.3,776.4 L209.5,775.7 L210.7,774.9 L212.0,774.2 L213.2,773.4 L214.4,772.7 L215.6,772.0 L216.8,771.3 L218.1,770.5 L219.3,769.8 L220.5,769.1 L221.7,768.4 L223.0,767.7 L224.2,767.0 L225.4,766.3 L226.6,765.6 L227.8,764.9 L229.1,764.3 L230.3,763.6 L231.5,763.0 L232.7,762.3 L233.9,761.7 L235.2,761.0 L236.4,760.4 L237.6,759.8 L238.8,759.2 L240.1,758.6 L241.3,758.0 L242.5,757.4 L243.7,756.8 L244.9,756.3 L246.2,755.7 L247.4,755.2 L248.6,754.7 L249.8,754.1 L251.0,753.6 L252.3,753.0 L253.5,752.5 L254.7,751.9 L255.9,751.4 L257.2,750.9 L258.4,750.4 L259.6,749.9 L260.8,749.4 L262.0,749.0 L263.3,748.5 L264.5,748.0 L265.7,747.6 L266.9,747.1 L268.1,746.7 L269.4,746.3 L270.6,745.9 L271.8,745.5 L273.0,745.1 L274.2,744.7 L275.5,744.4 L276.7,744.0 L277.9,743.7 L279.1,743.3 L280.4,743.0 L281.6,742.7 L282.8,742.4 L284.0,742.1 L285.2,741.8 L286.5,741.5 L287.7,741.2 L288.9,740.9 L290.1,740.7 L291.3,740.4 L292.6,740.2 L293.8,740.0 L295.0,739.8 L296.2,739.6 L297.5,739.4 L298.7,739.2 L299.9,739.1 L301.1,739.0 L302.3,739.0 L303.6,739.0 L304.8,739.0 L306.0,739.0 L307.2,739.1 L308.4,739.2 L309.7,739.3 L310.9,739.5 L312.1,739.7 L313.3,739.9 L314.6,740.2 L315.8,740.5 L317.0,740.8 L318.2,741.2 L319.4,741.6 L320.7,742.1 L321.9,742.7 L323.1,743.3 L324.3,744.0 L325.5,744.7 L326.8,745.5 L328.0,746.4 L329.2,747.3 L330.4,748.2 L331.7,749.0 L332.9,749.9 L334.1,750.8 L335.3,751.7 L336.5,752.8 L337.8,753.8 L339.0,755.0 L340.2,756.1 L341.4,757.3 L342.6,758.6 L343.9,759.9 L345.1,761.3 L346.3,762.7 L347.5,764.1 L348.8,765.6 L350.0,767.1 L351.2,768.7 L352.4,770.3 L353.6,772.0 L354.9,773.6 L356.1,775.3 L357.3,777.2 M65.4,831.5 L66.6,832.1 L67.8,832.7 L69.1,833.4 L70.3,834.0 L71.5,834.7 L72.7,835.3 L73.9,836.0 L75.2,836.6 L76.4,837.2 L77.6,837.8 L78.8,838.4 L80.1,838.9 L81.3,839.5 L82.5,840.0 L83.7,840.5 L84.9,840.9 L86.2,841.3 L87.4,841.7 L88.6,842.1 L89.8,842.3 L91.0,842.6 L92.3,842.8 L93.5,842.9 L94.7,843.0 L95.9,843.0 L97.2,843.0 L98.4,842.9 L99.6,842.8 L100.8,842.6 L102.0,842.3 L103.3,842.0 L104.5,841.7 L105.7,841.3 L106.9,840.8 L108.1,840.4 L109.4,839.9 L110.6,839.3 L111.8,838.8 L113.0,838.2 L114.3,837.6 L115.5,836.9 L116.7,836.3 L117.9,835.6 L119.1,834.9 L120.4,834.2 L121.6,833.5 L122.8,832.8 L124.0,832.0 L125.2,831.3 L126.5,830.6 L127.7,829.9 L128.9,829.1 L130.1,828.4 L131.4,827.7 L132.6,827.0 L133.8,826.3 L135.0,825.5 L136.2,824.8 L137.5,824.1 L138.7,823.4 L139.9,822.6 L141.1,821.9 L142.3,821.2 L143.6,820.5 L144.8,819.7 L146.0,819.0 L147.2,818.3 L148.5,817.6 L149.7,816.9 L150.9,816.1 L152.1,815.4 L153.3,814.7 L154.6,814.0 L155.8,813.2 L157.0,812.5 L158.2,811.8 L159.4,811.0 L160.7,810.3 L161.9,809.6 L163.1,808.9 L164.3,808.1 L165.5,807.4 L166.8,806.7 L168.0,805.9 L169.2,805.2 L170.4,804.5 L171.7,803.7 L172.9,803.0 L174.1,802.2 L175.3,801.5 L176.5,800.8 L177.8,800.0 L179.0,799.3 L180.2,798.5 L181.4,797.8 L182.6,797.1 L183.9,796.3 L185.1,795.6 L186.3,794.8 L187.5,794.1 L188.8,793.3 L190.0,792.5 L191.2,791.8 L192.4,791.0 L193.6,790.3 L194.9,789.5 L196.1,788.8 L197.3,788.0 L198.5,787.2 L199.7,786.5 L201.0,785.7 L202.2,785.0 L203.4,784.2 L204.6,783.5 L205.9,782.7 L207.1,782.0 L208.3,781.2 L209.5,780.5 L210.7,779.7 L212.0,779.0 L213.2,778.2 L214.4,777.5 L215.6,776.8 L216.8,776.1 L218.1,775.3 L219.3,774.6 L220.5,773.9 L221.7,773.2 L223.0,772.5 L224.2,771.8 L225.4,771.1 L226.6,770.4 L227.8,769.7 L229.1,769.1 L230.3,768.4 L231.5,767.8 L232.7,767.1 L233.9,766.5 L235.2,765.8 L236.4,765.2 L237.6,764.6 L238.8,764.0 L240.1,763.4 L241.3,762.8 L242.5,762.2 L243.7,761.6 L244.9,761.1 L246.2,760.5 L247.4,760.0 L248.6,759.5 L249.8,758.9 L251.0,758.5 L252.3,758.0 L253.5,757.6 L254.7,757.1 L255.9,756.7 L257.2,756.3 L258.4,755.9 L259.6,755.5 L260.8,755.1 L262.0,754.8 L263.3,754.4 L264.5,754.0 L265.7,753.7 L266.9,753.4 L268.1,753.0 L269.4,752.7 L270.6,752.4 L271.8,752.1 L273.0,751.8 L274.2,751.6 L275.5,751.3 L276.7,751.1 L277.9,750.8 L279.1,750.6 L280.4,750.3 L281.6,750.1 L282.8,749.9 L284.0,749.7 L285.2,749.5 L286.5,749.3 L287.7,749.2 L288.9,749.0 L290.1,748.9 L291.3,748.7 L292.6,748.6 L293.8,748.5 L295.0,748.3 L296.2,748.3 L297.5,748.2 L298.7,748.1 L299.9,748.1 L301.1,748.0 L302.3,747.9 L303.6,747.9 L304.8,747.8 L306.0,747.8 L307.2,747.9 L308.4,747.9 L309.7,748.0 L310.9,748.1 L312.1,748.3 L313.3,748.4 L314.6,748.7 L315.8,748.9 L317.0,749.2 L318.2,749.6 L319.4,750.0 L320.7,750.5 L321.9,751.0 L323.1,751.5 L324.3,752.2 L325.5,752.9 L326.8,753.6 L328.0,754.5 L329.2,755.4 L330.4,756.4 L331.7,757.6 L332.9,758.9 L334.1,760.3 L335.3,761.7 L336.5,763.2 L337.8,764.7 L339.0,766.3 L340.2,767.9 L341.4,769.6 L342.6,771.3 L343.9,773.1 L345.1,774.9 L346.3,776.7 L347.5,778.6 L348.8,780.6 L350.0,782.5 L351.2,784.6 L352.4,786.6 L353.6,788.7 L354.9,790.8 L356.1,793.0 L357.3,795.2" fill="none" stroke="#59A14F" stroke-width="0.45" stroke-opacity="0.85"/>
<path d="M65.4,829.1 L66.6,829.7 L67.8,830.3 L69.1,831.0 L70.3,831.6 L71.5,832.3 L72.7,832.9 L73.9,833.6 L75.2,834.2 L76.4,834.8 L77.6,835.4 L78.8,836.0 L80.1,836.5 L81.3,837.1 L82.5,837.6 L83.7,838.1 L84.9,838.5 L86.2,838.9 L87.4,839.3 L88.6,839.7 L89.8,839.9 L91.0,840.2 L92.3,840.4 L93.5,840.5 L94.7,840.6 L95.9,840.6 L97.2,840.6 L98.4,840.5 L99.6,840.4 L100.8,840.2 L102.0,839.9 L103.3,839.6 L104.5,839.3 L105.7,838.9 L106.9,838.4 L108.1,838.0 L109.4,837.5 L110.6,836.9 L111.8,836.4 L113.0,835.8 L114.3,835.2 L115.5,834.5 L116.7,833.9 L117.9,833.2 L119.1,832.5 L120.4,831.8 L121.6,831.1 L122.8,830.4 L124.0,829.6 L125.2,828.9 L126.5,828.2 L127.7,827.5 L128.9,826.7 L130.1,826.0 L131.4,825.3 L132.6,824.6 L133.8,823.9 L135.0,823.1 L136.2,822.4 L137.5,821.7 L138.7,821.0 L139.9,820.2 L141.1,819.5 L142.3,818.8 L143.6,818.1 L144.8,817.3 L146.0,816.6 L147.2,815.9 L148.5,815.2 L149.7,814.5 L150.9,813.7 L152.1,813.0 L153.3,812.3 L154.6,811.6 L155.8,810.8 L157.0,810.1 L158.2,809.4 L159.4,808.6 L160.7,807.9 L161.9,807.2 L163.1,806.5 L164.3,805.7 L165.5,805.0 L166.8,804.3 L168.0,803.5 L169.2,802.8 L170.4,802.1 L171.7,801.3 L172.9,800.6 L174.1,799.8 L175.3,799.1 L176.5,798.4 L177.8,797.6 L179.0,796.9 L180.2,796.1 L181.4,795.4 L182.6,794.7 L183.9,793.9 L185.1,793.2 L186.3,792.4 L187.5,791.7 L188.8,790.9 L190.0,790.1 L191.2,789.4 L192.4,788.6 L193.6,787.9 L194.9,787.1 L196.1,786.4 L197.3,785.6 L198.5,784.8 L199.7,784.1 L201.0,783.3 L202.2,782.6 L203.4,781.8 L204.6,781.1 L205.9,780.3 L207.1,779.6 L208.3,778.8 L209.5,778.1 L210.7,777.3 L212.0,776.6 L213.2,775.8 L214.4,775.1 L215.6,774.4 L216.8,773.7 L218.1,772.9 L219.3,772.2 L220.5,771.5 L221.7,770.8 L223.0,770.1 L224.2,769.4 L225.4,768.7 L226.6,768.0 L227.8,767.3 L229.1,766.7 L230.3,766.0 L231.5,765.4 L232.7,764.7 L233.9,764.1 L235.2,763.4 L236.4,762.8 L237.6,762.2 L238.8,761.6 L240.1,761.0 L241.3,760.4 L242.5,759.8 L243.7,759.2 L244.9,758.7 L246.2,758.1 L247.4,757.6 L248.6,757.1 L249.8,756.5 L251.0,756.0 L252.3,755.5 L253.5,755.0 L254.7,754.5 L255.9,754.1 L257.2,753.6 L258.4,753.2 L259.6,752.7 L260.8,752.3 L262.0,751.9 L263.3,751.4 L264.5,751.0 L265.7,750.6 L266.9,750.3 L268.1,749.9 L269.4,749.5 L270.6,749.2 L271.8,748.8 L273.0,748.5 L274.2,748.2 L275.5,747.8 L276.7,747.5 L277.9,747.2 L279.1,746.9 L280.4,746.7 L281.6,746.4 L282.8,746.1 L284.0,745.9 L285.2,745.6 L286.5,745.4 L287.7,745.2 L288.9,745.0 L290.1,744.8 L291.3,744.6 L292.6,744.4 L293.8,744.2 L295.0,744.1 L296.2,743.9 L297.5,743.8 L298.7,743.7 L299.9,743.6 L301.1,743.5 L302.3,743.5 L303.6,743.4 L304.8,743.4 L306.0,743.4 L307.2,743.5 L308.4,743.6 L309.7,743.7 L310.9,743.8 L312.1,744.0 L313.3,744.2 L314.6,744.4 L315.8,744.7 L317.0,745.0 L318.2,745.4 L319.4,745.8 L320.7,746.3 L321.9,746.8 L323.1,747.4 L324.3,748.1 L325.5,748.8 L326.8,749.6 L328.0,750.4 L329.2,751.3 L330.4,752.3 L331.7,753.3 L332.9,754.4 L334.1,755.5 L335.3,756.7 L336.5,758.0 L337.8,759.3 L339.0,760.6 L340.2,762.0 L341.4,763.5 L342.6,764.9 L343.9,766.5 L345.1,768.1 L346.3,769.7 L347.5,771.4 L348.8,773.1 L350.0,774.8 L351.2,776.6 L352.4,778.5 L353.6,780.3 L354.9,782.2 L356.1,784.2 L357.3,786.2" fill="none" stroke="#59A14F" stroke-width="0.75" stroke-opacity="1"/>
<line x1="25.3" y1="879.9" x2="26.6" y2="879.9" stroke="#8a8a8a" stroke-width="0.6"/>
<text x="24.6" y="883.0" font-size="8.6" text-anchor="end" fill="#111" font-weight="normal" textLength="12.7" lengthAdjust="spacingAndGlyphs" stroke="#111" stroke-width="0.2">0.7</text>
<line x1="25.3" y1="851.5" x2="26.6" y2="851.5" stroke="#8a8a8a" stroke-width="0.6"/>
<text x="24.6" y="854.64" font-size="8.6" text-anchor="end" fill="#111" font-weight="normal" textLength="12.7" lengthAdjust="spacingAndGlyphs" stroke="#111" stroke-width="0.2">0.8</text>
<line x1="25.3" y1="823.2" x2="26.6" y2="823.2" stroke="#8a8a8a" stroke-width="0.6"/>
<text x="24.6" y="826.28" font-size="8.6" text-anchor="end" fill="#111" font-weight="normal" textLength="12.7" lengthAdjust="spacingAndGlyphs" stroke="#111" stroke-width="0.2">0.9</text>
<line x1="25.3" y1="794.8" x2="26.6" y2="794.8" stroke="#8a8a8a" stroke-width="0.6"/>
<text x="24.6" y="797.92" font-size="8.6" text-anchor="end" fill="#111" font-weight="normal" textLength="12.7" lengthAdjust="spacingAndGlyphs" stroke="#111" stroke-width="0.2">1.0</text>
<line x1="25.3" y1="766.5" x2="26.6" y2="766.5" stroke="#8a8a8a" stroke-width="0.6"/>
<text x="24.6" y="769.5600000000001" font-size="8.6" text-anchor="end" fill="#111" font-weight="normal" textLength="12.7" lengthAdjust="spacingAndGlyphs" stroke="#111" stroke-width="0.2">1.1</text>
<line x1="25.3" y1="738.1" x2="26.6" y2="738.1" stroke="#8a8a8a" stroke-width="0.6"/>
<text x="24.6" y="741.1999999999999" font-size="8.6" text-anchor="end" fill="#111" font-weight="normal" textLength="12.7" lengthAdjust="spacingAndGlyphs" stroke="#111" stroke-width="0.2">1.2</text>
<line x1="25.3" y1="709.7" x2="26.6" y2="709.7" stroke="#8a8a8a" stroke-width="0.6"/>
<text x="24.6" y="712.84" font-size="8.6" text-anchor="end" fill="#111" font-weight="normal" textLength="12.7" lengthAdjust="spacingAndGlyphs" stroke="#111" stroke-width="0.2">1.3</text>
<line x1="26.2" y1="879.5" x2="26.2" y2="881.2" stroke="#999" stroke-width="0.6"/>
<text x="26.2" y="889.1" font-size="9.2" text-anchor="middle" fill="#111" font-weight="normal" stroke="#111" stroke-width="0.2">Jan</text>
<text x="26.2" y="898.6" font-size="9.2" text-anchor="middle" fill="#111" font-weight="normal" textLength="20.5" lengthAdjust="spacingAndGlyphs" stroke="#111" stroke-width="0.2">2017</text>
<line x1="54.0" y1="879.5" x2="54.0" y2="881.2" stroke="#999" stroke-width="0.6"/>
<text x="53.980000000000004" y="889.1" font-size="9.2" text-anchor="middle" fill="#111" font-weight="normal" stroke="#111" stroke-width="0.2">Jul</text>
<text x="53.980000000000004" y="898.6" font-size="9.2" text-anchor="middle" fill="#111" font-weight="normal" textLength="20.5" lengthAdjust="spacingAndGlyphs" stroke="#111" stroke-width="0.2">2017</text>
<line x1="81.8" y1="879.5" x2="81.8" y2="881.2" stroke="#999" stroke-width="0.6"/>
<text x="81.76" y="889.1" font-size="9.2" text-anchor="middle" fill="#111" font-weight="normal" stroke="#111" stroke-width="0.2">Jan</text>
<text x="81.76" y="898.6" font-size="9.2" text-anchor="middle" fill="#111" font-weight="normal" textLength="20.5" lengthAdjust="spacingAndGlyphs" stroke="#111" stroke-width="0.2">2018</text>
<line x1="109.5" y1="879.5" x2="109.5" y2="881.2" stroke="#999" stroke-width="0.6"/>
<text x="109.54" y="889.1" font-size="9.2" text-anchor="middle" fill="#111" font-weight="normal" stroke="#111" stroke-width="0.2">Jul</text>
<text x="109.54" y="898.6" font-size="9.2" text-anchor="middle" fill="#111" font-weight="normal" textLength="20.5" lengthAdjust="spacingAndGlyphs" stroke="#111" stroke-width="0.2">2018</text>
<line x1="137.3" y1="879.5" x2="137.3" y2="881.2" stroke="#999" stroke-width="0.6"/>
<text x="137.32" y="889.1" font-size="9.2" text-anchor="middle" fill="#111" font-weight="normal" stroke="#111" stroke-width="0.2">Jan</text>
<text x="137.32" y="898.6" font-size="9.2" text-anchor="middle" fill="#111" font-weight="normal" textLength="20.5" lengthAdjust="spacingAndGlyphs" stroke="#111" stroke-width="0.2">2019</text>
<line x1="165.1" y1="879.5" x2="165.1" y2="881.2" stroke="#999" stroke-width="0.6"/>
<text x="165.1" y="889.1" font-size="9.2" text-anchor="middle" fill="#111" font-weight="normal" stroke="#111" stroke-width="0.2">Jul</text>
<text x="165.1" y="898.6" font-size="9.2" text-anchor="middle" fill="#111" font-weight="normal" textLength="20.5" lengthAdjust="spacingAndGlyphs" stroke="#111" stroke-width="0.2">2019</text>
<line x1="192.9" y1="879.5" x2="192.9" y2="881.2" stroke="#999" stroke-width="0.6"/>
<text x="192.88" y="889.1" font-size="9.2" text-anchor="middle" fill="#111" font-weight="normal" stroke="#111" stroke-width="0.2">Jan</text>
<text x="192.88" y="898.6" font-size="9.2" text-anchor="middle" fill="#111" font-weight="normal" textLength="20.5" lengthAdjust="spacingAndGlyphs" stroke="#111" stroke-width="0.2">2020</text>
<line x1="220.7" y1="879.5" x2="220.7" y2="881.2" stroke="#999" stroke-width="0.6"/>
<text x="220.66" y="889.1" font-size="9.2" text-anchor="middle" fill="#111" font-weight="normal" stroke="#111" stroke-width="0.2">Jul</text>
<text x="220.66" y="898.6" font-size="9.2" text-anchor="middle" fill="#111" font-weight="normal" textLength="20.5" lengthAdjust="spacingAndGlyphs" stroke="#111" stroke-width="0.2">2020</text>
<line x1="248.4" y1="879.5" x2="248.4" y2="881.2" stroke="#999" stroke-width="0.6"/>
<text x="248.44" y="889.1" font-size="9.2" text-anchor="middle" fill="#111" font-weight="normal" stroke="#111" stroke-width="0.2">Jan</text>
<text x="248.44" y="898.6" font-size="9.2" text-anchor="middle" fill="#111" font-weight="normal" textLength="20.5" lengthAdjust="spacingAndGlyphs" stroke="#111" stroke-width="0.2">2021</text>
<line x1="276.2" y1="879.5" x2="276.2" y2="881.2" stroke="#999" stroke-width="0.6"/>
<text x="276.22" y="889.1" font-size="9.2" text-anchor="middle" fill="#111" font-weight="normal" stroke="#111" stroke-width="0.2">Jul</text>
<text x="276.22" y="898.6" font-size="9.2" text-anchor="middle" fill="#111" font-weight="normal" textLength="20.5" lengthAdjust="spacingAndGlyphs" stroke="#111" stroke-width="0.2">2021</text>
<line x1="304.0" y1="879.5" x2="304.0" y2="881.2" stroke="#999" stroke-width="0.6"/>
<text x="304.0" y="889.1" font-size="9.2" text-anchor="middle" fill="#111" font-weight="normal" stroke="#111" stroke-width="0.2">Jan</text>
<text x="304.0" y="898.6" font-size="9.2" text-anchor="middle" fill="#111" font-weight="normal" textLength="20.5" lengthAdjust="spacingAndGlyphs" stroke="#111" stroke-width="0.2">2022</text>
<line x1="331.8" y1="879.5" x2="331.8" y2="881.2" stroke="#999" stroke-width="0.6"/>
<text x="331.78000000000003" y="889.1" font-size="9.2" text-anchor="middle" fill="#111" font-weight="normal" stroke="#111" stroke-width="0.2">Jul</text>
<text x="331.78000000000003" y="898.6" font-size="9.2" text-anchor="middle" fill="#111" font-weight="normal" textLength="20.5" lengthAdjust="spacingAndGlyphs" stroke="#111" stroke-width="0.2">2022</text>
<line x1="359.6" y1="879.5" x2="359.6" y2="881.2" stroke="#999" stroke-width="0.6"/>
<text x="359.56" y="889.1" font-size="9.2" text-anchor="middle" fill="#111" font-weight="normal" stroke="#111" stroke-width="0.2">Jan</text>
<text x="359.56" y="898.6" font-size="9.2" text-anchor="middle" fill="#111" font-weight="normal" textLength="20.5" lengthAdjust="spacingAndGlyphs" stroke="#111" stroke-width="0.2">2023</text>
<text transform="translate(9.2,783) rotate(-90)" font-size="9.6" text-anchor="middle" fill="#1a1a1a">Case-based <tspan font-style="italic">R</tspan><tspan font-size="6.5" dy="1.8">t</tspan></text>
<text x="59.2" y="701.1" font-size="8.9" text-anchor="start" fill="#111" font-weight="normal" textLength="33.8" lengthAdjust="spacingAndGlyphs" stroke="#111" stroke-width="0.2">Regions</text>
<circle cx="44.2" cy="711.2" r="6.2" fill="#FFBE7D" stroke="#555" stroke-width="0.45"/>
<text x="61.2" y="714.6" font-size="9.5" text-anchor="start" fill="#111" font-weight="normal" stroke="#111" stroke-width="0.25">South-South</text>
<circle cx="44.2" cy="724.7" r="6.2" fill="#E15759" stroke="#555" stroke-width="0.45"/>
<text x="61.2" y="728.0600000000001" font-size="9.5" text-anchor="start" fill="#111" font-weight="normal" stroke="#111" stroke-width="0.25">Southwest</text>
<circle cx="44.2" cy="738.1" r="6.2" fill="#4E79A7" stroke="#555" stroke-width="0.45"/>
<text x="61.2" y="741.52" font-size="9.5" text-anchor="start" fill="#111" font-weight="normal" stroke="#111" stroke-width="0.25">Southeast</text>
<circle cx="44.2" cy="751.6" r="6.2" fill="#B6992D" stroke="#555" stroke-width="0.45"/>
<text x="61.2" y="754.98" font-size="9.5" text-anchor="start" fill="#111" font-weight="normal" stroke="#111" stroke-width="0.25">North Central</text>
<circle cx="44.2" cy="765.0" r="6.2" fill="#499894" stroke="#555" stroke-width="0.45"/>
<text x="61.2" y="768.44" font-size="9.5" text-anchor="start" fill="#111" font-weight="normal" stroke="#111" stroke-width="0.25">Northeast</text>
<circle cx="44.2" cy="778.5" r="6.2" fill="#59A14F" stroke="#555" stroke-width="0.45"/>
<text x="61.2" y="781.9" font-size="9.5" text-anchor="start" fill="#111" font-weight="normal" stroke="#111" stroke-width="0.25">Northwest</text>
<text x="29.8" y="868.8" font-size="5.87" fill="#000" stroke="#000" stroke-width="0.12">Solid lines = median case-based R<tspan font-size="4.2" dy="1">t</tspan></text>
<text x="29.8" y="874.8" font-size="5.87" fill="#000" stroke="#000" stroke-width="0.12">Shaded bands = 95% confidence interval</text>
<text x="3.0" y="680.6" font-size="19.5" font-weight="bold">c</text>
</g>
<g>
<rect x="423.3" y="675.5" width="258.4" height="209.8" fill="#fff" stroke="#d2d2d2" stroke-width="1"/>
<line x1="422.8" y1="675.5" x2="682.2" y2="675.5" stroke="#6a6a6a" stroke-width="0.9"/>
<line x1="460.4" y1="676" x2="460.4" y2="884.6" stroke="#ebebeb" stroke-width="0.5"/>
<line x1="499.8" y1="676" x2="499.8" y2="884.6" stroke="#ebebeb" stroke-width="0.5"/>
<line x1="539.4" y1="676" x2="539.4" y2="884.6" stroke="#ebebeb" stroke-width="0.5"/>
<line x1="578.9" y1="676" x2="578.9" y2="884.6" stroke="#ebebeb" stroke-width="0.5"/>
<line x1="618.3" y1="676" x2="618.3" y2="884.6" stroke="#ebebeb" stroke-width="0.5"/>
<line x1="657.7" y1="676" x2="657.7" y2="884.6" stroke="#ebebeb" stroke-width="0.5"/>
<line x1="424" y1="722.8" x2="682.5" y2="722.8" stroke="#ebebeb" stroke-width="0.5"/>
<line x1="424" y1="762.8" x2="682.5" y2="762.8" stroke="#ebebeb" stroke-width="0.5"/>
<line x1="424" y1="802.8" x2="682.5" y2="802.8" stroke="#ebebeb" stroke-width="0.5"/>
<line x1="424" y1="842.8" x2="682.5" y2="842.8" stroke="#ebebeb" stroke-width="0.5"/>
<line x1="424" y1="881.6" x2="682.5" y2="881.6" stroke="#ebebeb" stroke-width="0.5"/>
<path d="M454.1,739.9 L451.2,736.2 L451.9,731.1 L453.4,725.3 L454.1,718.0 L454.8,710.7 L459.2,705.5 L462.8,699.0 L463.6,693.9 L468.0,690.2 L473.8,688.0 L482.6,687.3 L489.9,685.5 L497.2,687.3 L504.5,689.0 L509.6,691.0 L513.2,693.1 L517.6,701.2 L523.4,700.4 L530.0,697.0 L539.0,697.3 L548.1,701.9 L554.9,707.5 L566.2,705.3 L573.0,705.3 L579.8,707.0 L586.0,709.0 L590.0,712.0 L586.0,717.0 L581.8,720.0 L577.4,722.9 L571.5,727.3 L575.9,736.0 L579.6,740.4 L586.1,739.0 L588.0,742.0 L582.0,742.5 L573.0,738.5 L562.8,736.0 L555.5,741.9 L554.0,749.2 L554.0,755.8 L552.6,756.5 L551.1,763.8 L551.1,772.6 L551.8,778.4 L546.7,780.6 L541.6,777.7 L538.0,776.2 L530.0,776.4 L525.6,774.9 L524.9,769.1 L523.4,761.8 L520.5,757.4 L517.6,751.5 L513.2,750.1 L508.8,752.3 L503.0,750.1 L501.5,743.5 L497.2,741.3 L491.3,741.3 L487.7,739.9 L485.5,736.2 L481.1,736.2 L476.7,739.1 L479.6,742.8 L481.1,747.2 L478.2,751.5 L476.7,757.4 L472.3,759.6 L471.6,754.5 L475.3,750.0 L473.8,744.2 L469.4,742.8 L465.0,742.0 L459.2,740.6 Z" fill="#59A14F" stroke="#3a3a3a" stroke-width="0.45" stroke-linejoin="round"/>
<path d="M573.0,705.3 L579.8,700.7 L591.1,696.2 L604.7,695.1 L616.0,697.3 L625.0,701.9 L631.8,694.0 L638.6,690.6 L647.7,688.3 L653.3,690.6 L656.7,699.6 L660.1,710.9 L666.9,715.4 L670.3,720.0 L668.0,732.4 L661.3,738.1 L655.6,739.2 L653.3,741.5 L647.7,750.5 L643.1,759.6 L638.6,773.1 L633.0,786.7 L625.0,795.8 L620.5,804.8 L617.1,813.9 L611.5,822.9 L604.7,827.5 L597.9,829.7 L593.4,826.3 L586.6,822.9 L579.8,824.1 L575.3,825.2 L571.3,831.2 L572.3,828.0 L574.5,822.2 L575.9,816.4 L575.2,810.5 L570.0,806.1 L562.8,803.2 L567.2,798.8 L570.0,794.5 L580.3,791.5 L587.6,787.2 L590.5,782.8 L589.8,778.4 L587.6,772.6 L580.3,768.2 L575.9,766.7 L573.0,769.6 L568.6,771.1 L562.8,768.2 L559.9,762.3 L557.7,758.0 L554.0,755.8 L554.0,749.2 L555.5,741.9 L562.8,736.0 L573.0,738.5 L582.0,742.5 L588.0,742.0 L586.1,739.0 L579.6,740.4 L575.9,736.0 L571.5,727.3 L577.4,722.9 L581.8,720.0 L586.0,717.0 L590.0,712.0 L586.0,709.0 L579.8,707.0 Z" fill="#499894" stroke="#3a3a3a" stroke-width="0.45" stroke-linejoin="round"/>
<path d="M454.1,739.9 L459.2,740.6 L465.0,742.0 L469.4,742.8 L473.8,744.2 L475.3,750.0 L471.6,754.5 L472.3,759.6 L476.7,757.4 L478.2,751.5 L481.1,747.2 L479.6,742.8 L476.7,739.1 L481.1,736.2 L485.5,736.2 L487.7,739.9 L491.3,741.3 L497.2,741.3 L501.5,743.5 L503.0,750.1 L508.8,752.3 L513.2,750.1 L517.6,751.5 L520.5,757.4 L523.4,761.8 L524.9,769.1 L525.6,774.9 L530.0,776.4 L538.0,776.2 L541.6,777.7 L546.7,780.6 L551.8,778.4 L551.1,772.6 L551.1,763.8 L552.6,756.5 L554.0,755.8 L557.7,758.0 L559.9,762.3 L562.8,768.2 L568.6,771.1 L573.0,769.6 L575.9,766.7 L580.3,768.2 L587.6,772.6 L589.8,778.4 L590.5,782.8 L587.6,787.2 L580.3,791.5 L570.0,794.5 L567.2,798.8 L562.8,803.2 L570.0,806.1 L575.2,810.5 L575.9,816.4 L574.5,822.2 L572.3,828.0 L571.3,831.2 L568.6,832.4 L564.2,828.0 L558.4,825.1 L552.6,825.5 L548.0,826.0 L545.9,829.6 L543.0,827.4 L539.3,829.6 L536.4,830.3 L535.7,827.4 L534.2,825.2 L532.0,823.8 L529.8,821.9 L526.9,820.8 L522.5,823.0 L518.9,826.0 L515.9,828.9 L513.8,831.8 L513.4,829.6 L512.7,824.5 L511.6,820.8 L509.4,815.0 L507.4,813.8 L501.5,812.3 L497.9,810.1 L494.2,808.0 L491.3,803.6 L485.5,801.4 L478.2,801.4 L470.9,801.4 L468.0,797.7 L465.0,791.9 L466.5,786.1 L465.0,782.4 L457.7,778.8 L451.9,782.4 L444.6,786.1 L436.2,789.7 L436.6,781.0 L443.9,779.5 L444.6,774.4 L444.6,770.0 L446.5,764.0 L449.0,757.0 L452.0,752.0 L454.5,745.0 Z" fill="#B6992D" stroke="#3a3a3a" stroke-width="0.45" stroke-linejoin="round"/>
<path d="M436.2,789.7 L444.6,786.1 L451.9,782.4 L457.7,778.8 L465.0,782.4 L466.5,786.1 L465.0,791.9 L468.0,797.7 L470.9,801.4 L478.2,801.4 L485.5,801.4 L491.3,803.6 L494.2,808.0 L497.9,810.1 L498.6,815.3 L495.7,821.1 L492.8,826.2 L487.7,826.9 L481.8,828.4 L481.1,835.7 L480.4,843.0 L478.2,840.8 L473.8,837.9 L469.4,835.7 L463.6,834.2 L456.3,833.5 L444.6,833.5 L435.8,833.5 L435.8,825.5 L435.8,813.8 L435.1,803.6 Z" fill="#E15759" stroke="#3a3a3a" stroke-width="0.45" stroke-linejoin="round"/>
<path d="M497.9,810.1 L501.5,812.3 L507.4,813.8 L509.4,815.0 L511.6,820.8 L512.7,824.5 L513.4,829.6 L513.8,831.8 L515.9,828.9 L518.9,826.0 L522.5,823.0 L526.9,820.8 L529.8,821.9 L532.0,823.8 L534.2,825.2 L535.7,827.4 L536.4,830.3 L539.3,829.6 L543.0,827.4 L545.9,829.6 L548.0,826.0 L552.6,825.5 L558.4,825.1 L564.2,828.0 L568.6,832.4 L571.3,831.2 L566.2,834.2 L562.2,841.6 L556.0,854.1 L549.8,864.5 L543.6,870.5 L537.3,869.8 L530.0,870.7 L520.5,872.2 L511.8,874.8 L503.0,875.1 L495.7,872.2 L491.3,867.8 L488.4,860.5 L486.9,853.2 L484.0,847.4 L480.4,843.0 L481.1,835.7 L481.8,828.4 L487.7,826.9 L492.8,826.2 L495.7,821.1 L498.6,815.3 Z" fill="#FFBE7D" stroke="#3a3a3a" stroke-width="0.45" stroke-linejoin="round"/>
<path d="M513.8,831.8 L515.9,828.9 L518.9,826.0 L522.5,823.0 L526.9,820.8 L529.8,821.9 L532.0,823.8 L534.2,825.2 L535.7,827.4 L536.4,830.3 L539.3,829.6 L543.0,827.4 L545.9,829.6 L547.3,833.2 L546.6,836.9 L544.4,839.8 L540.0,842.0 L537.8,844.9 L537.1,848.6 L537.8,853.0 L534.2,853.0 L531.3,854.4 L529.8,857.3 L528.4,863.2 L526.9,864.6 L523.2,863.9 L524.0,860.3 L524.7,858.1 L519.6,857.3 L515.2,857.0 L513.8,854.4 L513.0,850.0 L513.0,845.7 L513.8,841.3 L513.8,836.9 Z" fill="#4E79A7" stroke="#3a3a3a" stroke-width="0.45" stroke-linejoin="round"/>
<path d="M463.6,698.2 L476.7,700.4 L476.0,715.0 L473.8,722.3 L471.6,731.1" fill="none" stroke="#333" stroke-width="0.5" stroke-opacity="0.85"/>
<path d="M471.6,731.1 L476.7,730.4 L485.5,728.9 L494.2,730.4 L497.2,734.0 L501.5,742.8" fill="none" stroke="#333" stroke-width="0.5" stroke-opacity="0.85"/>
<path d="M481.1,716.5 L481.1,729.0" fill="none" stroke="#333" stroke-width="0.5" stroke-opacity="0.85"/>
<path d="M481.1,716.5 L491.3,715.8 L492.8,708.5 L499.2,706.5 L501.5,700.3 L505.3,699.6 L509.9,700.3 L519.9,702.6 L521.4,712.6 L523.0,723.3 L519.1,725.6 L517.6,731.0 L518.4,735.6 L513.0,741.0 L505.3,744.8 L501.5,745.0" fill="none" stroke="#333" stroke-width="0.5" stroke-opacity="0.85"/>
<path d="M523.0,723.3 L528.0,719.0 L534.5,715.7 L536.0,720.3 L535.2,729.5 L533.7,732.5 L528.3,735.6 L523.0,737.9 L519.1,736.3" fill="none" stroke="#333" stroke-width="0.5" stroke-opacity="0.85"/>
<path d="M536.0,715.7 L542.1,712.6 L547.5,711.8 L551.3,713.4 L554.4,717.2 L560.5,722.6 L563.6,729.5 L560.5,734.0 L554.4,737.1 L552.1,740.2 L551.3,746.3 L552.8,750.9" fill="none" stroke="#333" stroke-width="0.5" stroke-opacity="0.85"/>
<path d="M541.3,707.2 L546.7,706.5 L551.3,708.0 L555.9,707.2 L562.0,710.3 L569.7,711.1 L578.9,708.0 L582.0,704.9" fill="none" stroke="#333" stroke-width="0.5" stroke-opacity="0.85"/>
<path d="M541.3,707.2 L542.1,712.6" fill="none" stroke="#333" stroke-width="0.5" stroke-opacity="0.85"/>
<path d="M533.7,732.5 L540.6,734.0 L548.2,735.6 L552.1,740.2" fill="none" stroke="#333" stroke-width="0.5" stroke-opacity="0.85"/>
<path d="M625.2,700.3 L626.7,708.0 L623.6,714.1 L622.9,729.5 L624.4,731.0 L620.6,740.2 L616.0,743.2 L613.7,747.8 L612.2,752.4 L611.4,755.5 L614.5,758.6 L617.5,761.6 L622.1,758.6 L628.2,754.0 L635.9,750.1 L642.0,752.4 L645.1,749.4 L646.6,744.0 L651.2,743.2" fill="none" stroke="#333" stroke-width="0.5" stroke-opacity="0.85"/>
<path d="M593.0,712.6 L595.3,721.8 L597.6,735.6 L591.5,741.7 L589.2,747.1 L592.2,754.0 L593.0,760.1 L598.4,769.3 L599.1,770.8" fill="none" stroke="#333" stroke-width="0.5" stroke-opacity="0.85"/>
<path d="M597.6,735.6 L602.2,736.3 L607.6,741.0 L610.6,746.3 L611.4,755.5" fill="none" stroke="#333" stroke-width="0.5" stroke-opacity="0.85"/>
<path d="M617.5,761.6 L616.7,766.2 L609.9,770.1 L599.1,770.8 L589.9,771.6" fill="none" stroke="#333" stroke-width="0.5" stroke-opacity="0.85"/>
<path d="M609.9,770.8 L614.5,780.0 L616.0,784.6 L615.2,790.0 L613.0,800.0 L606.0,806.0 L600.0,812.0 L598.0,822.0" fill="none" stroke="#333" stroke-width="0.5" stroke-opacity="0.85"/>
<path d="M453.0,759.2 L460.7,759.9 L467.6,766.1 L471.4,772.2 L476.0,778.3 L480.6,779.9 L485.2,781.4 L491.3,784.5 L499.0,787.5 L503.6,789.0 L506.6,792.1 L512.8,796.7 L515.8,793.6 L522.0,792.9 L528.1,790.6 L531.2,786.0 L530.4,778.3" fill="none" stroke="#333" stroke-width="0.5" stroke-opacity="0.85"/>
<path d="M503.6,789.0 L502.0,792.1 L494.4,792.1 L489.0,792.9 L488.2,796.7 L492.8,799.8 L497.4,802.8 L498.6,808.0" fill="none" stroke="#333" stroke-width="0.5" stroke-opacity="0.85"/>
<path d="M515.8,793.6 L518.9,798.2 L518.9,802.8 L525.0,802.1 L531.2,801.3 L540.0,803.0 L548.0,800.0 L555.0,803.0 L562.8,803.2" fill="none" stroke="#333" stroke-width="0.5" stroke-opacity="0.85"/>
<path d="M513.5,778.3 L518.9,776.8 L523.5,778.3 L525.0,784.5 L523.5,790.6" fill="none" stroke="#333" stroke-width="0.5" stroke-opacity="0.85"/>
<path d="M531.2,786.0 L537.0,790.0 L545.0,791.0 L551.0,794.0 L558.0,796.0 L567.2,798.8" fill="none" stroke="#333" stroke-width="0.5" stroke-opacity="0.85"/>
<path d="M525.0,802.1 L528.0,810.0 L532.0,815.0 L530.7,820.7" fill="none" stroke="#333" stroke-width="0.5" stroke-opacity="0.85"/>
<path d="M436.1,802.8 L439.2,804.4 L442.3,812.0 L445.3,815.1 L451.5,813.6 L456.1,816.6 L459.1,819.7 L465.3,821.2 L469.9,821.2 L474.5,818.2 L479.0,813.6 L480.6,805.9 L479.0,802.8" fill="none" stroke="#333" stroke-width="0.5" stroke-opacity="0.85"/>
<path d="M474.5,818.2 L471.4,824.3 L469.1,828.9 L471.4,833.5" fill="none" stroke="#333" stroke-width="0.5" stroke-opacity="0.85"/>
<path d="M479.0,813.6 L486.7,815.1 L491.3,812.0 L494.4,807.4" fill="none" stroke="#333" stroke-width="0.5" stroke-opacity="0.85"/>
<path d="M436.1,832.0 L445.3,828.9 L454.5,828.9 L460.7,830.4 L469.1,828.9" fill="none" stroke="#333" stroke-width="0.5" stroke-opacity="0.85"/>
<path d="M482.6,835.7 L491.3,838.6 L498.6,843.0 L501.5,837.2 L507.4,832.8 L513.5,832.0" fill="none" stroke="#333" stroke-width="0.5" stroke-opacity="0.85"/>
<path d="M500.5,832.0 L506.6,833.5 L512.8,832.0" fill="none" stroke="#333" stroke-width="0.5" stroke-opacity="0.85"/>
<path d="M519.6,829.6 L520.3,832.5 L523.2,836.2 L526.2,839.8 L527.6,845.7 L526.9,850.0 L525.4,855.1 L524.7,858.1" fill="none" stroke="#333" stroke-width="0.5" stroke-opacity="0.85"/>
<path d="M533.5,829.6 L533.1,834.0 L532.7,842.7 L535.7,844.9 L537.8,844.9" fill="none" stroke="#333" stroke-width="0.5" stroke-opacity="0.85"/>
<path d="M513.8,846.4 L518.1,844.9 L521.8,843.5 L527.0,842.5" fill="none" stroke="#333" stroke-width="0.5" stroke-opacity="0.85"/>
<path d="M548.0,836.0 L556.0,838.0 L560.0,843.0" fill="none" stroke="#333" stroke-width="0.5" stroke-opacity="0.85"/>
<clipPath id="orclip"><path d="M497.9,810.1 L501.5,812.3 L507.4,813.8 L509.4,815.0 L511.6,820.8 L512.7,824.5 L513.4,829.6 L513.8,831.8 L515.9,828.9 L518.9,826.0 L522.5,823.0 L526.9,820.8 L529.8,821.9 L532.0,823.8 L534.2,825.2 L535.7,827.4 L536.4,830.3 L539.3,829.6 L543.0,827.4 L545.9,829.6 L548.0,826.0 L552.6,825.5 L558.4,825.1 L564.2,828.0 L568.6,832.4 L571.3,831.2 L566.2,834.2 L562.2,841.6 L556.0,854.1 L549.8,864.5 L543.6,870.5 L537.3,869.8 L530.0,870.7 L520.5,872.2 L511.8,874.8 L503.0,875.1 L495.7,872.2 L491.3,867.8 L488.4,860.5 L486.9,853.2 L484.0,847.4 L480.4,843.0 L481.1,835.7 L481.8,828.4 L487.7,826.9 L492.8,826.2 L495.7,821.1 L498.6,815.3 Z"/></clipPath>
<path d="M485.7,851.1 L486.7,851.6 L486.3,852.1 L485.6,852.1 M486.0,852.3 L484.7,852.9 L485.3,853.5 L484.3,852.4 M489.0,857.1 L490.4,857.5 L490.2,858.2 L490.9,858.8 M489.6,861.3 L489.0,860.6 L488.3,860.4 L489.1,860.7 M489.9,857.9 L489.0,857.4 L488.5,858.7 L488.3,857.9 M489.7,856.8 L489.6,855.9 L490.3,855.8 L489.1,856.5 M486.9,846.3 L486.2,845.1 L484.9,844.4 L484.4,845.6 M490.2,856.4 L491.0,855.1 L489.7,855.3 L490.9,855.8 M492.7,858.2 L492.5,859.2 L492.2,858.7 L491.4,858.8 M483.4,847.0 L484.0,847.6 L482.9,848.5 L483.8,849.1 M491.7,856.2 L492.2,855.5 L491.4,856.0 L492.6,855.0 M484.5,846.6 L484.7,847.7 L483.9,847.3 L484.9,847.3 M488.7,852.7 L488.3,851.6 L487.4,850.8 L488.8,851.3 M492.7,861.0 L491.9,861.6 L492.9,862.3 L493.5,862.6 M484.9,848.1 L485.5,848.3 L485.9,848.8 L485.5,849.3 M492.0,861.7 L492.0,862.6 L491.5,863.2 L492.4,861.9 M488.8,853.0 L489.6,853.5 L489.4,854.9 L489.8,855.5 M492.1,863.3 L491.5,863.1 L489.9,862.8 L490.7,861.8 M486.7,848.8 L486.9,847.7 L487.0,846.8 L487.3,848.2 M493.6,865.3 L494.1,864.1 L494.3,865.2 L493.9,865.7 M484.4,844.1 L483.9,842.7 L482.4,843.2 L484.0,843.0 M486.5,851.1 L486.7,851.9 L485.6,850.8 L486.2,849.9 M491.7,856.9 L490.9,855.6 L491.2,854.3 L490.4,854.4 M490.1,861.2 L491.1,861.0 L489.8,861.9 L489.7,861.1 M484.2,847.5 L484.4,846.8 L485.2,845.4 L484.6,844.6 M487.3,854.6 L488.5,854.3 L487.0,854.1 L485.7,854.7 M489.8,860.9 L489.6,861.7 L488.8,861.2 L488.2,861.6 M491.1,863.0 L489.7,862.3 L488.4,863.0 L487.3,863.0 M486.4,854.9 L486.7,855.4 L486.9,854.7 L485.6,854.9 M488.5,855.7 L487.2,855.3 L488.1,856.0 L488.1,856.8 M490.9,860.3 L491.0,858.8 L489.8,859.3 L488.7,859.2 M490.1,858.6 L488.6,858.8 L488.1,857.4 L488.9,857.1 M492.1,856.4 L492.5,857.0 L491.9,857.2 L491.9,857.9 M491.7,858.9 L492.4,859.9 L492.0,859.3 L493.2,858.3 M490.6,848.4 L489.0,848.5 L489.4,847.9 L488.4,848.3 M486.1,850.8 L486.0,850.1 L485.0,849.8 L485.9,849.9 M490.0,856.2 L491.3,856.1 L492.0,856.0 L492.0,856.6 M489.7,859.6 L488.4,860.3 L488.8,859.5 L489.7,860.8 M490.7,855.2 L491.9,855.6 L491.3,855.9 L492.5,855.5 M489.0,861.5 L490.4,862.1 L489.5,862.4 L488.0,861.9 M485.1,849.7 L485.2,850.4 L485.5,850.9 L485.8,851.8 M489.7,850.0 L488.9,850.0 L488.5,850.5 L488.5,851.1 M490.8,858.8 L489.3,859.0 L490.4,859.9 L489.4,860.4 M490.7,861.5 L490.1,860.1 L489.3,861.3 L489.0,860.1 M487.6,851.6 L488.0,852.1 L488.0,851.2 L488.3,851.8 M493.0,862.0 L492.8,862.8 L492.5,863.9 L493.1,864.7 M490.9,850.5 L490.0,850.2 L490.9,850.0 L490.6,850.5 M488.2,852.0 L488.6,853.1 L489.4,853.1 L490.3,853.6 M482.5,844.5 L482.6,845.7 L481.3,845.4 L480.6,844.3 M491.0,862.1 L491.7,862.0 L491.5,860.8 L492.9,861.2 M492.1,863.2 L492.4,862.5 L491.3,862.4 L492.0,861.1 M491.6,862.1 L491.0,861.0 L491.1,861.6 L491.8,862.3 M489.2,846.3 L488.3,845.4 L487.9,844.5 L489.3,844.5 M490.7,859.8 L490.3,859.2 L490.3,858.4 L491.0,858.8 M489.1,859.8 L490.1,859.6 L489.3,860.4 L488.8,859.1 M490.6,856.1 L491.2,856.8 L491.1,855.9 L490.6,855.6 M484.6,845.6 L484.1,844.4 L483.8,845.5 L482.8,845.7 M489.7,845.9 L491.2,845.7 L492.3,845.8 L492.9,844.4 M487.4,852.9 L488.1,852.6 L487.5,852.2 L486.0,852.0 M489.2,846.8 L490.2,845.9 L490.4,847.4 L489.8,847.5 M486.0,844.0 L485.7,844.7 L485.2,845.4 L485.5,844.9 M492.4,859.0 L493.6,858.4 L494.3,857.9 L493.6,858.6 M492.6,864.7 L491.8,865.1 L492.5,865.3 L492.9,864.5 M490.8,863.2 L490.0,863.1 L488.9,864.2 L490.0,863.3 M492.2,858.1 L490.9,857.7 L492.2,858.1 L490.9,858.6 M488.9,856.6 L489.5,856.3 L488.6,856.5 L488.2,857.8 M491.1,864.8 L490.8,865.9 L490.2,866.4 L490.6,867.1 M491.6,862.5 L493.0,861.6 L492.3,861.8 L492.5,862.5 M485.4,850.7 L485.4,851.8 L486.4,850.9 L485.5,851.5 M488.5,854.7 L489.4,855.0 L490.1,854.9 L488.8,854.8 M490.1,861.7 L490.1,862.7 L488.6,863.2 L489.5,862.0 M482.4,844.9 L483.3,844.2 L482.8,843.9 L481.6,844.9 M492.8,862.3 L492.8,863.0 L493.5,863.9 L492.8,862.5 M491.3,859.7 L490.2,860.0 L491.5,860.3 L491.7,861.8 M489.0,856.8 L489.0,858.0 L488.7,857.4 L489.7,857.9 M489.0,855.7 L488.5,855.3 L488.2,856.3 L489.4,856.0 M491.4,862.0 L491.4,863.6 L491.2,862.7 L492.3,862.9 M489.8,857.7 L489.0,856.4 L489.1,857.0 L488.6,857.9 M488.7,858.9 L488.6,857.8 L489.0,859.3 L488.5,860.6 M485.5,849.4 L485.0,850.9 L484.3,850.9 L484.4,851.9 M492.6,857.3 L491.9,857.8 L492.6,857.6 L493.3,857.9 M491.0,853.0 L490.8,851.4 L491.7,851.0 L492.3,852.5 M488.3,860.0 L487.6,860.7 L487.2,861.3 L488.1,861.4 M491.2,850.6 L492.0,850.4 L491.1,851.6 L491.6,850.6 M486.1,844.8 L486.8,844.4 L485.8,845.5 L486.8,845.7 M492.3,860.1 L493.0,860.3 L493.7,859.9 L493.7,858.4 M486.6,852.0 L486.0,851.5 L485.8,850.6 L485.7,851.2 M492.8,860.1 L493.4,859.9 L493.5,861.0 L495.0,860.6 M486.8,852.0 L485.3,852.0 L485.9,853.3 L485.8,851.9 M491.4,859.9 L491.0,860.8 L491.1,860.1 L491.5,861.4 M500.5,865.0 L499.6,864.7 L501.1,864.5 L502.0,864.5 M493.1,867.7 L492.8,866.7 L492.9,867.7 L492.0,866.9 M525.1,872.2 L526.1,873.2 L525.8,874.3 L524.9,875.3 M498.7,866.3 L499.5,867.6 L498.7,867.1 L497.4,868.1 M512.8,871.6 L511.9,870.3 L512.7,871.0 L513.4,869.7 M531.1,870.9 L531.7,871.4 L532.9,871.2 L533.8,870.8 M529.7,870.3 L530.0,868.7 L530.9,869.5 L530.3,868.9 M506.2,866.7 L506.2,867.9 L505.7,867.3 L506.7,867.3 M520.6,869.2 L521.0,870.6 L520.3,870.4 L521.1,871.0 M515.6,866.9 L516.3,868.0 L515.5,868.5 L515.0,869.9 M504.5,867.6 L503.2,868.3 L504.2,868.3 L504.6,869.5 M498.4,871.0 L497.1,871.6 L495.9,872.4 L495.1,872.6 M490.8,864.5 L491.4,864.2 L490.7,863.5 L489.9,863.5 M503.1,871.4 L503.9,872.1 L504.4,870.6 L504.7,871.3 M534.3,872.4 L535.8,872.9 L534.6,873.9 L533.6,872.9 M497.9,866.1 L496.8,866.9 L497.1,866.2 L497.3,867.2 M513.6,866.9 L513.6,868.2 L514.1,867.8 L512.9,867.3 M492.4,860.9 L491.5,860.3 L490.9,859.6 L489.8,860.2 M509.9,868.7 L509.3,868.9 L508.5,868.2 L508.7,869.5 M525.8,869.0 L525.1,869.2 L525.8,869.9 L526.7,870.5 M512.5,870.5 L513.7,871.1 L513.9,870.0 L514.9,870.4 M508.3,866.3 L509.3,865.0 L509.1,863.6 L509.7,865.1 M513.5,872.3 L514.2,873.5 L514.8,873.2 L514.0,874.3 M498.1,866.4 L498.4,865.7 L496.9,865.7 L497.1,866.5 M512.9,866.2 L513.2,866.9 L514.4,866.4 L515.0,866.0 M525.3,871.5 L524.7,870.8 L525.5,870.0 L524.2,869.3 M495.8,868.7 L494.7,869.6 L494.6,871.2 L493.7,870.7 M525.1,868.9 L525.0,868.3 L525.4,867.5 L524.4,866.3 M517.3,868.6 L517.9,868.6 L518.6,869.6 L517.6,870.1 M530.5,870.3 L530.1,869.7 L531.1,869.8 L531.8,870.4 M500.5,868.8 L500.8,870.0 L500.1,870.1 L500.9,869.8 M496.1,868.9 L497.0,867.9 L496.3,868.4 L497.5,868.5 M515.6,870.8 L514.1,871.4 L514.0,870.5 L514.6,870.1 M514.3,867.8 L515.5,868.3 L516.7,868.4 L517.4,868.1 M499.4,868.2 L498.5,867.1 L498.9,867.9 L498.7,868.5 M531.5,873.6 L532.9,873.7 L532.9,872.6 L532.8,871.6 M499.6,866.3 L500.5,866.6 L500.5,865.3 L501.2,864.2 M502.3,867.9 L502.6,866.8 L502.5,868.1 L503.3,867.9 M529.5,870.4 L529.6,871.7 L530.9,871.2 L530.2,872.6 M504.6,871.5 L503.7,870.5 L502.9,869.2 L501.5,869.4 M522.8,870.2 L522.6,869.1 L522.3,869.9 L521.8,869.4 M531.2,869.0 L532.4,869.9 L532.0,870.5 L532.6,870.7 M522.1,872.0 L522.1,871.4 L521.3,870.8 L521.8,869.6 M530.1,874.2 L531.5,873.4 L532.1,873.9 L532.6,874.3 M529.6,872.7 L530.2,871.6 L530.0,872.3 L531.1,873.1 M499.1,867.6 L499.9,867.7 L499.7,869.0 L499.0,869.7 M534.4,874.2 L533.9,873.8 L533.0,874.3 L533.1,873.4 M522.5,868.8 L522.9,868.2 L523.3,867.5 L524.1,867.5 M526.0,867.7 L524.9,867.7 L525.2,867.0 L524.2,867.0 M527.8,874.2 L527.6,875.0 L527.3,874.0 L528.2,874.7 M494.3,869.1 L494.6,867.9 L494.0,868.7 L492.8,869.6 M494.7,864.4 L495.0,865.3 L495.9,864.6 L494.8,865.6 M500.7,868.5 L500.7,867.1 L500.1,866.4 L499.8,867.0 M529.1,873.5 L529.6,874.4 L529.8,873.2 L530.5,873.9 M530.2,869.9 L529.8,871.2 L530.2,870.5 L530.7,871.2 M505.1,866.2 L504.7,866.9 L506.0,866.7 L507.3,867.7 M494.4,871.2 L494.8,869.9 L494.1,870.2 L493.6,869.7 M499.3,864.9 L498.2,865.7 L497.8,864.7 L497.1,863.9 M496.7,867.3 L496.6,865.8 L495.6,866.3 L495.6,865.2 M501.0,870.9 L501.2,869.6 L501.9,868.6 L501.3,867.8 M504.7,865.7 L503.4,866.4 L503.2,865.2 L503.2,866.2 M511.2,868.6 L510.5,867.2 L511.0,868.4 L511.2,867.4 M513.5,866.2 L512.7,866.0 L513.1,864.4 L512.4,864.4 M516.5,871.4 L515.3,871.3 L515.8,870.3 L514.5,871.2 M500.0,867.4 L500.1,866.7 L501.0,866.6 L501.9,866.9 M507.4,868.4 L506.3,869.0 L505.8,869.7 L506.0,871.0 M533.3,870.6 L533.6,869.6 L533.8,870.3 L534.0,868.9 M519.1,870.7 L519.4,872.2 L518.6,873.2 L519.2,871.9 M511.1,869.6 L512.1,870.6 L511.2,871.8 L511.1,872.8 M501.5,866.1 L502.8,866.1 L502.7,867.0 L502.3,868.0 M510.0,870.2 L509.0,871.4 L509.4,870.8 L510.1,869.5 M525.3,873.6 L524.9,873.2 L526.5,873.3 L526.0,872.6 M494.0,865.9 L494.1,865.0 L495.0,866.2 L495.2,865.5 M531.2,874.1 L530.5,872.8 L530.8,871.4 L531.2,872.6 M514.9,869.2 L515.8,868.4 L515.7,869.2 L516.4,870.1 M492.6,865.2 L491.5,865.2 L490.1,864.9 L491.5,865.0 M511.7,870.4 L512.2,869.6 L510.8,870.4 L511.9,870.9 M518.3,871.0 L517.7,869.6 L516.9,871.0 L515.8,871.0 M530.4,873.7 L529.7,873.0 L530.3,872.3 L529.2,872.5 M524.9,870.8 L523.8,871.3 L524.3,870.5 L524.7,869.6 M512.7,869.5 L514.0,869.3 L514.2,868.4 L513.8,869.2 M517.2,871.9 L518.5,872.3 L519.4,871.5 L520.2,871.8 M489.7,866.5 L488.7,865.7 L489.1,864.2 L488.1,863.4 M519.2,870.9 L518.9,870.1 L518.4,869.2 L518.4,868.5 M497.4,870.0 L498.5,869.3 L497.5,870.4 L497.8,869.3 M501.5,867.8 L501.0,868.7 L500.1,867.5 L501.2,867.9 M491.0,865.8 L489.7,865.1 L489.1,865.3 L488.2,866.1 M534.1,872.3 L533.5,872.7 L533.0,872.1 L533.4,872.6 M490.6,860.9 L491.3,860.7 L491.8,860.2 L493.1,860.3 M501.6,866.1 L502.9,866.5 L502.6,865.1 L502.5,864.4 M519.3,869.9 L520.1,869.6 L521.4,869.3 L522.0,869.3 M520.6,867.4 L520.1,868.7 L520.8,869.9 L520.1,870.0 M507.1,868.4 L506.7,867.7 L507.0,866.8 L506.2,865.8 M509.0,871.0 L510.3,870.6 L509.5,870.2 L510.9,870.8 M523.0,869.5 L521.8,868.6 L522.3,867.5 L522.0,868.5 M530.6,873.4 L529.4,872.5 L529.7,871.7 L530.6,871.7 M509.6,871.3 L510.1,870.8 L510.8,869.6 L511.6,868.7 M503.3,870.5 L502.7,869.2 L502.3,869.7 L501.0,869.3 M499.7,871.2 L499.8,872.4 L499.4,871.4 L499.6,872.2 M525.1,870.8 L526.3,871.5 L526.4,870.7 L525.1,870.0 M530.8,871.9 L530.1,871.5 L530.4,872.2 L530.1,871.3 M515.8,869.9 L516.2,870.5 L517.1,870.4 L518.1,871.2 M525.5,872.0 L524.9,872.9 L525.5,873.0 L527.0,872.9 M512.5,867.7 L512.7,866.7 L514.0,866.2 L514.6,864.8 M500.8,866.2 L501.0,866.9 L502.1,867.2 L502.9,866.4 M534.4,869.5 L533.6,869.0 L534.7,870.0 L534.7,871.2 M520.4,871.5 L519.6,872.1 L520.4,873.5 L521.2,873.4 M491.3,862.6 L492.5,861.7 L492.9,861.2 L493.1,859.9 M520.7,867.2 L521.6,868.3 L522.7,867.8 L522.4,869.0 M524.1,869.9 L524.0,870.6 L523.3,870.7 L523.3,871.4 M520.2,872.1 L520.4,872.7 L521.1,872.3 L522.5,871.7 M530.2,871.7 L531.4,872.6 L532.1,871.6 L531.2,871.9 M527.8,872.5 L528.3,873.1 L529.6,873.6 L528.9,873.4 M529.6,871.4 L530.1,872.1 L530.6,871.3 L531.1,872.2 M505.4,865.9 L506.1,865.8 L507.1,865.0 L507.3,866.1 M502.7,866.4 L501.6,867.6 L503.2,867.5 L503.9,868.0 M530.3,873.8 L529.9,875.3 L531.3,875.4 L530.9,876.0 M490.8,863.7 L491.2,864.6 L491.9,864.2 L491.2,863.9 M498.8,869.5 L499.1,870.2 L500.1,870.8 L499.2,870.8 M499.7,869.6 L500.1,868.5 L500.3,869.1 L500.2,868.1 M522.3,873.0 L521.6,874.3 L522.3,873.4 L523.8,873.6 M512.7,867.7 L513.2,869.0 L512.7,869.6 L511.9,870.4 M490.3,863.1 L489.5,863.1 L489.2,861.7 L489.8,861.0 M522.5,872.5 L523.8,873.1 L524.9,872.8 L523.8,872.7 M513.8,872.9 L513.9,873.7 L514.6,874.2 L514.8,873.6 M494.8,865.7 L496.0,865.8 L495.0,865.3 L494.8,864.6 M530.4,868.8 L531.2,869.5 L530.3,869.5 L531.1,870.2 M496.5,870.4 L497.2,871.4 L497.2,870.6 L497.9,869.3 M507.7,871.3 L506.7,871.1 L508.0,870.6 L507.6,871.3 M505.3,872.0 L505.8,870.6 L506.4,869.3 L507.4,869.6 M534.9,870.9 L533.8,871.5 L533.1,872.3 L534.0,872.8 M512.3,867.0 L513.6,866.7 L514.7,866.2 L515.3,864.8 M529.8,873.1 L529.6,874.3 L529.5,875.5 L530.6,874.9 M501.6,867.8 L502.4,867.6 L502.0,868.7 L502.9,869.6 M534.0,871.0 L532.9,871.3 L533.3,871.8 L533.9,872.5 M508.3,867.2 L509.3,867.8 L509.9,866.8 L508.8,866.2 M499.7,867.9 L498.5,867.5 L497.6,867.7 L497.7,868.5 M513.3,870.1 L514.3,870.2 L514.8,869.5 L513.8,869.2 M504.1,867.0 L504.2,866.3 L505.5,866.9 L504.9,867.1 M507.7,870.5 L508.4,871.1 L509.7,870.7 L510.2,871.5 M506.6,869.5 L507.4,868.4 L506.1,868.2 L506.0,866.9 M512.4,870.8 L513.1,870.4 L513.5,870.0 L513.6,868.8 M513.8,869.9 L512.6,870.6 L513.5,869.8 L512.7,870.5 M511.5,867.8 L510.6,868.5 L509.9,869.1 L510.3,867.7 M512.9,867.2 L512.6,867.9 L511.6,867.4 L512.9,868.2 M505.6,871.0 L506.4,870.8 L505.0,871.4 L505.7,871.5 M516.0,872.8 L516.1,871.6 L517.3,871.6 L516.0,871.5 M507.6,869.6 L506.7,870.8 L506.2,869.8 L507.0,870.4 M508.6,869.5 L509.7,868.4 L508.7,868.5 L507.5,867.4 M505.9,870.9 L506.3,871.7 L507.7,871.5 L507.0,871.4 M531.5,874.2 L533.0,874.1 L532.3,874.5 L532.1,875.5 M512.6,867.3 L511.8,866.4 L510.8,867.6 L510.4,867.2 M509.5,867.6 L509.3,867.1 L508.8,868.4 L507.7,867.8 M499.0,868.5 L498.9,869.7 L497.4,869.4 L496.4,869.0 M494.9,869.7 L495.5,870.1 L496.0,871.1 L496.5,870.0 M526.2,868.1 L526.3,867.2 L526.1,866.2 L526.6,867.0 M495.4,868.4 L494.8,869.2 L494.3,869.7 L495.2,868.9 M534.0,873.5 L534.0,874.2 L535.3,873.5 L534.8,874.9 M527.1,872.3 L528.2,872.0 L529.0,871.7 L528.0,872.6 M499.8,870.8 L498.4,871.0 L498.4,871.7 L498.0,872.4 M534.3,873.2 L535.1,874.0 L534.4,874.6 L535.0,874.9 M527.7,869.8 L528.0,870.7 L528.1,871.3 L527.6,870.5 M497.6,865.1 L497.4,866.6 L498.1,867.3 L498.9,866.1 M497.0,869.5 L495.9,870.6 L496.3,872.1 L495.5,872.1 M510.1,870.6 L510.0,872.1 L509.2,871.6 L509.2,872.8 M500.5,865.5 L499.4,865.4 L499.2,866.8 L498.3,867.6 M515.7,869.1 L516.4,869.5 L516.9,868.7 L516.6,868.1 M515.6,869.8 L515.4,870.4 L515.1,871.2 L516.0,872.1 M502.8,871.3 L503.0,869.8 L503.5,869.3 L503.4,869.9 M521.6,869.5 L520.5,870.2 L520.2,869.4 L520.8,868.6 M518.3,867.5 L519.4,866.8 L519.3,866.2 L520.0,866.4 M498.7,867.3 L499.6,867.5 L499.1,866.9 L499.7,865.9 M522.5,870.4 L522.1,869.5 L523.5,869.5 L523.7,868.6 M492.7,864.4 L493.5,864.6 L494.6,865.5 L494.9,867.0 M523.7,872.4 L522.6,873.3 L523.0,872.5 L524.3,873.3 M510.4,870.4 L510.3,869.0 L509.5,868.2 L510.7,868.6 M509.7,872.1 L510.7,873.1 L511.9,873.4 L512.2,872.6 M516.1,870.7 L515.3,870.4 L516.1,870.8 L515.5,871.2 M503.6,870.0 L503.2,869.3 L503.2,870.4 L501.8,870.9 M505.8,871.4 L506.5,872.3 L505.8,873.5 L504.5,873.1 M498.1,868.7 L496.8,869.0 L497.1,868.4 L496.9,869.4 M498.6,866.6 L499.0,867.8 L498.4,868.1 L497.9,869.0 M506.0,865.8 L507.6,865.9 L507.6,865.2 L507.3,863.7 M515.1,869.7 L514.4,870.1 L513.8,869.9 L514.9,869.3 M519.7,871.3 L519.7,872.1 L520.1,872.6 L520.4,871.2 M503.0,869.5 L503.9,868.2 L504.5,869.4 L505.2,868.2 M504.4,870.9 L504.0,871.8 L503.1,871.5 L503.5,870.7 M492.0,864.5 L492.6,863.3 L493.9,862.5 L492.8,862.5 M496.8,868.6 L498.0,869.2 L498.5,870.1 L499.2,869.9 M491.7,861.5 L491.6,860.9 L492.4,859.6 L492.6,858.6" stroke="#2a1d12" stroke-width="0.5" fill="none" stroke-opacity="0.8" clip-path="url(#orclip)"/>
<circle cx="516.6" cy="725.9" r="2.4" fill="#1a0f0f" fill-opacity="0.95"/>
<circle cx="515.8" cy="784.7" r="3.6" fill="#1a0f0f" fill-opacity="0.95"/>
<circle cx="462.8" cy="812.3" r="6.2" fill="#1a0f0f" fill-opacity="0.95"/>
<circle cx="527.6" cy="840.5" r="3.65" fill="#1a0f0f" fill-opacity="0.95"/>
<circle cx="503" cy="859.4" r="5.2" fill="#1a0f0f" fill-opacity="0.95"/>
<circle cx="609.9" cy="751.6" r="2.1" fill="#1a0f0f" fill-opacity="0.95"/>
<line x1="421" y1="722.8" x2="423" y2="722.8" stroke="#555" stroke-width="0.6"/>
<text x="419.6" y="727.5999999999999" font-size="13.5" text-anchor="end" fill="#1a1a1a" font-weight="normal" >12°N</text>
<line x1="421" y1="762.8" x2="423" y2="762.8" stroke="#555" stroke-width="0.6"/>
<text x="419.6" y="767.5999999999999" font-size="13.5" text-anchor="end" fill="#1a1a1a" font-weight="normal" >10°N</text>
<line x1="421" y1="802.8" x2="423" y2="802.8" stroke="#555" stroke-width="0.6"/>
<text x="419.6" y="807.5999999999999" font-size="13.5" text-anchor="end" fill="#1a1a1a" font-weight="normal" >8°N</text>
<line x1="421" y1="842.8" x2="423" y2="842.8" stroke="#555" stroke-width="0.6"/>
<text x="419.6" y="847.5999999999999" font-size="13.5" text-anchor="end" fill="#1a1a1a" font-weight="normal" >6°N</text>
<line x1="421" y1="881.6" x2="423" y2="881.6" stroke="#555" stroke-width="0.6"/>
<text x="419.6" y="886.4" font-size="13.5" text-anchor="end" fill="#1a1a1a" font-weight="normal" >4°N</text>
<line x1="460.4" y1="885.4" x2="460.4" y2="887.4" stroke="#555" stroke-width="0.6"/>
<text x="460.4" y="898.6" font-size="13.0" text-anchor="middle" fill="#1a1a1a" font-weight="normal" >4°E</text>
<line x1="499.8" y1="885.4" x2="499.8" y2="887.4" stroke="#555" stroke-width="0.6"/>
<text x="499.8" y="898.6" font-size="13.0" text-anchor="middle" fill="#1a1a1a" font-weight="normal" >6°E</text>
<line x1="539.4" y1="885.4" x2="539.4" y2="887.4" stroke="#555" stroke-width="0.6"/>
<text x="539.4" y="898.6" font-size="13.0" text-anchor="middle" fill="#1a1a1a" font-weight="normal" >8°E</text>
<line x1="579.3" y1="885.4" x2="579.3" y2="887.4" stroke="#555" stroke-width="0.6"/>
<text x="579.3" y="898.6" font-size="13.0" text-anchor="middle" fill="#1a1a1a" font-weight="normal" >10°E</text>
<line x1="619" y1="885.4" x2="619" y2="887.4" stroke="#555" stroke-width="0.6"/>
<text x="619" y="898.6" font-size="13.0" text-anchor="middle" fill="#1a1a1a" font-weight="normal" >12°E</text>
<line x1="657.9" y1="885.4" x2="657.9" y2="887.4" stroke="#555" stroke-width="0.6"/>
<text x="657.9" y="898.6" font-size="13.0" text-anchor="middle" fill="#1a1a1a" font-weight="normal" >14°E</text>
<text x="552.5" y="911.9" font-size="13.6" text-anchor="middle" fill="#000" font-weight="normal" textLength="57.7" lengthAdjust="spacingAndGlyphs" >Longitude</text>
<text transform="translate(386.3,780.4) rotate(-90)" font-size="13.4" text-anchor="middle">Latitude</text>
<text x="609.7" y="831.8" font-size="11" text-anchor="start" fill="#000" font-weight="normal" textLength="57.7" lengthAdjust="spacingAndGlyphs" >Case count</text>
<circle cx="607.7" cy="845.0" r="2.1" fill="#666"/>
<text x="628.4" y="847.6" font-size="11.3" text-anchor="start" fill="#000" font-weight="normal" textLength="52" lengthAdjust="spacingAndGlyphs" >173 cases</text>
<circle cx="607.7" cy="860.8" r="4.6" fill="#666"/>
<text x="628.4" y="864.0" font-size="11.3" text-anchor="start" fill="#000" font-weight="normal" textLength="52" lengthAdjust="spacingAndGlyphs" >492 cases</text>
<circle cx="607.7" cy="877.3" r="6.0" fill="#666"/>
<text x="628.4" y="880.0" font-size="11.3" text-anchor="start" fill="#000" font-weight="normal" textLength="52" lengthAdjust="spacingAndGlyphs" >812 cases</text>
<text x="391.6" y="686" font-size="20" font-weight="bold">d</text>
</g>
<g>
<text x="1.8" y="952.7" font-size="22.5" font-weight="bold">e</text>
<text x="59.6" y="979.3" font-size="12.4" text-anchor="start" fill="#000" font-weight="normal" textLength="107.1" lengthAdjust="spacingAndGlyphs" >Mpox: cluster sizes</text>
<rect x="67.6" y="1000.0" width="47.8" height="141.5" fill="#483D8B"/>
<rect x="121.2" y="1129.5" width="47.7" height="12.0" fill="#483D8B"/>
<rect x="174.8" y="1139.1" width="47.8" height="2.4" fill="#483D8B"/>
<line x1="59.7" y1="986.3" x2="59.7" y2="1142.2" stroke="#333" stroke-width="0.9"/>
<line x1="59.2" y1="1141.8" x2="230" y2="1141.8" stroke="#333" stroke-width="0.9"/>
<line x1="56.9" y1="1141.1" x2="59.6" y2="1141.1" stroke="#333" stroke-width="0.8"/>
<text x="55.8" y="1147.3" font-size="16.9" text-anchor="end" fill="#4d4d4d" font-weight="normal" >0</text>
<line x1="56.9" y1="1100.8" x2="59.6" y2="1100.8" stroke="#333" stroke-width="0.8"/>
<text x="55.8" y="1107.0" font-size="16.9" text-anchor="end" fill="#4d4d4d" font-weight="normal" >25</text>
<line x1="56.9" y1="1060.5" x2="59.6" y2="1060.5" stroke="#333" stroke-width="0.8"/>
<text x="55.8" y="1066.7" font-size="16.9" text-anchor="end" fill="#4d4d4d" font-weight="normal" >50</text>
<line x1="56.9" y1="1020.3" x2="59.6" y2="1020.3" stroke="#333" stroke-width="0.8"/>
<text x="55.8" y="1026.5" font-size="16.9" text-anchor="end" fill="#4d4d4d" font-weight="normal" >75</text>
<line x1="91.5" y1="1141.8" x2="91.5" y2="1144.4" stroke="#333" stroke-width="0.8"/>
<text x="91.5" y="1156.7" font-size="16.9" text-anchor="middle" fill="#4d4d4d" font-weight="normal" >1</text>
<line x1="145" y1="1141.8" x2="145" y2="1144.4" stroke="#333" stroke-width="0.8"/>
<text x="145" y="1156.7" font-size="16.9" text-anchor="middle" fill="#4d4d4d" font-weight="normal" >2</text>
<line x1="198.6" y1="1141.8" x2="198.6" y2="1144.4" stroke="#333" stroke-width="0.8"/>
<text x="198.6" y="1156.7" font-size="16.9" text-anchor="middle" fill="#4d4d4d" font-weight="normal" >3</text>
<text x="91.5" y="997.7" font-size="7.4" text-anchor="middle" fill="#222" font-weight="normal" >88</text>
<text x="145" y="1127.6" font-size="7.4" text-anchor="middle" fill="#222" font-weight="normal" >7</text>
<text x="198.6" y="1137.3" font-size="7.4" text-anchor="middle" fill="#222" font-weight="normal" >1</text>
<text x="146" y="1173.8" font-size="16.3" text-anchor="middle" fill="#000" font-weight="normal" textLength="128.9" lengthAdjust="spacingAndGlyphs" >Size of clusters of</text>
<text x="146" y="1191.2" font-size="16.3" text-anchor="middle" fill="#000" font-weight="normal" textLength="143" lengthAdjust="spacingAndGlyphs" >identical sequences</text>
<text transform="translate(33.5,1063.7) rotate(-90)" font-size="16.2" text-anchor="middle" textLength="136" lengthAdjust="spacingAndGlyphs">Number of clusters</text>
<text x="253.8" y="953" font-size="20.5" font-weight="bold">f</text>
<text x="277.7" y="979.1" font-size="12.4" text-anchor="start" fill="#000" font-weight="normal" textLength="99" lengthAdjust="spacingAndGlyphs" >Mpox: R estimate</text>
<line x1="277.7" y1="1176.4" x2="447.3" y2="1176.4" stroke="#ebebeb" stroke-width="0.8"/>
<line x1="277.7" y1="1150.8" x2="447.3" y2="1150.8" stroke="#ebebeb" stroke-width="0.8"/>
<line x1="277.7" y1="1125.2" x2="447.3" y2="1125.2" stroke="#ebebeb" stroke-width="0.8"/>
<line x1="277.7" y1="1099.6" x2="447.3" y2="1099.6" stroke="#ebebeb" stroke-width="0.8"/>
<line x1="277.7" y1="1074.0" x2="447.3" y2="1074.0" stroke="#ebebeb" stroke-width="0.8"/>
<line x1="277.7" y1="1048.4" x2="447.3" y2="1048.4" stroke="#ebebeb" stroke-width="0.8"/>
<line x1="277.7" y1="1022.8" x2="447.3" y2="1022.8" stroke="#ebebeb" stroke-width="0.8"/>
<line x1="277.7" y1="997.2" x2="447.3" y2="997.2" stroke="#ebebeb" stroke-width="0.8"/>
<line x1="301.4" y1="985.6" x2="301.4" y2="1176.4" stroke="#ebebeb" stroke-width="0.8"/>
<line x1="341.8" y1="985.6" x2="341.8" y2="1176.4" stroke="#ebebeb" stroke-width="0.8"/>
<line x1="382.3" y1="985.6" x2="382.3" y2="1176.4" stroke="#ebebeb" stroke-width="0.8"/>
<line x1="422.7" y1="985.6" x2="422.7" y2="1176.4" stroke="#ebebeb" stroke-width="0.8"/>
<rect x="277.7" y="985.6" width="169.6" height="190.8" fill="none" stroke="#333" stroke-width="0.9"/>
<line x1="275.0" y1="1176.4" x2="277.7" y2="1176.4" stroke="#333" stroke-width="0.8"/>
<text x="273.59999999999997" y="1182.7" font-size="16.9" text-anchor="end" fill="#4d4d4d" font-weight="normal" >0.0</text>
<line x1="275.0" y1="1150.8" x2="277.7" y2="1150.8" stroke="#333" stroke-width="0.8"/>
<text x="273.59999999999997" y="1157.1000000000001" font-size="16.9" text-anchor="end" fill="#4d4d4d" font-weight="normal" >0.2</text>
<line x1="275.0" y1="1125.2" x2="277.7" y2="1125.2" stroke="#333" stroke-width="0.8"/>
<text x="273.59999999999997" y="1131.5" font-size="16.9" text-anchor="end" fill="#4d4d4d" font-weight="normal" >0.4</text>
<line x1="275.0" y1="1099.6" x2="277.7" y2="1099.6" stroke="#333" stroke-width="0.8"/>
<text x="273.59999999999997" y="1105.9" font-size="16.9" text-anchor="end" fill="#4d4d4d" font-weight="normal" >0.6</text>
<line x1="275.0" y1="1074.0" x2="277.7" y2="1074.0" stroke="#333" stroke-width="0.8"/>
<text x="273.59999999999997" y="1080.3" font-size="16.9" text-anchor="end" fill="#4d4d4d" font-weight="normal" >0.8</text>
<line x1="275.0" y1="1048.4" x2="277.7" y2="1048.4" stroke="#333" stroke-width="0.8"/>
<text x="273.59999999999997" y="1054.7" font-size="16.9" text-anchor="end" fill="#4d4d4d" font-weight="normal" >1.0</text>
<line x1="275.0" y1="1022.8" x2="277.7" y2="1022.8" stroke="#333" stroke-width="0.8"/>
<text x="273.59999999999997" y="1029.1000000000001" font-size="16.9" text-anchor="end" fill="#4d4d4d" font-weight="normal" >1.2</text>
<line x1="275.0" y1="997.2" x2="277.7" y2="997.2" stroke="#333" stroke-width="0.8"/>
<text x="273.59999999999997" y="1003.5" font-size="16.9" text-anchor="end" fill="#4d4d4d" font-weight="normal" >1.4</text>
<line x1="301.4" y1="1176.4" x2="301.4" y2="1179.1000000000001" stroke="#333" stroke-width="0.8"/>
<text x="301.4" y="1191.2" font-size="16.9" text-anchor="middle" fill="#4d4d4d" font-weight="normal" >5%</text>
<line x1="341.8" y1="1176.4" x2="341.8" y2="1179.1000000000001" stroke="#333" stroke-width="0.8"/>
<text x="341.8" y="1191.2" font-size="16.9" text-anchor="middle" fill="#4d4d4d" font-weight="normal" >10%</text>
<line x1="382.3" y1="1176.4" x2="382.3" y2="1179.1000000000001" stroke="#333" stroke-width="0.8"/>
<text x="382.3" y="1191.2" font-size="16.9" text-anchor="middle" fill="#4d4d4d" font-weight="normal" >50%</text>
<line x1="422.7" y1="1176.4" x2="422.7" y2="1179.1000000000001" stroke="#333" stroke-width="0.8"/>
<text x="422.7" y="1191.2" font-size="16.9" text-anchor="middle" fill="#4d4d4d" font-weight="normal" >100%</text>
<line x1="301.4" y1="1014.7" x2="301.4" y2="1034.0" stroke="#483D8B" stroke-width="1.0"/>
<circle cx="301.4" cy="1022.4" r="1.85" fill="#483D8B"/>
<line x1="341.8" y1="1011.0" x2="341.8" y2="1031.2" stroke="#483D8B" stroke-width="1.0"/>
<circle cx="341.8" cy="1018.5" r="1.85" fill="#483D8B"/>
<line x1="382.3" y1="1003.1" x2="382.3" y2="1034.0" stroke="#483D8B" stroke-width="1.0"/>
<circle cx="382.3" cy="1015.3" r="1.85" fill="#483D8B"/>
<line x1="422.7" y1="1006.8" x2="422.7" y2="1051.8" stroke="#483D8B" stroke-width="1.0"/>
<circle cx="422.7" cy="1024.6" r="1.85" fill="#483D8B"/>
<text transform="translate(246.8,1081.3) rotate(-90)" font-size="12.7" text-anchor="middle">R estimate</text>
<text x="478.4" y="952.3" font-size="22.5" font-weight="bold">g</text>
<text x="511.4" y="979.1" font-size="12.4" text-anchor="start" fill="#000" font-weight="normal" textLength="97.1" lengthAdjust="spacingAndGlyphs" >Mpox: k estimate</text>
<line x1="511.4" y1="1174.7" x2="663.2" y2="1174.7" stroke="#e6e6e6" stroke-width="0.85"/>
<line x1="511.4" y1="1160.6" x2="663.2" y2="1160.6" stroke="#e6e6e6" stroke-width="0.85"/>
<line x1="511.4" y1="1152.4" x2="663.2" y2="1152.4" stroke="#e6e6e6" stroke-width="0.7"/>
<line x1="511.4" y1="1146.6" x2="663.2" y2="1146.6" stroke="#e6e6e6" stroke-width="0.7"/>
<line x1="511.4" y1="1142.1" x2="663.2" y2="1142.1" stroke="#e6e6e6" stroke-width="0.85"/>
<line x1="511.4" y1="1138.4" x2="663.2" y2="1138.4" stroke="#e6e6e6" stroke-width="0.7"/>
<line x1="511.4" y1="1135.2" x2="663.2" y2="1135.2" stroke="#e6e6e6" stroke-width="0.7"/>
<line x1="511.4" y1="1132.5" x2="663.2" y2="1132.5" stroke="#e6e6e6" stroke-width="0.7"/>
<line x1="511.4" y1="1130.1" x2="663.2" y2="1130.1" stroke="#e6e6e6" stroke-width="0.7"/>
<line x1="511.4" y1="1128.0" x2="663.2" y2="1128.0" stroke="#e6e6e6" stroke-width="0.85"/>
<line x1="511.4" y1="1113.9" x2="663.2" y2="1113.9" stroke="#e6e6e6" stroke-width="0.85"/>
<line x1="511.4" y1="1105.7" x2="663.2" y2="1105.7" stroke="#e6e6e6" stroke-width="0.7"/>
<line x1="511.4" y1="1099.9" x2="663.2" y2="1099.9" stroke="#e6e6e6" stroke-width="0.7"/>
<line x1="511.4" y1="1095.4" x2="663.2" y2="1095.4" stroke="#e6e6e6" stroke-width="0.85"/>
<line x1="511.4" y1="1091.7" x2="663.2" y2="1091.7" stroke="#e6e6e6" stroke-width="0.7"/>
<line x1="511.4" y1="1088.5" x2="663.2" y2="1088.5" stroke="#e6e6e6" stroke-width="0.7"/>
<line x1="511.4" y1="1085.8" x2="663.2" y2="1085.8" stroke="#e6e6e6" stroke-width="0.7"/>
<line x1="511.4" y1="1083.4" x2="663.2" y2="1083.4" stroke="#e6e6e6" stroke-width="0.7"/>
<line x1="511.4" y1="1081.3" x2="663.2" y2="1081.3" stroke="#e6e6e6" stroke-width="0.85"/>
<line x1="511.4" y1="1067.2" x2="663.2" y2="1067.2" stroke="#e6e6e6" stroke-width="0.85"/>
<line x1="511.4" y1="1059.0" x2="663.2" y2="1059.0" stroke="#e6e6e6" stroke-width="0.7"/>
<line x1="511.4" y1="1053.2" x2="663.2" y2="1053.2" stroke="#e6e6e6" stroke-width="0.7"/>
<line x1="511.4" y1="1048.7" x2="663.2" y2="1048.7" stroke="#e6e6e6" stroke-width="0.85"/>
<line x1="511.4" y1="1045.0" x2="663.2" y2="1045.0" stroke="#e6e6e6" stroke-width="0.7"/>
<line x1="511.4" y1="1041.8" x2="663.2" y2="1041.8" stroke="#e6e6e6" stroke-width="0.7"/>
<line x1="511.4" y1="1039.1" x2="663.2" y2="1039.1" stroke="#e6e6e6" stroke-width="0.7"/>
<line x1="511.4" y1="1036.7" x2="663.2" y2="1036.7" stroke="#e6e6e6" stroke-width="0.7"/>
<line x1="511.4" y1="1034.6" x2="663.2" y2="1034.6" stroke="#e6e6e6" stroke-width="0.85"/>
<line x1="511.4" y1="1020.5" x2="663.2" y2="1020.5" stroke="#e6e6e6" stroke-width="0.85"/>
<line x1="511.4" y1="1012.3" x2="663.2" y2="1012.3" stroke="#e6e6e6" stroke-width="0.7"/>
<line x1="511.4" y1="1006.5" x2="663.2" y2="1006.5" stroke="#e6e6e6" stroke-width="0.7"/>
<line x1="511.4" y1="1002.0" x2="663.2" y2="1002.0" stroke="#e6e6e6" stroke-width="0.85"/>
<line x1="511.4" y1="998.3" x2="663.2" y2="998.3" stroke="#e6e6e6" stroke-width="0.7"/>
<line x1="511.4" y1="995.1" x2="663.2" y2="995.1" stroke="#e6e6e6" stroke-width="0.7"/>
<line x1="511.4" y1="992.4" x2="663.2" y2="992.4" stroke="#e6e6e6" stroke-width="0.7"/>
<line x1="511.4" y1="990.0" x2="663.2" y2="990.0" stroke="#e6e6e6" stroke-width="0.7"/>
<line x1="511.4" y1="987.9" x2="663.2" y2="987.9" stroke="#e6e6e6" stroke-width="0.85"/>
<line x1="533.2" y1="985.6" x2="533.2" y2="1176.4" stroke="#ebebeb" stroke-width="0.8"/>
<line x1="569.3" y1="985.6" x2="569.3" y2="1176.4" stroke="#ebebeb" stroke-width="0.8"/>
<line x1="605.4" y1="985.6" x2="605.4" y2="1176.4" stroke="#ebebeb" stroke-width="0.8"/>
<line x1="641.6" y1="985.6" x2="641.6" y2="1176.4" stroke="#ebebeb" stroke-width="0.8"/>
<rect x="511.4" y="985.6" width="151.8" height="190.8" fill="none" stroke="#333" stroke-width="0.9"/>
<line x1="508.7" y1="987.9" x2="511.4" y2="987.9" stroke="#333" stroke-width="0.8"/>
<text x="508.59999999999997" y="994.1999999999998" font-size="16.9" text-anchor="end" fill="#4d4d4d" font-weight="normal" >10</text>
<line x1="508.7" y1="1002.0" x2="511.4" y2="1002.0" stroke="#333" stroke-width="0.8"/>
<text x="508.59999999999997" y="1008.2581007975077" font-size="16.9" text-anchor="end" fill="#4d4d4d" font-weight="normal" >5</text>
<line x1="508.7" y1="1020.5" x2="511.4" y2="1020.5" stroke="#333" stroke-width="0.8"/>
<text x="508.59999999999997" y="1026.841899202492" font-size="16.9" text-anchor="end" fill="#4d4d4d" font-weight="normal" >2</text>
<line x1="508.7" y1="1034.6" x2="511.4" y2="1034.6" stroke="#333" stroke-width="0.8"/>
<text x="508.59999999999997" y="1040.8999999999999" font-size="16.9" text-anchor="end" fill="#4d4d4d" font-weight="normal" >1</text>
<line x1="508.7" y1="1048.7" x2="511.4" y2="1048.7" stroke="#333" stroke-width="0.8"/>
<text x="508.59999999999997" y="1054.9581007975078" font-size="16.9" text-anchor="end" fill="#4d4d4d" font-weight="normal" >0.5</text>
<line x1="508.7" y1="1067.2" x2="511.4" y2="1067.2" stroke="#333" stroke-width="0.8"/>
<text x="508.59999999999997" y="1073.541899202492" font-size="16.9" text-anchor="end" fill="#4d4d4d" font-weight="normal" >0.2</text>
<line x1="508.7" y1="1081.3" x2="511.4" y2="1081.3" stroke="#333" stroke-width="0.8"/>
<text x="508.59999999999997" y="1087.6" font-size="16.9" text-anchor="end" fill="#4d4d4d" font-weight="normal" >0.1</text>
<line x1="508.7" y1="1095.4" x2="511.4" y2="1095.4" stroke="#333" stroke-width="0.8"/>
<text x="508.59999999999997" y="1101.6581007975078" font-size="16.9" text-anchor="end" fill="#4d4d4d" font-weight="normal" >0.05</text>
<line x1="508.7" y1="1113.9" x2="511.4" y2="1113.9" stroke="#333" stroke-width="0.8"/>
<text x="508.59999999999997" y="1120.241899202492" font-size="16.9" text-anchor="end" fill="#4d4d4d" font-weight="normal" >0.02</text>
<line x1="508.7" y1="1128.0" x2="511.4" y2="1128.0" stroke="#333" stroke-width="0.8"/>
<text x="508.59999999999997" y="1134.3" font-size="16.9" text-anchor="end" fill="#4d4d4d" font-weight="normal" >0.01</text>
<line x1="508.7" y1="1142.1" x2="511.4" y2="1142.1" stroke="#333" stroke-width="0.8"/>
<text x="508.59999999999997" y="1148.3581007975079" font-size="16.9" text-anchor="end" fill="#4d4d4d" font-weight="normal" >0.005</text>
<line x1="508.7" y1="1160.6" x2="511.4" y2="1160.6" stroke="#333" stroke-width="0.8"/>
<text x="508.59999999999997" y="1166.9418992024919" font-size="16.9" text-anchor="end" fill="#4d4d4d" font-weight="normal" >0.002</text>
<line x1="508.7" y1="1174.7" x2="511.4" y2="1174.7" stroke="#333" stroke-width="0.8"/>
<text x="508.59999999999997" y="1180.9999999999998" font-size="16.9" text-anchor="end" fill="#4d4d4d" font-weight="normal" >0.001</text>
<line x1="533.2" y1="1176.4" x2="533.2" y2="1179.1000000000001" stroke="#333" stroke-width="0.8"/>
<text x="533.2" y="1191.2" font-size="16.9" text-anchor="middle" fill="#4d4d4d" font-weight="normal" >5%</text>
<line x1="569.3" y1="1176.4" x2="569.3" y2="1179.1000000000001" stroke="#333" stroke-width="0.8"/>
<text x="569.3" y="1191.2" font-size="16.9" text-anchor="middle" fill="#4d4d4d" font-weight="normal" >10%</text>
<line x1="605.4" y1="1176.4" x2="605.4" y2="1179.1000000000001" stroke="#333" stroke-width="0.8"/>
<text x="605.4" y="1191.2" font-size="16.9" text-anchor="middle" fill="#4d4d4d" font-weight="normal" >50%</text>
<line x1="641.6" y1="1176.4" x2="641.6" y2="1179.1000000000001" stroke="#333" stroke-width="0.8"/>
<text x="641.6" y="1191.2" font-size="16.9" text-anchor="middle" fill="#4d4d4d" font-weight="normal" >100%</text>
<line x1="533.2" y1="1008.1" x2="533.2" y2="1021.6" stroke="#483D8B" stroke-width="1.0"/>
<circle cx="533.2" cy="1014.8" r="1.85" fill="#483D8B"/>
<line x1="569.3" y1="1009.1" x2="569.3" y2="1024.9" stroke="#483D8B" stroke-width="1.0"/>
<circle cx="569.3" cy="1017.5" r="1.85" fill="#483D8B"/>
<line x1="605.4" y1="1020.9" x2="605.4" y2="1037.0" stroke="#483D8B" stroke-width="1.0"/>
<circle cx="605.4" cy="1028.6" r="1.85" fill="#483D8B"/>
<line x1="641.6" y1="1031.0" x2="641.6" y2="1048.8" stroke="#483D8B" stroke-width="1.0"/>
<circle cx="641.6" cy="1039.7" r="1.85" fill="#483D8B"/>
<text transform="translate(471.8,1081.3) rotate(-90)" font-size="12.7" text-anchor="middle">k estimate</text>
</g>
</svg>
</body></html>
